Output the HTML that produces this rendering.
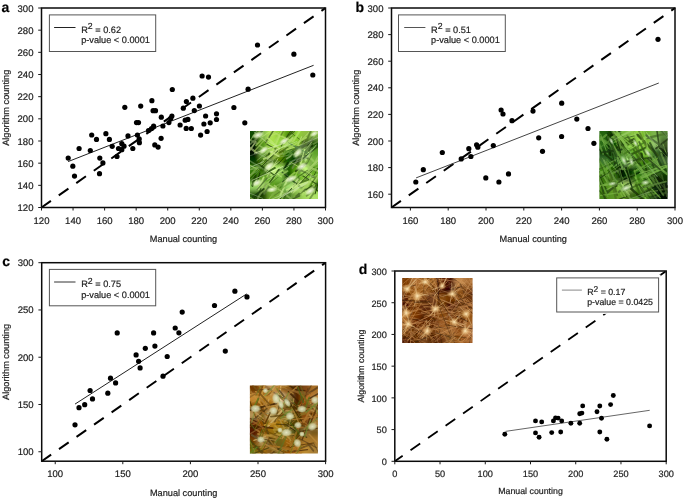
<!DOCTYPE html><html><head><meta charset="utf-8"><style>html,body{margin:0;padding:0;background:#fff;width:685px;height:499px;overflow:hidden}svg{display:block;will-change:transform}text{font-family:"Liberation Sans", sans-serif;stroke:#222;stroke-width:0.2px;text-rendering:geometricPrecision}</style></head><body>
<svg width="685" height="499" viewBox="0 0 685 499">
<rect width="685" height="499" fill="#fff"/>
<g transform="translate(250.1,131.1)"><defs><clipPath id="cla"><rect width="67.8" height="68"/></clipPath><filter id="fba" x="-20%" y="-20%" width="140%" height="140%"><feGaussianBlur stdDeviation="2.2"/></filter><filter id="fda" x="-10%" y="-10%" width="120%" height="120%"><feGaussianBlur stdDeviation="0.6"/></filter></defs><g clip-path="url(#cla)"><g filter="url(#fba)"><rect x="-8.5" y="-8.5" width="9.1" height="9.1" fill="#0f4900"/><rect x="0" y="-8.5" width="9.1" height="9.1" fill="#0f4900"/><rect x="8.5" y="-8.5" width="9.1" height="9.1" fill="#86bb4e"/><rect x="16.9" y="-8.5" width="9.1" height="9.1" fill="#b0e253"/><rect x="25.4" y="-8.5" width="9.1" height="9.1" fill="#90cd34"/><rect x="33.9" y="-8.5" width="9.1" height="9.1" fill="#52950c"/><rect x="42.4" y="-8.5" width="9.1" height="9.1" fill="#91d137"/><rect x="50.8" y="-8.5" width="9.1" height="9.1" fill="#8fbf41"/><rect x="59.3" y="-8.5" width="9.1" height="9.1" fill="#84b54b"/><rect x="67.8" y="-8.5" width="9.1" height="9.1" fill="#84b54b"/><rect x="-8.5" y="0" width="9.1" height="9.1" fill="#0f4900"/><rect x="0" y="0" width="9.1" height="9.1" fill="#0f4900"/><rect x="8.5" y="0" width="9.1" height="9.1" fill="#86bb4e"/><rect x="16.9" y="0" width="9.1" height="9.1" fill="#b0e253"/><rect x="25.4" y="0" width="9.1" height="9.1" fill="#90cd34"/><rect x="33.9" y="0" width="9.1" height="9.1" fill="#52950c"/><rect x="42.4" y="0" width="9.1" height="9.1" fill="#91d137"/><rect x="50.8" y="0" width="9.1" height="9.1" fill="#8fbf41"/><rect x="59.3" y="0" width="9.1" height="9.1" fill="#84b54b"/><rect x="67.8" y="0" width="9.1" height="9.1" fill="#84b54b"/><rect x="-8.5" y="8.5" width="9.1" height="9.1" fill="#001800"/><rect x="0" y="8.5" width="9.1" height="9.1" fill="#001800"/><rect x="8.5" y="8.5" width="9.1" height="9.1" fill="#519207"/><rect x="16.9" y="8.5" width="9.1" height="9.1" fill="#a6e249"/><rect x="25.4" y="8.5" width="9.1" height="9.1" fill="#9bd848"/><rect x="33.9" y="8.5" width="9.1" height="9.1" fill="#9cd155"/><rect x="42.4" y="8.5" width="9.1" height="9.1" fill="#86c72c"/><rect x="50.8" y="8.5" width="9.1" height="9.1" fill="#001900"/><rect x="59.3" y="8.5" width="9.1" height="9.1" fill="#194d00"/><rect x="67.8" y="8.5" width="9.1" height="9.1" fill="#194d00"/><rect x="-8.5" y="17" width="9.1" height="9.1" fill="#000e00"/><rect x="0" y="17" width="9.1" height="9.1" fill="#000e00"/><rect x="8.5" y="17" width="9.1" height="9.1" fill="#7db14a"/><rect x="16.9" y="17" width="9.1" height="9.1" fill="#a9d65d"/><rect x="25.4" y="17" width="9.1" height="9.1" fill="#67970a"/><rect x="33.9" y="17" width="9.1" height="9.1" fill="#266b00"/><rect x="42.4" y="17" width="9.1" height="9.1" fill="#024200"/><rect x="50.8" y="17" width="9.1" height="9.1" fill="#c3f686"/><rect x="59.3" y="17" width="9.1" height="9.1" fill="#60a329"/><rect x="67.8" y="17" width="9.1" height="9.1" fill="#60a329"/><rect x="-8.5" y="25.5" width="9.1" height="9.1" fill="#043700"/><rect x="0" y="25.5" width="9.1" height="9.1" fill="#043700"/><rect x="8.5" y="25.5" width="9.1" height="9.1" fill="#497d0c"/><rect x="16.9" y="25.5" width="9.1" height="9.1" fill="#275200"/><rect x="25.4" y="25.5" width="9.1" height="9.1" fill="#538300"/><rect x="33.9" y="25.5" width="9.1" height="9.1" fill="#105600"/><rect x="42.4" y="25.5" width="9.1" height="9.1" fill="#001b00"/><rect x="50.8" y="25.5" width="9.1" height="9.1" fill="#79ad3e"/><rect x="59.3" y="25.5" width="9.1" height="9.1" fill="#79b73e"/><rect x="67.8" y="25.5" width="9.1" height="9.1" fill="#79b73e"/><rect x="-8.5" y="34" width="9.1" height="9.1" fill="#3b7f08"/><rect x="0" y="34" width="9.1" height="9.1" fill="#3b7f08"/><rect x="8.5" y="34" width="9.1" height="9.1" fill="#255e00"/><rect x="16.9" y="34" width="9.1" height="9.1" fill="#d2ff87"/><rect x="25.4" y="34" width="9.1" height="9.1" fill="#a7e75e"/><rect x="33.9" y="34" width="9.1" height="9.1" fill="#125b00"/><rect x="42.4" y="34" width="9.1" height="9.1" fill="#5da410"/><rect x="50.8" y="34" width="9.1" height="9.1" fill="#c9ff7e"/><rect x="59.3" y="34" width="9.1" height="9.1" fill="#5ea220"/><rect x="67.8" y="34" width="9.1" height="9.1" fill="#5ea220"/><rect x="-8.5" y="42.5" width="9.1" height="9.1" fill="#255e00"/><rect x="0" y="42.5" width="9.1" height="9.1" fill="#255e00"/><rect x="8.5" y="42.5" width="9.1" height="9.1" fill="#65a628"/><rect x="16.9" y="42.5" width="9.1" height="9.1" fill="#67a92a"/><rect x="25.4" y="42.5" width="9.1" height="9.1" fill="#7dbd3f"/><rect x="33.9" y="42.5" width="9.1" height="9.1" fill="#003c00"/><rect x="42.4" y="42.5" width="9.1" height="9.1" fill="#5da41a"/><rect x="50.8" y="42.5" width="9.1" height="9.1" fill="#87cb36"/><rect x="59.3" y="42.5" width="9.1" height="9.1" fill="#74b62b"/><rect x="67.8" y="42.5" width="9.1" height="9.1" fill="#74b62b"/><rect x="-8.5" y="51" width="9.1" height="9.1" fill="#94d061"/><rect x="0" y="51" width="9.1" height="9.1" fill="#94d061"/><rect x="8.5" y="51" width="9.1" height="9.1" fill="#aada6c"/><rect x="16.9" y="51" width="9.1" height="9.1" fill="#60a121"/><rect x="25.4" y="51" width="9.1" height="9.1" fill="#42820b"/><rect x="33.9" y="51" width="9.1" height="9.1" fill="#a3de6e"/><rect x="42.4" y="51" width="9.1" height="9.1" fill="#b9e879"/><rect x="50.8" y="51" width="9.1" height="9.1" fill="#80c331"/><rect x="59.3" y="51" width="9.1" height="9.1" fill="#357006"/><rect x="67.8" y="51" width="9.1" height="9.1" fill="#357006"/><rect x="-8.5" y="59.5" width="9.1" height="9.1" fill="#295e0d"/><rect x="0" y="59.5" width="9.1" height="9.1" fill="#295e0d"/><rect x="8.5" y="59.5" width="9.1" height="9.1" fill="#1a4102"/><rect x="16.9" y="59.5" width="9.1" height="9.1" fill="#6ba12b"/><rect x="25.4" y="59.5" width="9.1" height="9.1" fill="#81b640"/><rect x="33.9" y="59.5" width="9.1" height="9.1" fill="#42761a"/><rect x="42.4" y="59.5" width="9.1" height="9.1" fill="#82b445"/><rect x="50.8" y="59.5" width="9.1" height="9.1" fill="#a1d85a"/><rect x="59.3" y="59.5" width="9.1" height="9.1" fill="#ace264"/><rect x="67.8" y="59.5" width="9.1" height="9.1" fill="#ace264"/><rect x="-8.5" y="68" width="9.1" height="9.1" fill="#295e0d"/><rect x="0" y="68" width="9.1" height="9.1" fill="#295e0d"/><rect x="8.5" y="68" width="9.1" height="9.1" fill="#1a4102"/><rect x="16.9" y="68" width="9.1" height="9.1" fill="#6ba12b"/><rect x="25.4" y="68" width="9.1" height="9.1" fill="#81b640"/><rect x="33.9" y="68" width="9.1" height="9.1" fill="#42761a"/><rect x="42.4" y="68" width="9.1" height="9.1" fill="#82b445"/><rect x="50.8" y="68" width="9.1" height="9.1" fill="#a1d85a"/><rect x="59.3" y="68" width="9.1" height="9.1" fill="#ace264"/><rect x="67.8" y="68" width="9.1" height="9.1" fill="#ace264"/></g><g filter="url(#fda)"><line x1="20.8" y1="44" x2="40.6" y2="32.1" stroke="#c2ea81" stroke-width="1.5" stroke-opacity="0.81" stroke-linecap="round"/><line x1="5.5" y1="38.8" x2="19.8" y2="21.9" stroke="#325a09" stroke-width="2.2" stroke-opacity="0.94" stroke-linecap="round"/><line x1="35.3" y1="48.7" x2="53.4" y2="35" stroke="#87be41" stroke-width="2" stroke-opacity="0.81" stroke-linecap="round"/><line x1="46.8" y1="16.6" x2="58.7" y2="27.8" stroke="#628442" stroke-width="1.7" stroke-opacity="0.76" stroke-linecap="round"/><line x1="14.9" y1="72.6" x2="22.8" y2="63.1" stroke="#99c25b" stroke-width="0.9" stroke-opacity="0.87" stroke-linecap="round"/><line x1="24.7" y1="59.6" x2="29.6" y2="55.5" stroke="#2a5708" stroke-width="2.1" stroke-opacity="0.62" stroke-linecap="round"/><line x1="18.4" y1="54.2" x2="32.6" y2="42.2" stroke="#4a7525" stroke-width="0.9" stroke-opacity="0.72" stroke-linecap="round"/><line x1="60.9" y1="60.6" x2="69.8" y2="42.5" stroke="#85af50" stroke-width="1.5" stroke-opacity="0.84" stroke-linecap="round"/><line x1="7.7" y1="39.2" x2="17.9" y2="30" stroke="#9dc068" stroke-width="0.8" stroke-opacity="0.90" stroke-linecap="round"/><line x1="62.8" y1="46.4" x2="69.4" y2="34.2" stroke="#2e5510" stroke-width="0.9" stroke-opacity="0.95" stroke-linecap="round"/><line x1="9.3" y1="14.5" x2="19.6" y2="20.6" stroke="#9dc767" stroke-width="1.6" stroke-opacity="0.69" stroke-linecap="round"/><line x1="33.9" y1="30.9" x2="47.7" y2="19.7" stroke="#1b4c02" stroke-width="1.3" stroke-opacity="0.82" stroke-linecap="round"/><line x1="16.8" y1="13.2" x2="25.4" y2="17.9" stroke="#3c5c1b" stroke-width="1.1" stroke-opacity="0.93" stroke-linecap="round"/><line x1="56.7" y1="43.7" x2="62.9" y2="38.4" stroke="#91c254" stroke-width="1.8" stroke-opacity="0.74" stroke-linecap="round"/><line x1="24.6" y1="64.3" x2="32.4" y2="58.8" stroke="#547c2a" stroke-width="1.1" stroke-opacity="0.80" stroke-linecap="round"/><line x1="54" y1="53.3" x2="61.6" y2="30.2" stroke="#82aa51" stroke-width="1.4" stroke-opacity="0.69" stroke-linecap="round"/><line x1="-0.3" y1="16.6" x2="6.6" y2="21.8" stroke="#8ba063" stroke-width="2.2" stroke-opacity="0.83" stroke-linecap="round"/><line x1="37.2" y1="47.2" x2="56.5" y2="32.2" stroke="#95c650" stroke-width="1.2" stroke-opacity="0.61" stroke-linecap="round"/><line x1="36.5" y1="9.8" x2="44.6" y2="0.4" stroke="#376709" stroke-width="1.6" stroke-opacity="0.86" stroke-linecap="round"/><line x1="50.8" y1="56.7" x2="71.2" y2="43.5" stroke="#abd56a" stroke-width="2.1" stroke-opacity="0.90" stroke-linecap="round"/><line x1="20.1" y1="58.1" x2="36.4" y2="49.4" stroke="#92bc58" stroke-width="1.7" stroke-opacity="0.63" stroke-linecap="round"/><line x1="37.1" y1="70.4" x2="49.6" y2="64.7" stroke="#406022" stroke-width="1.4" stroke-opacity="0.89" stroke-linecap="round"/><line x1="3.7" y1="54.4" x2="7.6" y2="47.7" stroke="#bee285" stroke-width="1" stroke-opacity="0.87" stroke-linecap="round"/><line x1="42.4" y1="36.8" x2="47.1" y2="29.3" stroke="#708a50" stroke-width="1.9" stroke-opacity="0.72" stroke-linecap="round"/><line x1="56.1" y1="40.6" x2="70" y2="27.2" stroke="#a6d16a" stroke-width="1.9" stroke-opacity="0.92" stroke-linecap="round"/><line x1="56.1" y1="22.5" x2="63.3" y2="29.8" stroke="#a3d068" stroke-width="2.1" stroke-opacity="0.61" stroke-linecap="round"/><line x1="-0.7" y1="72.5" x2="9.4" y2="60.8" stroke="#153408" stroke-width="1.3" stroke-opacity="0.78" stroke-linecap="round"/><line x1="42.5" y1="46.6" x2="48.7" y2="50.8" stroke="#aad36b" stroke-width="0.9" stroke-opacity="0.85" stroke-linecap="round"/><line x1="34.7" y1="19.3" x2="42.7" y2="22.7" stroke="#649936" stroke-width="2" stroke-opacity="0.68" stroke-linecap="round"/><line x1="4.4" y1="10.9" x2="14.7" y2="-4.5" stroke="#385620" stroke-width="2.1" stroke-opacity="0.84" stroke-linecap="round"/><line x1="4.9" y1="38.3" x2="22.2" y2="26.3" stroke="#7ba53e" stroke-width="1.1" stroke-opacity="0.87" stroke-linecap="round"/><line x1="28.2" y1="57.9" x2="44.9" y2="70.8" stroke="#9cbf68" stroke-width="2.1" stroke-opacity="0.63" stroke-linecap="round"/><line x1="59.5" y1="52.4" x2="67" y2="45.8" stroke="#4f801e" stroke-width="1.6" stroke-opacity="0.83" stroke-linecap="round"/><line x1="30.2" y1="64.4" x2="38" y2="47" stroke="#bfe686" stroke-width="1.9" stroke-opacity="0.82" stroke-linecap="round"/><line x1="36.5" y1="18.6" x2="60.8" y2="10.5" stroke="#b6de6e" stroke-width="1.2" stroke-opacity="0.92" stroke-linecap="round"/><line x1="55.4" y1="29.6" x2="60.6" y2="17.8" stroke="#caf18d" stroke-width="2.1" stroke-opacity="0.68" stroke-linecap="round"/><line x1="55.9" y1="34.8" x2="61.7" y2="23.5" stroke="#4d7327" stroke-width="1" stroke-opacity="0.78" stroke-linecap="round"/><line x1="41.6" y1="59.7" x2="56.5" y2="54.5" stroke="#769a4d" stroke-width="1.1" stroke-opacity="0.78" stroke-linecap="round"/><line x1="10.8" y1="56.8" x2="28.5" y2="42.3" stroke="#98c75c" stroke-width="1.3" stroke-opacity="0.90" stroke-linecap="round"/><line x1="53.8" y1="18.1" x2="68.3" y2="10.2" stroke="#678f3f" stroke-width="1.6" stroke-opacity="0.78" stroke-linecap="round"/><line x1="37" y1="7.6" x2="45.1" y2="-3.8" stroke="#2b5308" stroke-width="1.5" stroke-opacity="0.84" stroke-linecap="round"/><line x1="-5.9" y1="40.4" x2="14.8" y2="32.9" stroke="#7dae46" stroke-width="1.5" stroke-opacity="0.72" stroke-linecap="round"/><line x1="57.5" y1="65.6" x2="64.6" y2="61.6" stroke="#bae576" stroke-width="1.2" stroke-opacity="0.85" stroke-linecap="round"/><line x1="59.5" y1="9.6" x2="73" y2="-4.7" stroke="#a9cf6f" stroke-width="1.7" stroke-opacity="0.64" stroke-linecap="round"/><line x1="41.5" y1="2.1" x2="57.6" y2="14.6" stroke="#385a16" stroke-width="0.8" stroke-opacity="0.82" stroke-linecap="round"/><line x1="47.7" y1="37.5" x2="64.2" y2="46.2" stroke="#63853d" stroke-width="2" stroke-opacity="0.81" stroke-linecap="round"/><line x1="54.6" y1="20.9" x2="61.6" y2="10.8" stroke="#8da665" stroke-width="1.1" stroke-opacity="0.95" stroke-linecap="round"/><line x1="57.6" y1="12" x2="62.7" y2="6.2" stroke="#769c4b" stroke-width="2.1" stroke-opacity="0.79" stroke-linecap="round"/><line x1="44.1" y1="21.5" x2="51.5" y2="5.8" stroke="#b6de70" stroke-width="1.3" stroke-opacity="0.85" stroke-linecap="round"/><line x1="36.5" y1="27.6" x2="49.6" y2="19.1" stroke="#82aa5d" stroke-width="1.7" stroke-opacity="0.92" stroke-linecap="round"/><line x1="27.3" y1="23" x2="38" y2="2.8" stroke="#39591b" stroke-width="0.9" stroke-opacity="0.62" stroke-linecap="round"/><line x1="60.6" y1="38" x2="68.4" y2="24.8" stroke="#a6d16a" stroke-width="1.6" stroke-opacity="0.60" stroke-linecap="round"/><line x1="42.6" y1="61.8" x2="52.4" y2="53" stroke="#caea8d" stroke-width="1.6" stroke-opacity="0.63" stroke-linecap="round"/><line x1="47" y1="29.4" x2="60.5" y2="14.6" stroke="#597a3c" stroke-width="1.4" stroke-opacity="0.81" stroke-linecap="round"/><line x1="32.8" y1="70.7" x2="35.6" y2="62.9" stroke="#2b5111" stroke-width="2.1" stroke-opacity="0.65" stroke-linecap="round"/><line x1="16.8" y1="45.7" x2="27.9" y2="27.6" stroke="#d2f390" stroke-width="0.9" stroke-opacity="0.72" stroke-linecap="round"/><line x1="24.6" y1="10.4" x2="39" y2="-8.9" stroke="#adda60" stroke-width="2.1" stroke-opacity="0.70" stroke-linecap="round"/><line x1="9.3" y1="32" x2="20" y2="23.3" stroke="#254508" stroke-width="1.8" stroke-opacity="0.87" stroke-linecap="round"/><line x1="61.6" y1="-0.8" x2="71.3" y2="3.9" stroke="#add172" stroke-width="1.9" stroke-opacity="0.83" stroke-linecap="round"/><line x1="-4.1" y1="24.6" x2="5.6" y2="10.6" stroke="#91a667" stroke-width="1.6" stroke-opacity="0.95" stroke-linecap="round"/><line x1="37.5" y1="62.9" x2="49" y2="47.2" stroke="#648541" stroke-width="2.1" stroke-opacity="0.74" stroke-linecap="round"/><line x1="62.9" y1="56" x2="68.6" y2="60.4" stroke="#204606" stroke-width="1.5" stroke-opacity="0.81" stroke-linecap="round"/><line x1="22.2" y1="24.7" x2="27.4" y2="14.2" stroke="#618235" stroke-width="0.8" stroke-opacity="0.69" stroke-linecap="round"/><line x1="-1.8" y1="14.7" x2="7.6" y2="6.6" stroke="#748d53" stroke-width="1.8" stroke-opacity="0.71" stroke-linecap="round"/><line x1="45.5" y1="21.4" x2="62.6" y2="9" stroke="#516a3a" stroke-width="1.9" stroke-opacity="0.92" stroke-linecap="round"/><line x1="6.5" y1="67.8" x2="13.1" y2="62.7" stroke="#122e04" stroke-width="1.1" stroke-opacity="0.62" stroke-linecap="round"/><line x1="30.2" y1="12.9" x2="41.4" y2="4" stroke="#9bc65b" stroke-width="1.8" stroke-opacity="0.73" stroke-linecap="round"/><line x1="41.4" y1="60.5" x2="59.5" y2="50.4" stroke="#c3e984" stroke-width="2" stroke-opacity="0.87" stroke-linecap="round"/><line x1="37.6" y1="33.5" x2="47.1" y2="15.3" stroke="#1a4a02" stroke-width="1.2" stroke-opacity="0.68" stroke-linecap="round"/><line x1="61.6" y1="35.9" x2="67.5" y2="32.4" stroke="#92c254" stroke-width="1.4" stroke-opacity="0.82" stroke-linecap="round"/><line x1="-1" y1="46" x2="14.9" y2="27.7" stroke="#7cae45" stroke-width="2.2" stroke-opacity="0.77" stroke-linecap="round"/><line x1="13.6" y1="27.7" x2="34.4" y2="18.3" stroke="#b9de73" stroke-width="1.9" stroke-opacity="0.82" stroke-linecap="round"/><line x1="45.8" y1="17.3" x2="58.4" y2="11.7" stroke="#556e3d" stroke-width="2" stroke-opacity="0.81" stroke-linecap="round"/><line x1="14.7" y1="56.1" x2="24.7" y2="47.2" stroke="#abd26e" stroke-width="0.9" stroke-opacity="0.63" stroke-linecap="round"/><line x1="29.4" y1="39.1" x2="47.1" y2="26.8" stroke="#629540" stroke-width="1.7" stroke-opacity="0.63" stroke-linecap="round"/><line x1="19.1" y1="53.5" x2="22.1" y2="45.1" stroke="#a8d16b" stroke-width="1.3" stroke-opacity="0.64" stroke-linecap="round"/><line x1="43.7" y1="48.8" x2="52.5" y2="28.6" stroke="#93c54e" stroke-width="1.4" stroke-opacity="0.93" stroke-linecap="round"/><line x1="58.9" y1="19.6" x2="62.4" y2="14.2" stroke="#113203" stroke-width="1.9" stroke-opacity="0.86" stroke-linecap="round"/><line x1="17.6" y1="31.1" x2="32.3" y2="22" stroke="#90b05c" stroke-width="2" stroke-opacity="0.70" stroke-linecap="round"/><line x1="-3.8" y1="32.4" x2="6.8" y2="37.8" stroke="#9cc564" stroke-width="1.4" stroke-opacity="0.80" stroke-linecap="round"/><line x1="18" y1="47.1" x2="23.4" y2="27.1" stroke="#86a956" stroke-width="1.7" stroke-opacity="0.65" stroke-linecap="round"/><line x1="44.1" y1="48.6" x2="57" y2="39.6" stroke="#366410" stroke-width="1.4" stroke-opacity="0.72" stroke-linecap="round"/><line x1="48.3" y1="28" x2="61.1" y2="17.2" stroke="#547439" stroke-width="2.1" stroke-opacity="0.74" stroke-linecap="round"/><line x1="48.4" y1="53.7" x2="63.7" y2="37" stroke="#315314" stroke-width="1.7" stroke-opacity="0.78" stroke-linecap="round"/><line x1="36.7" y1="58.7" x2="59.6" y2="50.4" stroke="#c3e985" stroke-width="1.7" stroke-opacity="0.84" stroke-linecap="round"/><line x1="10.8" y1="20.1" x2="32.8" y2="32.8" stroke="#759845" stroke-width="1" stroke-opacity="0.83" stroke-linecap="round"/><line x1="50.5" y1="14.6" x2="54.7" y2="9.8" stroke="#849d5f" stroke-width="1.2" stroke-opacity="0.67" stroke-linecap="round"/><line x1="17.5" y1="34.2" x2="31.2" y2="45.8" stroke="#d2f78d" stroke-width="1.2" stroke-opacity="0.66" stroke-linecap="round"/><line x1="45.4" y1="15.1" x2="57.3" y2="27.3" stroke="#638543" stroke-width="1.4" stroke-opacity="0.93" stroke-linecap="round"/><line x1="41.8" y1="56.8" x2="47.7" y2="48.2" stroke="#caea8d" stroke-width="1.9" stroke-opacity="0.73" stroke-linecap="round"/><line x1="33.9" y1="38.1" x2="37.7" y2="32" stroke="#0d3103" stroke-width="2" stroke-opacity="0.92" stroke-linecap="round"/><line x1="26.5" y1="18.9" x2="34.6" y2="14.7" stroke="#b4e16c" stroke-width="1.2" stroke-opacity="0.90" stroke-linecap="round"/><line x1="27.7" y1="39.2" x2="42.3" y2="47.4" stroke="#82a85d" stroke-width="0.8" stroke-opacity="0.89" stroke-linecap="round"/><line x1="52.6" y1="63.7" x2="62.1" y2="48.1" stroke="#b6dd74" stroke-width="1.8" stroke-opacity="0.63" stroke-linecap="round"/><line x1="41.3" y1="31.5" x2="60.2" y2="42.4" stroke="#abd46a" stroke-width="0.9" stroke-opacity="0.89" stroke-linecap="round"/><line x1="3.9" y1="29.8" x2="24.4" y2="44.1" stroke="#194002" stroke-width="1.4" stroke-opacity="0.79" stroke-linecap="round"/><line x1="62.4" y1="53.8" x2="72.8" y2="37" stroke="#a2d05f" stroke-width="1.4" stroke-opacity="0.94" stroke-linecap="round"/><line x1="49.3" y1="51.8" x2="63.3" y2="37.2" stroke="#a9d961" stroke-width="1" stroke-opacity="0.87" stroke-linecap="round"/><line x1="54.1" y1="59.7" x2="61.9" y2="55.1" stroke="#305213" stroke-width="1.8" stroke-opacity="0.93" stroke-linecap="round"/><line x1="48.7" y1="42.1" x2="53.6" y2="33.4" stroke="#709546" stroke-width="2.1" stroke-opacity="0.80" stroke-linecap="round"/><line x1="45.7" y1="25.4" x2="52.5" y2="19.7" stroke="#7ca558" stroke-width="1.8" stroke-opacity="0.66" stroke-linecap="round"/><line x1="24.2" y1="54.3" x2="30.3" y2="59.5" stroke="#a6cb6c" stroke-width="1.4" stroke-opacity="0.87" stroke-linecap="round"/><line x1="18.6" y1="53.7" x2="27.7" y2="58.2" stroke="#a3cd66" stroke-width="1.5" stroke-opacity="0.92" stroke-linecap="round"/><line x1="32.4" y1="41.2" x2="52.1" y2="57.6" stroke="#062903" stroke-width="1.7" stroke-opacity="0.61" stroke-linecap="round"/><line x1="17.2" y1="27.6" x2="27.7" y2="19" stroke="#c3e381" stroke-width="2" stroke-opacity="0.81" stroke-linecap="round"/><line x1="7.9" y1="58" x2="13.6" y2="46.3" stroke="#bae17d" stroke-width="1.8" stroke-opacity="0.95" stroke-linecap="round"/><line x1="32.4" y1="50.7" x2="37.5" y2="46.6" stroke="#062803" stroke-width="1" stroke-opacity="0.77" stroke-linecap="round"/><line x1="23.6" y1="27.3" x2="33" y2="18" stroke="#91b841" stroke-width="2.2" stroke-opacity="0.65" stroke-linecap="round"/><line x1="50.2" y1="31.9" x2="72.3" y2="42" stroke="#a5cf68" stroke-width="2.1" stroke-opacity="0.72" stroke-linecap="round"/><line x1="3.9" y1="73.9" x2="15.8" y2="53.1" stroke="#7f9f54" stroke-width="2" stroke-opacity="0.66" stroke-linecap="round"/><line x1="31.3" y1="14.3" x2="43" y2="-3.9" stroke="#204007" stroke-width="1" stroke-opacity="0.86" stroke-linecap="round"/><line x1="48.7" y1="55" x2="66.2" y2="68.3" stroke="#b6e073" stroke-width="1.5" stroke-opacity="0.65" stroke-linecap="round"/><line x1="23.1" y1="41.7" x2="29.3" y2="35.7" stroke="#c4ea84" stroke-width="0.9" stroke-opacity="0.87" stroke-linecap="round"/><line x1="40.4" y1="56.5" x2="57.4" y2="50.6" stroke="#c5e987" stroke-width="1.7" stroke-opacity="0.84" stroke-linecap="round"/><line x1="44.3" y1="53.8" x2="58.5" y2="48.4" stroke="#3a6017" stroke-width="2" stroke-opacity="0.64" stroke-linecap="round"/><line x1="4.6" y1="70.5" x2="10.9" y2="57.2" stroke="#1b3f09" stroke-width="0.9" stroke-opacity="0.85" stroke-linecap="round"/><line x1="51.7" y1="44.2" x2="70.4" y2="55.3" stroke="#2e5112" stroke-width="1.1" stroke-opacity="0.90" stroke-linecap="round"/><line x1="14.1" y1="62.7" x2="18.7" y2="56" stroke="#537334" stroke-width="1.7" stroke-opacity="0.93" stroke-linecap="round"/><line x1="55.6" y1="73.9" x2="63.7" y2="62" stroke="#678d3b" stroke-width="1.8" stroke-opacity="0.80" stroke-linecap="round"/><line x1="55.8" y1="13" x2="66.7" y2="0.4" stroke="#597f32" stroke-width="1.1" stroke-opacity="0.70" stroke-linecap="round"/><line x1="15.6" y1="6.9" x2="28.5" y2="1.6" stroke="#c3e778" stroke-width="0.9" stroke-opacity="0.61" stroke-linecap="round"/><line x1="52.5" y1="27.6" x2="69.3" y2="14.2" stroke="#274a11" stroke-width="1.1" stroke-opacity="0.90" stroke-linecap="round"/><line x1="43.4" y1="9.5" x2="50.5" y2="-1.5" stroke="#acdc5e" stroke-width="2" stroke-opacity="0.95" stroke-linecap="round"/><line x1="2.6" y1="49.2" x2="24.8" y2="36.8" stroke="#3b6718" stroke-width="1.9" stroke-opacity="0.94" stroke-linecap="round"/><line x1="9.5" y1="37.3" x2="27.6" y2="19.9" stroke="#193702" stroke-width="1" stroke-opacity="0.90" stroke-linecap="round"/><line x1="6.6" y1="52.1" x2="9.8" y2="41.9" stroke="#143503" stroke-width="1.3" stroke-opacity="0.83" stroke-linecap="round"/><line x1="49.5" y1="45.8" x2="70.5" y2="34.4" stroke="#90c153" stroke-width="1" stroke-opacity="0.83" stroke-linecap="round"/><line x1="20.4" y1="0.1" x2="42.3" y2="10.2" stroke="#b5de6a" stroke-width="1.6" stroke-opacity="0.75" stroke-linecap="round"/><line x1="34.5" y1="15.4" x2="42.6" y2="7" stroke="#b2dc70" stroke-width="2.1" stroke-opacity="0.95" stroke-linecap="round"/><line x1="-8.1" y1="24.8" x2="12.7" y2="37.9" stroke="#59813e" stroke-width="1.6" stroke-opacity="0.83" stroke-linecap="round"/><line x1="19.7" y1="51.3" x2="29" y2="38.2" stroke="#305614" stroke-width="1.5" stroke-opacity="0.93" stroke-linecap="round"/><line x1="7" y1="58.6" x2="16.6" y2="47.4" stroke="#537334" stroke-width="1.2" stroke-opacity="0.85" stroke-linecap="round"/><line x1="41.2" y1="13.5" x2="56.7" y2="21.8" stroke="#4d7f36" stroke-width="1.6" stroke-opacity="0.85" stroke-linecap="round"/><line x1="32.3" y1="65.7" x2="45.3" y2="53" stroke="#c1e687" stroke-width="1.5" stroke-opacity="0.85" stroke-linecap="round"/><line x1="52" y1="8.3" x2="64.2" y2="-4.1" stroke="#b9db76" stroke-width="1.1" stroke-opacity="0.65" stroke-linecap="round"/><line x1="15.5" y1="11.6" x2="26.7" y2="-5.9" stroke="#496823" stroke-width="1.5" stroke-opacity="0.83" stroke-linecap="round"/><line x1="28" y1="33.1" x2="41.2" y2="18.4" stroke="#0c3203" stroke-width="0.9" stroke-opacity="0.74" stroke-linecap="round"/><line x1="20.1" y1="24.2" x2="29.3" y2="5.2" stroke="#b7e668" stroke-width="1.8" stroke-opacity="0.78" stroke-linecap="round"/><line x1="62.7" y1="1.8" x2="71" y2="-1.3" stroke="#a7ce6d" stroke-width="1.4" stroke-opacity="0.63" stroke-linecap="round"/><line x1="-2.5" y1="65.1" x2="7.2" y2="70.4" stroke="#729b49" stroke-width="1.4" stroke-opacity="0.93" stroke-linecap="round"/><line x1="20.6" y1="20.7" x2="28.7" y2="25.1" stroke="#c6e585" stroke-width="1.8" stroke-opacity="0.80" stroke-linecap="round"/><line x1="56.6" y1="64.7" x2="67.1" y2="55.6" stroke="#5e8236" stroke-width="1.9" stroke-opacity="0.68" stroke-linecap="round"/><line x1="17.8" y1="7.2" x2="29.3" y2="17.7" stroke="#bfe774" stroke-width="1.9" stroke-opacity="0.77" stroke-linecap="round"/><line x1="28.9" y1="45.2" x2="37.5" y2="40" stroke="#9dce60" stroke-width="1.8" stroke-opacity="0.73" stroke-linecap="round"/><line x1="11.9" y1="5.8" x2="25.3" y2="-3.3" stroke="#c4e77a" stroke-width="1.1" stroke-opacity="0.64" stroke-linecap="round"/><line x1="2.4" y1="54.7" x2="5.4" y2="44.3" stroke="#1a4402" stroke-width="2.2" stroke-opacity="0.89" stroke-linecap="round"/><line x1="21.6" y1="64.1" x2="39.4" y2="52.1" stroke="#77a93e" stroke-width="1.4" stroke-opacity="0.68" stroke-linecap="round"/><line x1="-1.8" y1="8" x2="7.3" y2="12.5" stroke="#6d854e" stroke-width="1.8" stroke-opacity="0.78" stroke-linecap="round"/><line x1="33.1" y1="23.3" x2="41.2" y2="19.4" stroke="#73a443" stroke-width="1.8" stroke-opacity="0.74" stroke-linecap="round"/><line x1="21.9" y1="64" x2="30.6" y2="53.8" stroke="#7bac42" stroke-width="2" stroke-opacity="0.86" stroke-linecap="round"/><line x1="31" y1="4" x2="34.5" y2="-2.4" stroke="#476c1a" stroke-width="1.3" stroke-opacity="0.64" stroke-linecap="round"/><line x1="50.6" y1="32.5" x2="54.4" y2="18.4" stroke="#c9f28c" stroke-width="1.3" stroke-opacity="0.71" stroke-linecap="round"/><line x1="29.3" y1="21.5" x2="38.1" y2="16.5" stroke="#3b5d08" stroke-width="1.8" stroke-opacity="0.78" stroke-linecap="round"/><line x1="46.1" y1="65.3" x2="54.6" y2="58.1" stroke="#4b6e28" stroke-width="2.1" stroke-opacity="0.92" stroke-linecap="round"/><line x1="2.6" y1="65.8" x2="13.7" y2="57.9" stroke="#1b4009" stroke-width="1.8" stroke-opacity="0.91" stroke-linecap="round"/><line x1="0" y1="9.5" x2="9.8" y2="-4.7" stroke="#81a858" stroke-width="1.1" stroke-opacity="0.76" stroke-linecap="round"/><line x1="39.3" y1="74.7" x2="44.1" y2="55.1" stroke="#78a249" stroke-width="0.9" stroke-opacity="0.79" stroke-linecap="round"/><line x1="33.5" y1="13" x2="49.6" y2="-4.3" stroke="#a8ce68" stroke-width="0.9" stroke-opacity="0.65" stroke-linecap="round"/><line x1="33.1" y1="23.9" x2="35.7" y2="18.1" stroke="#72a443" stroke-width="1.2" stroke-opacity="0.68" stroke-linecap="round"/><line x1="29" y1="68.7" x2="41.6" y2="57.3" stroke="#1f3e0d" stroke-width="0.9" stroke-opacity="0.89" stroke-linecap="round"/><line x1="58.6" y1="50.8" x2="61.3" y2="43.2" stroke="#afd76f" stroke-width="1.1" stroke-opacity="0.74" stroke-linecap="round"/><line x1="4.5" y1="19.9" x2="16.8" y2="6.2" stroke="#98c355" stroke-width="1.3" stroke-opacity="0.70" stroke-linecap="round"/><line x1="45.5" y1="40.2" x2="56.1" y2="32.4" stroke="#254909" stroke-width="1.8" stroke-opacity="0.91" stroke-linecap="round"/><line x1="65" y1="62.8" x2="69.1" y2="48.4" stroke="#1f4405" stroke-width="1" stroke-opacity="0.90" stroke-linecap="round"/><line x1="55" y1="13.2" x2="63" y2="-6" stroke="#557827" stroke-width="1.7" stroke-opacity="0.73" stroke-linecap="round"/><line x1="36.7" y1="18.4" x2="55.9" y2="6.5" stroke="#acd961" stroke-width="1.8" stroke-opacity="0.82" stroke-linecap="round"/><line x1="50.1" y1="61.2" x2="62.6" y2="47.7" stroke="#afda6b" stroke-width="2.2" stroke-opacity="0.77" stroke-linecap="round"/><line x1="43" y1="57.8" x2="51" y2="49.7" stroke="#c8ea8a" stroke-width="1.3" stroke-opacity="0.84" stroke-linecap="round"/><line x1="6" y1="14.3" x2="12.8" y2="7.1" stroke="#96c254" stroke-width="1.9" stroke-opacity="0.74" stroke-linecap="round"/><line x1="58.4" y1="58.9" x2="64.2" y2="54.4" stroke="#9cc064" stroke-width="1.7" stroke-opacity="0.68" stroke-linecap="round"/><line x1="39.8" y1="30.8" x2="58.1" y2="24.7" stroke="#80917b" stroke-width="0.8" stroke-opacity="0.65" stroke-linecap="round"/><line x1="4" y1="0.9" x2="19.8" y2="13.7" stroke="#c9e1b1" stroke-width="0.6" stroke-opacity="0.80" stroke-linecap="round"/><line x1="8.7" y1="22.9" x2="28.5" y2="31.5" stroke="#7e9a65" stroke-width="0.5" stroke-opacity="0.62" stroke-linecap="round"/><line x1="54.9" y1="28.1" x2="66.1" y2="13.9" stroke="#b8d69e" stroke-width="0.9" stroke-opacity="0.74" stroke-linecap="round"/><line x1="-5" y1="26.3" x2="9.4" y2="21.5" stroke="#97a292" stroke-width="0.6" stroke-opacity="0.67" stroke-linecap="round"/><line x1="4.2" y1="22.1" x2="35.2" y2="11.9" stroke="#d4eeae" stroke-width="0.9" stroke-opacity="0.79" stroke-linecap="round"/><line x1="38.5" y1="23.3" x2="53" y2="13.6" stroke="#558151" stroke-width="0.6" stroke-opacity="0.94" stroke-linecap="round"/><line x1="-12" y1="41.3" x2="13.5" y2="30.5" stroke="#abc993" stroke-width="0.8" stroke-opacity="0.87" stroke-linecap="round"/><line x1="54.4" y1="12" x2="79.3" y2="1.7" stroke="#cae0b1" stroke-width="0.5" stroke-opacity="0.80" stroke-linecap="round"/><line x1="8.2" y1="22.2" x2="22.6" y2="30.6" stroke="#a6c187" stroke-width="0.7" stroke-opacity="0.71" stroke-linecap="round"/><line x1="-0.8" y1="49.8" x2="9.8" y2="39" stroke="#6e9554" stroke-width="0.6" stroke-opacity="0.71" stroke-linecap="round"/><line x1="6.8" y1="29.4" x2="21.2" y2="17.9" stroke="#a4c980" stroke-width="0.7" stroke-opacity="0.74" stroke-linecap="round"/><line x1="16.5" y1="41.2" x2="27.1" y2="31.8" stroke="#e0f9bb" stroke-width="0.7" stroke-opacity="0.71" stroke-linecap="round"/><line x1="19.6" y1="68.9" x2="44.6" y2="58.7" stroke="#b1d289" stroke-width="0.8" stroke-opacity="0.93" stroke-linecap="round"/><line x1="17.4" y1="9.9" x2="26.3" y2="15.1" stroke="#cfeda3" stroke-width="0.9" stroke-opacity="0.62" stroke-linecap="round"/><line x1="29.5" y1="25.9" x2="54.1" y2="20.9" stroke="#93b77d" stroke-width="0.5" stroke-opacity="0.89" stroke-linecap="round"/><line x1="37.9" y1="34.4" x2="55.7" y2="27.2" stroke="#849580" stroke-width="0.7" stroke-opacity="0.78" stroke-linecap="round"/><line x1="-2.8" y1="45" x2="7.2" y2="40.3" stroke="#81a46a" stroke-width="0.7" stroke-opacity="0.71" stroke-linecap="round"/><line x1="2" y1="49.3" x2="32.7" y2="35.4" stroke="#e3f8c4" stroke-width="0.6" stroke-opacity="0.95" stroke-linecap="round"/><line x1="19.8" y1="21.4" x2="46.8" y2="10.4" stroke="#d4ecb5" stroke-width="0.5" stroke-opacity="0.90" stroke-linecap="round"/><line x1="38.2" y1="11.5" x2="58.3" y2="22.6" stroke="#648d5f" stroke-width="0.6" stroke-opacity="0.83" stroke-linecap="round"/><line x1="-0.8" y1="38.9" x2="10.7" y2="36.6" stroke="#7cab59" stroke-width="0.8" stroke-opacity="0.94" stroke-linecap="round"/><line x1="-3.9" y1="60.6" x2="12.8" y2="67.4" stroke="#aec5a0" stroke-width="0.6" stroke-opacity="0.70" stroke-linecap="round"/><line x1="17.6" y1="48.3" x2="38.8" y2="35.3" stroke="#c1ec90" stroke-width="0.9" stroke-opacity="0.67" stroke-linecap="round"/><line x1="27.8" y1="67.7" x2="57.5" y2="51.5" stroke="#c5ddaa" stroke-width="0.8" stroke-opacity="0.90" stroke-linecap="round"/><line x1="57.7" y1="47.8" x2="70.6" y2="41.7" stroke="#bbdb99" stroke-width="0.7" stroke-opacity="0.65" stroke-linecap="round"/><defs><radialGradient id="rga"><stop offset="0" stop-color="#f4f9e6" stop-opacity="1"/><stop offset="0.55" stop-color="#dcefb8" stop-opacity="0.75"/><stop offset="1" stop-color="#b8dc88" stop-opacity="0"/></radialGradient></defs><ellipse cx="8" cy="4" rx="7" ry="3.5" fill="url(#rga)" transform="rotate(-20 8 4)"/><ellipse cx="13.6" cy="19" rx="6" ry="3" fill="url(#rga)" transform="rotate(-40 13.6 19)"/><ellipse cx="19" cy="35.4" rx="7" ry="3.5" fill="url(#rga)" transform="rotate(-40 19 35.4)"/><ellipse cx="47.7" cy="21.8" rx="7" ry="3.5" fill="url(#rga)" transform="rotate(-50 47.7 21.8)"/><ellipse cx="51.8" cy="35.4" rx="7" ry="3.5" fill="url(#rga)" transform="rotate(-30 51.8 35.4)"/><ellipse cx="40.9" cy="47.7" rx="8" ry="3.5" fill="url(#rga)" transform="rotate(-20 40.9 47.7)"/><ellipse cx="6.8" cy="51.8" rx="6" ry="3.5" fill="url(#rga)" transform="rotate(-30 6.8 51.8)"/><ellipse cx="60" cy="60" rx="7" ry="3.5" fill="url(#rga)" transform="rotate(-30 60 60)"/><ellipse cx="21.8" cy="58.6" rx="6" ry="3" fill="url(#rga)" transform="rotate(-10 21.8 58.6)"/><ellipse cx="34" cy="10" rx="6" ry="3" fill="url(#rga)" transform="rotate(-30 34 10)"/><ellipse cx="64" cy="2.7" rx="5" ry="2.5" fill="url(#rga)" transform="rotate(-30 64 2.7)"/></g></g></g>
<line x1="41.5" y1="207.5" x2="325.5" y2="8" stroke="#000" stroke-width="2" stroke-dasharray="11.8 9.6" stroke-dashoffset="0.3"/>
<line x1="68.1" y1="161.6" x2="313.6" y2="65.3" stroke="#222" stroke-width="1"/>
<circle cx="68.2" cy="158.1" r="2.6" fill="#000"/>
<circle cx="72.8" cy="166.2" r="2.6" fill="#000"/>
<circle cx="74.5" cy="176.1" r="2.6" fill="#000"/>
<circle cx="79.1" cy="148.5" r="2.6" fill="#000"/>
<circle cx="90.3" cy="150.5" r="2.6" fill="#000"/>
<circle cx="91.7" cy="135" r="2.6" fill="#000"/>
<circle cx="96.5" cy="139.4" r="2.6" fill="#000"/>
<circle cx="99.8" cy="158.1" r="2.6" fill="#000"/>
<circle cx="102.9" cy="162.9" r="2.6" fill="#000"/>
<circle cx="99.5" cy="173.7" r="2.6" fill="#000"/>
<circle cx="105.9" cy="133.7" r="2.6" fill="#000"/>
<circle cx="109.4" cy="139.4" r="2.6" fill="#000"/>
<circle cx="112.2" cy="146.3" r="2.6" fill="#000"/>
<circle cx="117" cy="156.5" r="2.6" fill="#000"/>
<circle cx="118.5" cy="148.5" r="2.6" fill="#000"/>
<circle cx="121.8" cy="143.7" r="2.6" fill="#000"/>
<circle cx="124" cy="146.2" r="2.6" fill="#000"/>
<circle cx="121.8" cy="149.7" r="2.6" fill="#000"/>
<circle cx="128" cy="135.9" r="2.6" fill="#000"/>
<circle cx="132.8" cy="148.5" r="2.6" fill="#000"/>
<circle cx="137.4" cy="135" r="2.6" fill="#000"/>
<circle cx="139.2" cy="138.9" r="2.6" fill="#000"/>
<circle cx="139.4" cy="142.7" r="2.6" fill="#000"/>
<circle cx="124.8" cy="107.3" r="2.6" fill="#000"/>
<circle cx="136.5" cy="122.6" r="2.6" fill="#000"/>
<circle cx="138.5" cy="122.6" r="2.6" fill="#000"/>
<circle cx="140.7" cy="106.1" r="2.6" fill="#000"/>
<circle cx="151.9" cy="100.7" r="2.6" fill="#000"/>
<circle cx="153.1" cy="110.7" r="2.6" fill="#000"/>
<circle cx="155.5" cy="110.7" r="2.6" fill="#000"/>
<circle cx="148.5" cy="130.5" r="2.6" fill="#000"/>
<circle cx="151.5" cy="128.5" r="2.6" fill="#000"/>
<circle cx="153.6" cy="126.1" r="2.6" fill="#000"/>
<circle cx="154.8" cy="144.9" r="2.6" fill="#000"/>
<circle cx="158.1" cy="147.1" r="2.6" fill="#000"/>
<circle cx="161.1" cy="138.3" r="2.6" fill="#000"/>
<circle cx="161.3" cy="117.2" r="2.6" fill="#000"/>
<circle cx="162.9" cy="126" r="2.6" fill="#000"/>
<circle cx="168.9" cy="122.6" r="2.6" fill="#000"/>
<circle cx="170.7" cy="118.4" r="2.6" fill="#000"/>
<circle cx="171.9" cy="116" r="2.6" fill="#000"/>
<circle cx="172.3" cy="89.5" r="2.6" fill="#000"/>
<circle cx="180.1" cy="125" r="2.6" fill="#000"/>
<circle cx="185.2" cy="120.2" r="2.6" fill="#000"/>
<circle cx="187.9" cy="119.4" r="2.6" fill="#000"/>
<circle cx="186.2" cy="128.4" r="2.6" fill="#000"/>
<circle cx="191.3" cy="128.5" r="2.6" fill="#000"/>
<circle cx="186.4" cy="101.6" r="2.6" fill="#000"/>
<circle cx="183.3" cy="108.2" r="2.6" fill="#000"/>
<circle cx="192.9" cy="98.2" r="2.6" fill="#000"/>
<circle cx="199.4" cy="106" r="2.6" fill="#000"/>
<circle cx="194.3" cy="110.6" r="2.6" fill="#000"/>
<circle cx="202.1" cy="76" r="2.6" fill="#000"/>
<circle cx="208.5" cy="77.1" r="2.6" fill="#000"/>
<circle cx="205.6" cy="116" r="2.6" fill="#000"/>
<circle cx="216.5" cy="113.8" r="2.6" fill="#000"/>
<circle cx="216.5" cy="119.5" r="2.6" fill="#000"/>
<circle cx="210.2" cy="122.8" r="2.6" fill="#000"/>
<circle cx="203.9" cy="124" r="2.6" fill="#000"/>
<circle cx="233.9" cy="107.5" r="2.6" fill="#000"/>
<circle cx="244.8" cy="122.8" r="2.6" fill="#000"/>
<circle cx="248.1" cy="89.2" r="2.6" fill="#000"/>
<circle cx="207.1" cy="131.5" r="2.6" fill="#000"/>
<circle cx="200.6" cy="135.1" r="2.6" fill="#000"/>
<circle cx="257.5" cy="45" r="2.6" fill="#000"/>
<circle cx="293.9" cy="54.2" r="2.6" fill="#000"/>
<circle cx="312.8" cy="75" r="2.6" fill="#000"/>
<rect x="49.4" y="14.9" width="106.3" height="36.6" fill="#fff" stroke="#555" stroke-width="1"/>
<line x1="54.1" y1="27.5" x2="75.5" y2="27.5" stroke="#222" stroke-width="1"/>
<text x="81.2" y="32.9" font-size="9.2" fill="#222">R<tspan font-size="8.74" dy="-3.6">2</tspan><tspan dy="3.6"> = 0.62</tspan></text>
<text x="81.2" y="43.3" font-size="9.2" fill="#222">p-value &lt; 0.0001</text>
<rect x="41.5" y="8" width="284" height="199.5" fill="none" stroke="#0a0a0a" stroke-width="1.5"/>
<line x1="41.5" y1="207.5" x2="41.5" y2="210.5" stroke="#1a1a1a" stroke-width="1"/>
<text x="41.5" y="224.2" font-size="9.55" fill="#222" text-anchor="middle">120</text>
<line x1="73.06" y1="207.5" x2="73.06" y2="210.5" stroke="#1a1a1a" stroke-width="1"/>
<text x="73.06" y="224.2" font-size="9.55" fill="#222" text-anchor="middle">140</text>
<line x1="104.61" y1="207.5" x2="104.61" y2="210.5" stroke="#1a1a1a" stroke-width="1"/>
<text x="104.61" y="224.2" font-size="9.55" fill="#222" text-anchor="middle">160</text>
<line x1="136.17" y1="207.5" x2="136.17" y2="210.5" stroke="#1a1a1a" stroke-width="1"/>
<text x="136.17" y="224.2" font-size="9.55" fill="#222" text-anchor="middle">180</text>
<line x1="167.72" y1="207.5" x2="167.72" y2="210.5" stroke="#1a1a1a" stroke-width="1"/>
<text x="167.72" y="224.2" font-size="9.55" fill="#222" text-anchor="middle">200</text>
<line x1="199.28" y1="207.5" x2="199.28" y2="210.5" stroke="#1a1a1a" stroke-width="1"/>
<text x="199.28" y="224.2" font-size="9.55" fill="#222" text-anchor="middle">220</text>
<line x1="230.83" y1="207.5" x2="230.83" y2="210.5" stroke="#1a1a1a" stroke-width="1"/>
<text x="230.83" y="224.2" font-size="9.55" fill="#222" text-anchor="middle">240</text>
<line x1="262.39" y1="207.5" x2="262.39" y2="210.5" stroke="#1a1a1a" stroke-width="1"/>
<text x="262.39" y="224.2" font-size="9.55" fill="#222" text-anchor="middle">260</text>
<line x1="293.94" y1="207.5" x2="293.94" y2="210.5" stroke="#1a1a1a" stroke-width="1"/>
<text x="293.94" y="224.2" font-size="9.55" fill="#222" text-anchor="middle">280</text>
<line x1="325.5" y1="207.5" x2="325.5" y2="210.5" stroke="#1a1a1a" stroke-width="1"/>
<text x="325.5" y="224.2" font-size="9.55" fill="#222" text-anchor="middle">300</text>
<line x1="38.2" y1="207.5" x2="41.5" y2="207.5" stroke="#1a1a1a" stroke-width="1"/>
<text x="33.5" y="211" font-size="9.55" fill="#222" text-anchor="end">120</text>
<line x1="38.2" y1="185.33" x2="41.5" y2="185.33" stroke="#1a1a1a" stroke-width="1"/>
<text x="33.5" y="188.83" font-size="9.55" fill="#222" text-anchor="end">140</text>
<line x1="38.2" y1="163.17" x2="41.5" y2="163.17" stroke="#1a1a1a" stroke-width="1"/>
<text x="33.5" y="166.67" font-size="9.55" fill="#222" text-anchor="end">160</text>
<line x1="38.2" y1="141" x2="41.5" y2="141" stroke="#1a1a1a" stroke-width="1"/>
<text x="33.5" y="144.5" font-size="9.55" fill="#222" text-anchor="end">180</text>
<line x1="38.2" y1="118.83" x2="41.5" y2="118.83" stroke="#1a1a1a" stroke-width="1"/>
<text x="33.5" y="122.33" font-size="9.55" fill="#222" text-anchor="end">200</text>
<line x1="38.2" y1="96.67" x2="41.5" y2="96.67" stroke="#1a1a1a" stroke-width="1"/>
<text x="33.5" y="100.17" font-size="9.55" fill="#222" text-anchor="end">220</text>
<line x1="38.2" y1="74.5" x2="41.5" y2="74.5" stroke="#1a1a1a" stroke-width="1"/>
<text x="33.5" y="78" font-size="9.55" fill="#222" text-anchor="end">240</text>
<line x1="38.2" y1="52.33" x2="41.5" y2="52.33" stroke="#1a1a1a" stroke-width="1"/>
<text x="33.5" y="55.83" font-size="9.55" fill="#222" text-anchor="end">260</text>
<line x1="38.2" y1="30.17" x2="41.5" y2="30.17" stroke="#1a1a1a" stroke-width="1"/>
<text x="33.5" y="33.67" font-size="9.55" fill="#222" text-anchor="end">280</text>
<line x1="38.2" y1="8" x2="41.5" y2="8" stroke="#1a1a1a" stroke-width="1"/>
<text x="33.5" y="11.5" font-size="9.55" fill="#222" text-anchor="end">300</text>
<text x="183.5" y="242.3" font-size="9.2" fill="#222" text-anchor="middle">Manual counting</text>
<text transform="translate(8.8,107.75) rotate(-90)" font-size="9.2" fill="#222" text-anchor="middle">Algorithm counting</text>
<text x="1.6" y="11.6" font-size="14" font-weight="bold" fill="#000">a</text>
<g transform="translate(599.4,131.1)"><defs><clipPath id="clb"><rect width="68.2" height="68"/></clipPath><filter id="fbb" x="-20%" y="-20%" width="140%" height="140%"><feGaussianBlur stdDeviation="2.2"/></filter><filter id="fdb" x="-10%" y="-10%" width="120%" height="120%"><feGaussianBlur stdDeviation="0.6"/></filter></defs><g clip-path="url(#clb)"><g filter="url(#fbb)"><rect x="-8.5" y="-8.5" width="9.1" height="9.1" fill="#23630d"/><rect x="0" y="-8.5" width="9.1" height="9.1" fill="#23630d"/><rect x="8.5" y="-8.5" width="9.1" height="9.1" fill="#0f3600"/><rect x="17.1" y="-8.5" width="9.1" height="9.1" fill="#6aac31"/><rect x="25.6" y="-8.5" width="9.1" height="9.1" fill="#86bf45"/><rect x="34.1" y="-8.5" width="9.1" height="9.1" fill="#90d13d"/><rect x="42.6" y="-8.5" width="9.1" height="9.1" fill="#6cad29"/><rect x="51.2" y="-8.5" width="9.1" height="9.1" fill="#7ab448"/><rect x="59.7" y="-8.5" width="9.1" height="9.1" fill="#5b8c3d"/><rect x="68.2" y="-8.5" width="9.1" height="9.1" fill="#5b8c3d"/><rect x="-8.5" y="0" width="9.1" height="9.1" fill="#23630d"/><rect x="0" y="0" width="9.1" height="9.1" fill="#23630d"/><rect x="8.5" y="0" width="9.1" height="9.1" fill="#0f3600"/><rect x="17.1" y="0" width="9.1" height="9.1" fill="#6aac31"/><rect x="25.6" y="0" width="9.1" height="9.1" fill="#86bf45"/><rect x="34.1" y="0" width="9.1" height="9.1" fill="#90d13d"/><rect x="42.6" y="0" width="9.1" height="9.1" fill="#6cad29"/><rect x="51.2" y="0" width="9.1" height="9.1" fill="#7ab448"/><rect x="59.7" y="0" width="9.1" height="9.1" fill="#5b8c3d"/><rect x="68.2" y="0" width="9.1" height="9.1" fill="#5b8c3d"/><rect x="-8.5" y="8.5" width="9.1" height="9.1" fill="#2b6c16"/><rect x="0" y="8.5" width="9.1" height="9.1" fill="#2b6c16"/><rect x="8.5" y="8.5" width="9.1" height="9.1" fill="#104f00"/><rect x="17.1" y="8.5" width="9.1" height="9.1" fill="#153c00"/><rect x="25.6" y="8.5" width="9.1" height="9.1" fill="#73b532"/><rect x="34.1" y="8.5" width="9.1" height="9.1" fill="#a3e451"/><rect x="42.6" y="8.5" width="9.1" height="9.1" fill="#7fbd33"/><rect x="51.2" y="8.5" width="9.1" height="9.1" fill="#94c56d"/><rect x="59.7" y="8.5" width="9.1" height="9.1" fill="#405c28"/><rect x="68.2" y="8.5" width="9.1" height="9.1" fill="#405c28"/><rect x="-8.5" y="17" width="9.1" height="9.1" fill="#154407"/><rect x="0" y="17" width="9.1" height="9.1" fill="#154407"/><rect x="8.5" y="17" width="9.1" height="9.1" fill="#29601b"/><rect x="17.1" y="17" width="9.1" height="9.1" fill="#3d721c"/><rect x="25.6" y="17" width="9.1" height="9.1" fill="#64ab31"/><rect x="34.1" y="17" width="9.1" height="9.1" fill="#64b224"/><rect x="42.6" y="17" width="9.1" height="9.1" fill="#88cf41"/><rect x="51.2" y="17" width="9.1" height="9.1" fill="#3c712f"/><rect x="59.7" y="17" width="9.1" height="9.1" fill="#142e10"/><rect x="68.2" y="17" width="9.1" height="9.1" fill="#142e10"/><rect x="-8.5" y="25.5" width="9.1" height="9.1" fill="#3c742e"/><rect x="0" y="25.5" width="9.1" height="9.1" fill="#3c742e"/><rect x="8.5" y="25.5" width="9.1" height="9.1" fill="#29601b"/><rect x="17.1" y="25.5" width="9.1" height="9.1" fill="#64ab43"/><rect x="25.6" y="25.5" width="9.1" height="9.1" fill="#b7ef8f"/><rect x="34.1" y="25.5" width="9.1" height="9.1" fill="#519619"/><rect x="42.6" y="25.5" width="9.1" height="9.1" fill="#3d790e"/><rect x="51.2" y="25.5" width="9.1" height="9.1" fill="#4f8430"/><rect x="59.7" y="25.5" width="9.1" height="9.1" fill="#3b602e"/><rect x="68.2" y="25.5" width="9.1" height="9.1" fill="#3b602e"/><rect x="-8.5" y="34" width="9.1" height="9.1" fill="#478a17"/><rect x="0" y="34" width="9.1" height="9.1" fill="#478a17"/><rect x="8.5" y="34" width="9.1" height="9.1" fill="#215d02"/><rect x="17.1" y="34" width="9.1" height="9.1" fill="#001300"/><rect x="25.6" y="34" width="9.1" height="9.1" fill="#062d00"/><rect x="34.1" y="34" width="9.1" height="9.1" fill="#2c6912"/><rect x="42.6" y="34" width="9.1" height="9.1" fill="#40861d"/><rect x="51.2" y="34" width="9.1" height="9.1" fill="#599930"/><rect x="59.7" y="34" width="9.1" height="9.1" fill="#1f4e10"/><rect x="68.2" y="34" width="9.1" height="9.1" fill="#1f4e10"/><rect x="-8.5" y="42.5" width="9.1" height="9.1" fill="#346e0c"/><rect x="0" y="42.5" width="9.1" height="9.1" fill="#346e0c"/><rect x="8.5" y="42.5" width="9.1" height="9.1" fill="#478317"/><rect x="17.1" y="42.5" width="9.1" height="9.1" fill="#062d00"/><rect x="25.6" y="42.5" width="9.1" height="9.1" fill="#062600"/><rect x="34.1" y="42.5" width="9.1" height="9.1" fill="#408514"/><rect x="42.6" y="42.5" width="9.1" height="9.1" fill="#2c6b09"/><rect x="51.2" y="42.5" width="9.1" height="9.1" fill="#32611a"/><rect x="59.7" y="42.5" width="9.1" height="9.1" fill="#0c3305"/><rect x="68.2" y="42.5" width="9.1" height="9.1" fill="#0c3305"/><rect x="-8.5" y="51" width="9.1" height="9.1" fill="#458316"/><rect x="0" y="51" width="9.1" height="9.1" fill="#458316"/><rect x="8.5" y="51" width="9.1" height="9.1" fill="#6ba72b"/><rect x="17.1" y="51" width="9.1" height="9.1" fill="#91cb4f"/><rect x="25.6" y="51" width="9.1" height="9.1" fill="#b7df75"/><rect x="34.1" y="51" width="9.1" height="9.1" fill="#589a20"/><rect x="42.6" y="51" width="9.1" height="9.1" fill="#6cab33"/><rect x="51.2" y="51" width="9.1" height="9.1" fill="#112b0c"/><rect x="59.7" y="51" width="9.1" height="9.1" fill="#101f0b"/><rect x="68.2" y="51" width="9.1" height="9.1" fill="#101f0b"/><rect x="-8.5" y="59.5" width="9.1" height="9.1" fill="#458116"/><rect x="0" y="59.5" width="9.1" height="9.1" fill="#458116"/><rect x="8.5" y="59.5" width="9.1" height="9.1" fill="#589420"/><rect x="17.1" y="59.5" width="9.1" height="9.1" fill="#649b28"/><rect x="25.6" y="59.5" width="9.1" height="9.1" fill="#3d6513"/><rect x="34.1" y="59.5" width="9.1" height="9.1" fill="#32680b"/><rect x="42.6" y="59.5" width="9.1" height="9.1" fill="#457c1e"/><rect x="51.2" y="59.5" width="9.1" height="9.1" fill="#112b0c"/><rect x="59.7" y="59.5" width="9.1" height="9.1" fill="#000c01"/><rect x="68.2" y="59.5" width="9.1" height="9.1" fill="#000c01"/><rect x="-8.5" y="68" width="9.1" height="9.1" fill="#458116"/><rect x="0" y="68" width="9.1" height="9.1" fill="#458116"/><rect x="8.5" y="68" width="9.1" height="9.1" fill="#589420"/><rect x="17.1" y="68" width="9.1" height="9.1" fill="#649b28"/><rect x="25.6" y="68" width="9.1" height="9.1" fill="#3d6513"/><rect x="34.1" y="68" width="9.1" height="9.1" fill="#32680b"/><rect x="42.6" y="68" width="9.1" height="9.1" fill="#457c1e"/><rect x="51.2" y="68" width="9.1" height="9.1" fill="#112b0c"/><rect x="59.7" y="68" width="9.1" height="9.1" fill="#000c01"/><rect x="68.2" y="68" width="9.1" height="9.1" fill="#000c01"/></g><g filter="url(#fdb)"><line x1="24.9" y1="48" x2="39.9" y2="41.4" stroke="#071e02" stroke-width="1.8" stroke-opacity="0.76" stroke-linecap="round"/><line x1="56.1" y1="10.7" x2="61.8" y2="20.3" stroke="#95c867" stroke-width="2.2" stroke-opacity="0.62" stroke-linecap="round"/><line x1="44.6" y1="7.5" x2="67.1" y2="2.6" stroke="#4f782e" stroke-width="2.3" stroke-opacity="0.89" stroke-linecap="round"/><line x1="44.3" y1="10" x2="46" y2="20.3" stroke="#88c344" stroke-width="1.3" stroke-opacity="0.82" stroke-linecap="round"/><line x1="5.8" y1="39.4" x2="16.5" y2="55.4" stroke="#73ad40" stroke-width="1.9" stroke-opacity="0.76" stroke-linecap="round"/><line x1="27.4" y1="40.5" x2="55.7" y2="33.1" stroke="#17390a" stroke-width="1.4" stroke-opacity="0.73" stroke-linecap="round"/><line x1="42" y1="40" x2="52.1" y2="51.6" stroke="#66a138" stroke-width="2" stroke-opacity="0.66" stroke-linecap="round"/><line x1="22.3" y1="53.1" x2="29.6" y2="63.7" stroke="#a7d66a" stroke-width="2" stroke-opacity="0.64" stroke-linecap="round"/><line x1="29.6" y1="15.9" x2="45.4" y2="8.3" stroke="#9cd759" stroke-width="2" stroke-opacity="0.78" stroke-linecap="round"/><line x1="20" y1="9.5" x2="30.2" y2="36.7" stroke="#7ab04a" stroke-width="1.1" stroke-opacity="0.92" stroke-linecap="round"/><line x1="15.3" y1="17.7" x2="34.4" y2="8.1" stroke="#0c2303" stroke-width="2.1" stroke-opacity="0.66" stroke-linecap="round"/><line x1="48.6" y1="20.4" x2="59.8" y2="47.8" stroke="#2e5419" stroke-width="0.8" stroke-opacity="0.71" stroke-linecap="round"/><line x1="42.7" y1="62.7" x2="64.7" y2="50.4" stroke="#0c2008" stroke-width="1.4" stroke-opacity="0.84" stroke-linecap="round"/><line x1="24.6" y1="37.9" x2="36.1" y2="62.6" stroke="#689841" stroke-width="1.6" stroke-opacity="0.84" stroke-linecap="round"/><line x1="45" y1="11.5" x2="51.1" y2="17.6" stroke="#87c343" stroke-width="1.7" stroke-opacity="0.69" stroke-linecap="round"/><line x1="7.9" y1="3.6" x2="10.9" y2="23.7" stroke="#0b2903" stroke-width="2.3" stroke-opacity="0.87" stroke-linecap="round"/><line x1="26.1" y1="29.9" x2="30.8" y2="50.1" stroke="#4b7a2e" stroke-width="2" stroke-opacity="0.80" stroke-linecap="round"/><line x1="-5.3" y1="36" x2="7.6" y2="60.6" stroke="#1c3f08" stroke-width="2.1" stroke-opacity="0.73" stroke-linecap="round"/><line x1="-3.1" y1="15.9" x2="16.5" y2="32.1" stroke="#0e2c05" stroke-width="1.8" stroke-opacity="0.67" stroke-linecap="round"/><line x1="34" y1="51.2" x2="47.7" y2="41.2" stroke="#73af40" stroke-width="1" stroke-opacity="0.63" stroke-linecap="round"/><line x1="7.6" y1="51.3" x2="35" y2="43.3" stroke="#3a6722" stroke-width="1.6" stroke-opacity="0.76" stroke-linecap="round"/><line x1="2.4" y1="35.9" x2="22.1" y2="54.9" stroke="#69a336" stroke-width="2.3" stroke-opacity="0.73" stroke-linecap="round"/><line x1="46.8" y1="38.1" x2="69" y2="55.6" stroke="#19340d" stroke-width="1.1" stroke-opacity="0.76" stroke-linecap="round"/><line x1="35.8" y1="46" x2="46.9" y2="68.7" stroke="#7eba47" stroke-width="1.5" stroke-opacity="0.84" stroke-linecap="round"/><line x1="49.9" y1="21.3" x2="58.1" y2="49.6" stroke="#294c16" stroke-width="1.4" stroke-opacity="0.86" stroke-linecap="round"/><line x1="18.1" y1="29.6" x2="25.9" y2="38.4" stroke="#84c055" stroke-width="1" stroke-opacity="0.77" stroke-linecap="round"/><line x1="27.5" y1="14.4" x2="31" y2="35.2" stroke="#85c14f" stroke-width="2.2" stroke-opacity="0.71" stroke-linecap="round"/><line x1="-3.5" y1="47.4" x2="20.6" y2="39.8" stroke="#74ad40" stroke-width="1.2" stroke-opacity="0.74" stroke-linecap="round"/><line x1="24.6" y1="20.3" x2="27.2" y2="32" stroke="#476436" stroke-width="1" stroke-opacity="0.69" stroke-linecap="round"/><line x1="47.7" y1="61.5" x2="73.3" y2="56.6" stroke="#61893e" stroke-width="1.3" stroke-opacity="0.65" stroke-linecap="round"/><line x1="54.6" y1="43.9" x2="63.4" y2="69.4" stroke="#0e2309" stroke-width="2.1" stroke-opacity="0.67" stroke-linecap="round"/><line x1="10.5" y1="42.8" x2="16.3" y2="67.2" stroke="#48731d" stroke-width="2.3" stroke-opacity="0.73" stroke-linecap="round"/><line x1="27.7" y1="4.4" x2="40.3" y2="22.8" stroke="#3b611a" stroke-width="1.8" stroke-opacity="0.76" stroke-linecap="round"/><line x1="42.5" y1="22.2" x2="44" y2="30.7" stroke="#2a560a" stroke-width="1" stroke-opacity="0.86" stroke-linecap="round"/><line x1="15.2" y1="9.2" x2="34.8" y2="4.8" stroke="#3b641b" stroke-width="0.9" stroke-opacity="0.92" stroke-linecap="round"/><line x1="21.5" y1="11.8" x2="26.1" y2="19.8" stroke="#4d7b2a" stroke-width="1" stroke-opacity="0.84" stroke-linecap="round"/><line x1="28" y1="69.2" x2="56" y2="62.2" stroke="#5d932f" stroke-width="2.3" stroke-opacity="0.77" stroke-linecap="round"/><line x1="10.4" y1="38.9" x2="17.8" y2="64.1" stroke="#3b6018" stroke-width="1.8" stroke-opacity="0.72" stroke-linecap="round"/><line x1="-3.9" y1="55.5" x2="11.9" y2="52.9" stroke="#7cb547" stroke-width="1.8" stroke-opacity="0.83" stroke-linecap="round"/><line x1="-2" y1="8.3" x2="3.7" y2="22.7" stroke="#5c9938" stroke-width="1.8" stroke-opacity="0.87" stroke-linecap="round"/><line x1="51.5" y1="48.5" x2="68.7" y2="61.8" stroke="#0c1b08" stroke-width="1.2" stroke-opacity="0.73" stroke-linecap="round"/><line x1="33.8" y1="12.5" x2="49.7" y2="4.7" stroke="#9dd958" stroke-width="2.4" stroke-opacity="0.64" stroke-linecap="round"/><line x1="32.7" y1="25.9" x2="47.3" y2="41.1" stroke="#2e580f" stroke-width="1.3" stroke-opacity="0.72" stroke-linecap="round"/><line x1="63.8" y1="24.7" x2="72.3" y2="20.2" stroke="#0c1e08" stroke-width="2.3" stroke-opacity="0.82" stroke-linecap="round"/><line x1="38.2" y1="51.7" x2="45.8" y2="65" stroke="#315912" stroke-width="1.6" stroke-opacity="0.83" stroke-linecap="round"/><line x1="2.5" y1="40.5" x2="7.6" y2="50.9" stroke="#59922c" stroke-width="1.3" stroke-opacity="0.88" stroke-linecap="round"/><line x1="10.1" y1="7.3" x2="21.1" y2="1.8" stroke="#0b2402" stroke-width="1.7" stroke-opacity="0.77" stroke-linecap="round"/><line x1="61.9" y1="22.8" x2="68.9" y2="39.6" stroke="#72a14b" stroke-width="2" stroke-opacity="0.68" stroke-linecap="round"/><line x1="25.2" y1="54.6" x2="46.5" y2="44.2" stroke="#26510c" stroke-width="1.4" stroke-opacity="0.65" stroke-linecap="round"/><line x1="-5.7" y1="35.7" x2="15.9" y2="55.4" stroke="#224b09" stroke-width="2.1" stroke-opacity="0.75" stroke-linecap="round"/><line x1="20.3" y1="12.2" x2="22.6" y2="23.1" stroke="#6da340" stroke-width="1.2" stroke-opacity="0.67" stroke-linecap="round"/><line x1="44" y1="42.9" x2="62.3" y2="32.2" stroke="#39641e" stroke-width="1.2" stroke-opacity="0.90" stroke-linecap="round"/><line x1="50.3" y1="68.2" x2="73.7" y2="58.6" stroke="#3f5e29" stroke-width="2.2" stroke-opacity="0.64" stroke-linecap="round"/><line x1="11.4" y1="4.1" x2="21.2" y2="0.5" stroke="#0c2902" stroke-width="2.1" stroke-opacity="0.89" stroke-linecap="round"/><line x1="40.7" y1="22.1" x2="47.2" y2="37.2" stroke="#29530a" stroke-width="1.7" stroke-opacity="0.92" stroke-linecap="round"/><line x1="27.6" y1="55.8" x2="34.5" y2="51.4" stroke="#607b3d" stroke-width="1" stroke-opacity="0.72" stroke-linecap="round"/><line x1="1.4" y1="40.7" x2="8.5" y2="51.5" stroke="#72aa40" stroke-width="2" stroke-opacity="0.78" stroke-linecap="round"/><line x1="47.7" y1="40.1" x2="58.3" y2="52.1" stroke="#588a34" stroke-width="1" stroke-opacity="0.61" stroke-linecap="round"/><line x1="56.6" y1="17.4" x2="76.5" y2="1.7" stroke="#293f19" stroke-width="1.7" stroke-opacity="0.91" stroke-linecap="round"/><line x1="21.2" y1="62.2" x2="27" y2="71.8" stroke="#7db444" stroke-width="1.3" stroke-opacity="0.66" stroke-linecap="round"/><line x1="15.1" y1="-7.8" x2="19.3" y2="9.2" stroke="#7ab841" stroke-width="1.8" stroke-opacity="0.73" stroke-linecap="round"/><line x1="4.6" y1="29.3" x2="8.2" y2="37.4" stroke="#77ae4e" stroke-width="1.8" stroke-opacity="0.79" stroke-linecap="round"/><line x1="-11.1" y1="50.5" x2="12.5" y2="34.3" stroke="#6ba938" stroke-width="2.3" stroke-opacity="0.83" stroke-linecap="round"/><line x1="37.9" y1="3.6" x2="58.4" y2="24.2" stroke="#365716" stroke-width="2.4" stroke-opacity="0.95" stroke-linecap="round"/><line x1="14.9" y1="6.9" x2="31.6" y2="29.5" stroke="#5e9335" stroke-width="2.3" stroke-opacity="0.91" stroke-linecap="round"/><line x1="42" y1="22.2" x2="48.1" y2="43" stroke="#1e3f08" stroke-width="1.6" stroke-opacity="0.88" stroke-linecap="round"/><line x1="8.5" y1="5.9" x2="13.9" y2="21.6" stroke="#488428" stroke-width="2.3" stroke-opacity="0.65" stroke-linecap="round"/><line x1="41.2" y1="38.1" x2="51.9" y2="34" stroke="#6aa93e" stroke-width="1.1" stroke-opacity="0.82" stroke-linecap="round"/><line x1="17.7" y1="69" x2="27" y2="65.4" stroke="#274210" stroke-width="1.1" stroke-opacity="0.90" stroke-linecap="round"/><line x1="31.1" y1="18.4" x2="46.7" y2="6" stroke="#9dd957" stroke-width="1.7" stroke-opacity="0.66" stroke-linecap="round"/><line x1="14.5" y1="44.3" x2="17.3" y2="55" stroke="#1e3c0b" stroke-width="1.5" stroke-opacity="0.95" stroke-linecap="round"/><line x1="35" y1="1.3" x2="41.6" y2="29.9" stroke="#517728" stroke-width="1.8" stroke-opacity="0.78" stroke-linecap="round"/><line x1="39.7" y1="10.8" x2="46.3" y2="23.2" stroke="#345519" stroke-width="1.9" stroke-opacity="0.75" stroke-linecap="round"/><line x1="0.2" y1="45.9" x2="5.4" y2="67.2" stroke="#24480c" stroke-width="1.9" stroke-opacity="0.84" stroke-linecap="round"/><line x1="-4.4" y1="12.9" x2="7" y2="3.8" stroke="#5d9836" stroke-width="2.3" stroke-opacity="0.89" stroke-linecap="round"/><line x1="35.1" y1="1.4" x2="38" y2="10.5" stroke="#93cf4e" stroke-width="2.1" stroke-opacity="0.94" stroke-linecap="round"/><line x1="-8.2" y1="-3.2" x2="9.7" y2="17.8" stroke="#68a33e" stroke-width="1" stroke-opacity="0.83" stroke-linecap="round"/><line x1="1.4" y1="46.3" x2="21.7" y2="34.7" stroke="#113103" stroke-width="1.4" stroke-opacity="0.70" stroke-linecap="round"/><line x1="15.7" y1="-0" x2="33.7" y2="14.8" stroke="#3f6a1d" stroke-width="2" stroke-opacity="0.77" stroke-linecap="round"/><line x1="-5.8" y1="-0.6" x2="6.3" y2="12.2" stroke="#619c39" stroke-width="2.2" stroke-opacity="0.88" stroke-linecap="round"/><line x1="59" y1="47.2" x2="61.7" y2="56.9" stroke="#0d1b08" stroke-width="1.5" stroke-opacity="0.84" stroke-linecap="round"/><line x1="40.7" y1="45.7" x2="60.9" y2="66.7" stroke="#7bb742" stroke-width="1.1" stroke-opacity="0.77" stroke-linecap="round"/><line x1="34.9" y1="39" x2="41.5" y2="63.9" stroke="#6fad38" stroke-width="1.3" stroke-opacity="0.73" stroke-linecap="round"/><line x1="16.8" y1="12.8" x2="26.7" y2="24.8" stroke="#699f3d" stroke-width="1.2" stroke-opacity="0.62" stroke-linecap="round"/><line x1="-1.5" y1="64.7" x2="19.9" y2="61.5" stroke="#80b949" stroke-width="1.3" stroke-opacity="0.62" stroke-linecap="round"/><line x1="43.1" y1="50.4" x2="65.4" y2="38.2" stroke="#224412" stroke-width="1.1" stroke-opacity="0.94" stroke-linecap="round"/><line x1="38.2" y1="-3" x2="46.7" y2="15.4" stroke="#588325" stroke-width="1.8" stroke-opacity="0.85" stroke-linecap="round"/><line x1="15.2" y1="11.1" x2="30.8" y2="2.6" stroke="#7ab842" stroke-width="1.6" stroke-opacity="0.62" stroke-linecap="round"/><line x1="43.8" y1="56.1" x2="56.4" y2="48.3" stroke="#335618" stroke-width="2.2" stroke-opacity="0.71" stroke-linecap="round"/><line x1="-3.5" y1="39.9" x2="20.5" y2="26.3" stroke="#70a74a" stroke-width="1.5" stroke-opacity="0.89" stroke-linecap="round"/><line x1="19.1" y1="25.8" x2="23.2" y2="46.1" stroke="#041402" stroke-width="1.8" stroke-opacity="0.81" stroke-linecap="round"/><line x1="52.4" y1="43.7" x2="75.9" y2="61.4" stroke="#0c1b08" stroke-width="1.8" stroke-opacity="0.87" stroke-linecap="round"/><line x1="7.1" y1="62.3" x2="21.2" y2="49.9" stroke="#325415" stroke-width="2.2" stroke-opacity="0.95" stroke-linecap="round"/><line x1="41.3" y1="35.4" x2="53.7" y2="54.8" stroke="#76af45" stroke-width="1.6" stroke-opacity="0.84" stroke-linecap="round"/><line x1="59" y1="57.9" x2="67.1" y2="76" stroke="#031002" stroke-width="1.8" stroke-opacity="0.94" stroke-linecap="round"/><line x1="22" y1="12.6" x2="34.1" y2="26" stroke="#2d5316" stroke-width="0.8" stroke-opacity="0.82" stroke-linecap="round"/><line x1="44.3" y1="61.1" x2="51.8" y2="56.8" stroke="#365b1a" stroke-width="2.3" stroke-opacity="0.61" stroke-linecap="round"/><line x1="56.3" y1="25.3" x2="58.8" y2="33.5" stroke="#7cb24e" stroke-width="1.4" stroke-opacity="0.66" stroke-linecap="round"/><line x1="-5.2" y1="53.7" x2="13.3" y2="75.3" stroke="#284d0d" stroke-width="1.1" stroke-opacity="0.74" stroke-linecap="round"/><line x1="16.9" y1="-0.6" x2="26.8" y2="15.3" stroke="#85c14e" stroke-width="2.2" stroke-opacity="0.87" stroke-linecap="round"/><line x1="40" y1="31.8" x2="45.4" y2="41.7" stroke="#1d410e" stroke-width="1.4" stroke-opacity="0.78" stroke-linecap="round"/><line x1="36.7" y1="39.4" x2="45" y2="35.4" stroke="#5b9534" stroke-width="1.6" stroke-opacity="0.64" stroke-linecap="round"/><line x1="56.7" y1="13.9" x2="72.2" y2="31.1" stroke="#5d883d" stroke-width="1" stroke-opacity="0.61" stroke-linecap="round"/><line x1="21.8" y1="4.7" x2="33.6" y2="-0.9" stroke="#8fc754" stroke-width="2.1" stroke-opacity="0.85" stroke-linecap="round"/><line x1="49" y1="37.1" x2="54.2" y2="45.9" stroke="#38631e" stroke-width="1.7" stroke-opacity="0.82" stroke-linecap="round"/><line x1="52.6" y1="34" x2="63" y2="49.6" stroke="#2c5017" stroke-width="0.9" stroke-opacity="0.93" stroke-linecap="round"/><line x1="50.6" y1="11.9" x2="63.3" y2="37.4" stroke="#1a3613" stroke-width="1.9" stroke-opacity="0.71" stroke-linecap="round"/><line x1="12.8" y1="21.5" x2="17.4" y2="42.8" stroke="#122d0b" stroke-width="0.9" stroke-opacity="0.86" stroke-linecap="round"/><line x1="1.2" y1="3" x2="7.9" y2="22.7" stroke="#70ab45" stroke-width="1" stroke-opacity="0.80" stroke-linecap="round"/><line x1="63.6" y1="13" x2="67.2" y2="23.5" stroke="#6d9b46" stroke-width="1.1" stroke-opacity="0.93" stroke-linecap="round"/><line x1="26.6" y1="36.4" x2="32.6" y2="56.7" stroke="#071f02" stroke-width="1.3" stroke-opacity="0.90" stroke-linecap="round"/><line x1="13.8" y1="-4.4" x2="21.2" y2="21.6" stroke="#0e2802" stroke-width="1.2" stroke-opacity="0.81" stroke-linecap="round"/><line x1="12.7" y1="6.2" x2="31.6" y2="-4.7" stroke="#80bd48" stroke-width="2.1" stroke-opacity="0.73" stroke-linecap="round"/><line x1="42" y1="45.6" x2="59.4" y2="35.9" stroke="#6dab40" stroke-width="2" stroke-opacity="0.74" stroke-linecap="round"/><line x1="27.9" y1="19.9" x2="38.6" y2="30.2" stroke="#305718" stroke-width="1.8" stroke-opacity="0.78" stroke-linecap="round"/><line x1="27.8" y1="13.7" x2="35.6" y2="10" stroke="#325516" stroke-width="1.5" stroke-opacity="0.79" stroke-linecap="round"/><line x1="62.4" y1="44.1" x2="67.5" y2="65.1" stroke="#43612b" stroke-width="1.7" stroke-opacity="0.68" stroke-linecap="round"/><line x1="58.4" y1="45.8" x2="64.2" y2="51.6" stroke="#092104" stroke-width="2.2" stroke-opacity="0.90" stroke-linecap="round"/><line x1="34.9" y1="40.4" x2="57.9" y2="27.3" stroke="#659f32" stroke-width="1.5" stroke-opacity="0.81" stroke-linecap="round"/><line x1="8" y1="10.1" x2="22" y2="4.4" stroke="#538230" stroke-width="1" stroke-opacity="0.77" stroke-linecap="round"/><line x1="-0.8" y1="26.7" x2="5.2" y2="43" stroke="#2c580f" stroke-width="1.2" stroke-opacity="0.68" stroke-linecap="round"/><line x1="30.4" y1="23.9" x2="45.8" y2="16.9" stroke="#315c12" stroke-width="2.1" stroke-opacity="0.93" stroke-linecap="round"/><line x1="1.1" y1="54.7" x2="15.5" y2="48.8" stroke="#7bb446" stroke-width="1.1" stroke-opacity="0.60" stroke-linecap="round"/><line x1="-2.5" y1="39.3" x2="14.7" y2="30.7" stroke="#306010" stroke-width="1.6" stroke-opacity="0.82" stroke-linecap="round"/><line x1="7.4" y1="28.1" x2="23.6" y2="47" stroke="#72ab43" stroke-width="0.8" stroke-opacity="0.75" stroke-linecap="round"/><line x1="29.9" y1="24.1" x2="47.8" y2="45.3" stroke="#6fa843" stroke-width="2.3" stroke-opacity="0.87" stroke-linecap="round"/><line x1="16.2" y1="40.8" x2="40.5" y2="26.2" stroke="#4d6c3b" stroke-width="1.4" stroke-opacity="0.94" stroke-linecap="round"/><line x1="23.3" y1="60.4" x2="48.3" y2="49.8" stroke="#315912" stroke-width="1.9" stroke-opacity="0.65" stroke-linecap="round"/><line x1="44.1" y1="41.8" x2="68.6" y2="32.6" stroke="#2d5118" stroke-width="0.8" stroke-opacity="0.80" stroke-linecap="round"/><line x1="-0" y1="29.9" x2="8" y2="41.6" stroke="#64a331" stroke-width="1.6" stroke-opacity="0.62" stroke-linecap="round"/><line x1="10" y1="16.4" x2="24.3" y2="35.3" stroke="#2f551f" stroke-width="2.2" stroke-opacity="0.63" stroke-linecap="round"/><line x1="24.9" y1="22.6" x2="44.4" y2="11.7" stroke="#417718" stroke-width="1.8" stroke-opacity="0.73" stroke-linecap="round"/><line x1="31.6" y1="57.6" x2="45.6" y2="70.4" stroke="#173307" stroke-width="2.4" stroke-opacity="0.85" stroke-linecap="round"/><line x1="33.5" y1="26.2" x2="39" y2="32.3" stroke="#264b0d" stroke-width="1.4" stroke-opacity="0.89" stroke-linecap="round"/><line x1="46.8" y1="55" x2="54.3" y2="65.5" stroke="#244510" stroke-width="1.5" stroke-opacity="0.74" stroke-linecap="round"/><line x1="37.5" y1="36.5" x2="50.7" y2="51.8" stroke="#71ab41" stroke-width="0.9" stroke-opacity="0.72" stroke-linecap="round"/><line x1="49.9" y1="43.8" x2="64.1" y2="64.1" stroke="#598339" stroke-width="1.8" stroke-opacity="0.67" stroke-linecap="round"/><line x1="36.6" y1="53.5" x2="41.5" y2="63.8" stroke="#325c13" stroke-width="2.1" stroke-opacity="0.73" stroke-linecap="round"/><line x1="14.1" y1="36.1" x2="31" y2="23" stroke="#77b84e" stroke-width="1.4" stroke-opacity="0.62" stroke-linecap="round"/><line x1="19.6" y1="37.8" x2="22.3" y2="47.9" stroke="#46742a" stroke-width="2.2" stroke-opacity="0.90" stroke-linecap="round"/><line x1="2.3" y1="21.4" x2="22.3" y2="18.4" stroke="#18390f" stroke-width="1.9" stroke-opacity="0.84" stroke-linecap="round"/><line x1="4.7" y1="9" x2="15.2" y2="17.3" stroke="#609b39" stroke-width="2.1" stroke-opacity="0.61" stroke-linecap="round"/><line x1="57.4" y1="-1.4" x2="60.1" y2="17" stroke="#2d4a1a" stroke-width="1.6" stroke-opacity="0.88" stroke-linecap="round"/><line x1="48" y1="27.2" x2="67.7" y2="43" stroke="#7db74b" stroke-width="2.3" stroke-opacity="0.67" stroke-linecap="round"/><line x1="34.4" y1="18.9" x2="40.1" y2="28.1" stroke="#346013" stroke-width="2.2" stroke-opacity="0.76" stroke-linecap="round"/><line x1="13.6" y1="15.3" x2="23.4" y2="38.2" stroke="#81be53" stroke-width="1.9" stroke-opacity="0.66" stroke-linecap="round"/><line x1="61" y1="17.3" x2="68.3" y2="24.7" stroke="#0d2009" stroke-width="1.8" stroke-opacity="0.80" stroke-linecap="round"/><line x1="19.4" y1="60.9" x2="28.4" y2="52.9" stroke="#3f5f22" stroke-width="2.2" stroke-opacity="0.70" stroke-linecap="round"/><line x1="13.7" y1="40.7" x2="25.5" y2="37.1" stroke="#608a3d" stroke-width="1.3" stroke-opacity="0.65" stroke-linecap="round"/><line x1="25.2" y1="30.8" x2="53.7" y2="26" stroke="#21420b" stroke-width="1.6" stroke-opacity="0.76" stroke-linecap="round"/><line x1="51.9" y1="24.8" x2="64.6" y2="40.3" stroke="#78ae4b" stroke-width="1.4" stroke-opacity="0.71" stroke-linecap="round"/><line x1="54.6" y1="44" x2="61.5" y2="56.9" stroke="#699c40" stroke-width="1.3" stroke-opacity="0.64" stroke-linecap="round"/><line x1="13.8" y1="-0.2" x2="27.2" y2="13.7" stroke="#86c14e" stroke-width="2.1" stroke-opacity="0.71" stroke-linecap="round"/><line x1="13.9" y1="1.1" x2="23.1" y2="8.8" stroke="#7fbb46" stroke-width="1.9" stroke-opacity="0.83" stroke-linecap="round"/><line x1="10.6" y1="48.1" x2="16" y2="58" stroke="#47721d" stroke-width="1.6" stroke-opacity="0.90" stroke-linecap="round"/><line x1="41.4" y1="47.2" x2="67.3" y2="35.5" stroke="#77b247" stroke-width="2" stroke-opacity="0.88" stroke-linecap="round"/><line x1="-1.3" y1="44.4" x2="8.4" y2="65.3" stroke="#67a235" stroke-width="1.7" stroke-opacity="0.73" stroke-linecap="round"/><line x1="5.9" y1="39.2" x2="9.4" y2="54.2" stroke="#59922b" stroke-width="1.7" stroke-opacity="0.72" stroke-linecap="round"/><line x1="46.2" y1="17.5" x2="60.1" y2="38.1" stroke="#78ae4b" stroke-width="0.8" stroke-opacity="0.68" stroke-linecap="round"/><line x1="46.8" y1="4.3" x2="64.5" y2="16.8" stroke="#486634" stroke-width="2.3" stroke-opacity="0.84" stroke-linecap="round"/><line x1="39.6" y1="53.2" x2="55.1" y2="72.2" stroke="#203e0e" stroke-width="0.9" stroke-opacity="0.84" stroke-linecap="round"/><line x1="18.6" y1="3" x2="32.7" y2="14.6" stroke="#81be44" stroke-width="1.3" stroke-opacity="0.81" stroke-linecap="round"/><line x1="40.5" y1="46.7" x2="46.6" y2="55" stroke="#549029" stroke-width="1.5" stroke-opacity="0.88" stroke-linecap="round"/><line x1="7.2" y1="30.5" x2="17.3" y2="52" stroke="#649d37" stroke-width="1.9" stroke-opacity="0.70" stroke-linecap="round"/><line x1="19.6" y1="52.4" x2="31.8" y2="68.6" stroke="#6e9f3d" stroke-width="1.7" stroke-opacity="0.83" stroke-linecap="round"/><line x1="61" y1="52.5" x2="74.9" y2="67.2" stroke="#385424" stroke-width="1.3" stroke-opacity="0.69" stroke-linecap="round"/><line x1="40.3" y1="42.4" x2="66.4" y2="34.3" stroke="#81bc4f" stroke-width="1.1" stroke-opacity="0.75" stroke-linecap="round"/><line x1="16.5" y1="27.6" x2="23.3" y2="52.6" stroke="#031402" stroke-width="0.9" stroke-opacity="0.62" stroke-linecap="round"/><line x1="45.5" y1="55.7" x2="66.4" y2="50.5" stroke="#588138" stroke-width="1.9" stroke-opacity="0.87" stroke-linecap="round"/><line x1="52.3" y1="60.8" x2="57.6" y2="68.7" stroke="#4e7532" stroke-width="1.3" stroke-opacity="0.63" stroke-linecap="round"/><line x1="19.5" y1="55.1" x2="25.9" y2="65.2" stroke="#82b949" stroke-width="1.5" stroke-opacity="0.85" stroke-linecap="round"/><line x1="3.5" y1="46.3" x2="25" y2="31.1" stroke="#659e38" stroke-width="0.9" stroke-opacity="0.69" stroke-linecap="round"/><line x1="-1.4" y1="17.6" x2="11.2" y2="9.2" stroke="#579434" stroke-width="1.2" stroke-opacity="0.68" stroke-linecap="round"/><line x1="13.9" y1="14.3" x2="21.1" y2="26.5" stroke="#679d3b" stroke-width="2" stroke-opacity="0.90" stroke-linecap="round"/><line x1="41.6" y1="-11.1" x2="48.6" y2="17.7" stroke="#88c34e" stroke-width="1.4" stroke-opacity="0.79" stroke-linecap="round"/><line x1="10.4" y1="9.2" x2="17.2" y2="25" stroke="#1b4111" stroke-width="2.4" stroke-opacity="0.73" stroke-linecap="round"/><line x1="27.9" y1="38.1" x2="41.8" y2="27.9" stroke="#366611" stroke-width="2.2" stroke-opacity="0.63" stroke-linecap="round"/><line x1="56.7" y1="-4.5" x2="72.4" y2="8.4" stroke="#3e6229" stroke-width="1.8" stroke-opacity="0.68" stroke-linecap="round"/><line x1="48.5" y1="27.8" x2="60.5" y2="38.3" stroke="#1f3912" stroke-width="1.8" stroke-opacity="0.72" stroke-linecap="round"/><line x1="9.5" y1="-4.4" x2="20.6" y2="13" stroke="#507e2d" stroke-width="1.9" stroke-opacity="0.66" stroke-linecap="round"/><line x1="41.7" y1="26.9" x2="58.1" y2="45.7" stroke="#9ec38a" stroke-width="0.7" stroke-opacity="0.72" stroke-linecap="round"/><line x1="27.7" y1="72.2" x2="48.8" y2="62.6" stroke="#81a568" stroke-width="0.7" stroke-opacity="0.56" stroke-linecap="round"/><line x1="28.1" y1="68.6" x2="51.6" y2="60.3" stroke="#92b27c" stroke-width="0.7" stroke-opacity="0.69" stroke-linecap="round"/><line x1="47.2" y1="1.4" x2="54.6" y2="14" stroke="#9fc977" stroke-width="0.5" stroke-opacity="0.67" stroke-linecap="round"/><line x1="29.5" y1="5.5" x2="42.2" y2="0.9" stroke="#c1e1a0" stroke-width="0.4" stroke-opacity="0.55" stroke-linecap="round"/><line x1="22.1" y1="52.6" x2="27.7" y2="62.2" stroke="#b5da90" stroke-width="0.7" stroke-opacity="0.66" stroke-linecap="round"/><line x1="6.8" y1="58.8" x2="28.7" y2="47.8" stroke="#b9dc97" stroke-width="0.6" stroke-opacity="0.55" stroke-linecap="round"/><line x1="13.7" y1="9.3" x2="31" y2="0.1" stroke="#a2cb80" stroke-width="0.8" stroke-opacity="0.58" stroke-linecap="round"/><line x1="31" y1="26.4" x2="44.9" y2="46.5" stroke="#739e5f" stroke-width="0.7" stroke-opacity="0.53" stroke-linecap="round"/><line x1="2.9" y1="27" x2="16.6" y2="49.6" stroke="#679250" stroke-width="0.8" stroke-opacity="0.78" stroke-linecap="round"/><line x1="41.2" y1="54" x2="47.5" y2="63" stroke="#a4cb83" stroke-width="0.6" stroke-opacity="0.50" stroke-linecap="round"/><line x1="46.6" y1="0.7" x2="54.3" y2="10.9" stroke="#a8ce84" stroke-width="0.5" stroke-opacity="0.76" stroke-linecap="round"/><line x1="56.8" y1="-7.8" x2="70.5" y2="8" stroke="#98b983" stroke-width="0.6" stroke-opacity="0.79" stroke-linecap="round"/><line x1="29.2" y1="18.3" x2="38.2" y2="33.3" stroke="#c5ecaa" stroke-width="0.4" stroke-opacity="0.57" stroke-linecap="round"/><defs><radialGradient id="rgb"><stop offset="0" stop-color="#e4f0d4" stop-opacity="0.95"/><stop offset="0.55" stop-color="#b8d8a0" stop-opacity="0.6"/><stop offset="1" stop-color="#90c070" stop-opacity="0"/></radialGradient></defs><ellipse cx="24.5" cy="29.5" rx="6" ry="2.5" fill="url(#rgb)" transform="rotate(60 24.5 29.5)"/><ellipse cx="32" cy="30.6" rx="5" ry="2.5" fill="url(#rgb)" transform="rotate(70 32 30.6)"/><ellipse cx="12" cy="10" rx="5" ry="2" fill="url(#rgb)" transform="rotate(60 12 10)"/><ellipse cx="48.5" cy="22" rx="6" ry="2.5" fill="url(#rgb)" transform="rotate(55 48.5 22)"/><ellipse cx="26.6" cy="57" rx="7" ry="3.5" fill="url(#rgb)" transform="rotate(-20 26.6 57)"/><ellipse cx="46" cy="51.5" rx="5" ry="3" fill="url(#rgb)" transform="rotate(-10 46 51.5)"/><ellipse cx="13" cy="52.6" rx="5" ry="2.5" fill="url(#rgb)" transform="rotate(-10 13 52.6)"/><ellipse cx="36" cy="12" rx="5" ry="2" fill="url(#rgb)" transform="rotate(60 36 12)"/></g></g></g>
<line x1="391.5" y1="207.5" x2="675" y2="8" stroke="#000" stroke-width="2" stroke-dasharray="11.8 9.6" stroke-dashoffset="0.3"/>
<line x1="416.1" y1="177.9" x2="658.8" y2="83" stroke="#444" stroke-width="1"/>
<circle cx="415.8" cy="182" r="2.6" fill="#000"/>
<circle cx="423.3" cy="169.7" r="2.6" fill="#000"/>
<circle cx="442.3" cy="152.5" r="2.6" fill="#000"/>
<circle cx="461.2" cy="158.9" r="2.6" fill="#000"/>
<circle cx="468.8" cy="148.7" r="2.6" fill="#000"/>
<circle cx="470.9" cy="156.5" r="2.6" fill="#000"/>
<circle cx="476.6" cy="144.8" r="2.6" fill="#000"/>
<circle cx="477.8" cy="147.2" r="2.6" fill="#000"/>
<circle cx="493.3" cy="145.6" r="2.6" fill="#000"/>
<circle cx="501.1" cy="110" r="2.6" fill="#000"/>
<circle cx="503" cy="114" r="2.6" fill="#000"/>
<circle cx="512" cy="120.7" r="2.6" fill="#000"/>
<circle cx="533" cy="111.1" r="2.6" fill="#000"/>
<circle cx="538.7" cy="137.8" r="2.6" fill="#000"/>
<circle cx="542.5" cy="151.3" r="2.6" fill="#000"/>
<circle cx="485.8" cy="177.9" r="2.6" fill="#000"/>
<circle cx="498.9" cy="182" r="2.6" fill="#000"/>
<circle cx="508.5" cy="173.9" r="2.6" fill="#000"/>
<circle cx="561.7" cy="103.2" r="2.6" fill="#000"/>
<circle cx="576.8" cy="119.1" r="2.6" fill="#000"/>
<circle cx="588" cy="128.5" r="2.6" fill="#000"/>
<circle cx="561.6" cy="136.5" r="2.6" fill="#000"/>
<circle cx="593.9" cy="143.3" r="2.6" fill="#000"/>
<circle cx="658" cy="39.3" r="2.6" fill="#000"/>
<rect x="398.5" y="14.9" width="106.8" height="36.6" fill="#fff" stroke="#555" stroke-width="1"/>
<line x1="404.2" y1="27.5" x2="425.4" y2="27.5" stroke="#555" stroke-width="1"/>
<text x="431.1" y="32.9" font-size="9.2" fill="#222">R<tspan font-size="8.74" dy="-3.6">2</tspan><tspan dy="3.6"> = 0.51</tspan></text>
<text x="431.1" y="43.3" font-size="9.2" fill="#222">p-value &lt; 0.0001</text>
<rect x="391.5" y="8" width="283.5" height="199.5" fill="none" stroke="#0a0a0a" stroke-width="1.5"/>
<line x1="410.4" y1="207.5" x2="410.4" y2="210.5" stroke="#1a1a1a" stroke-width="1"/>
<text x="410.4" y="224.2" font-size="9.55" fill="#222" text-anchor="middle">160</text>
<line x1="448.2" y1="207.5" x2="448.2" y2="210.5" stroke="#1a1a1a" stroke-width="1"/>
<text x="448.2" y="224.2" font-size="9.55" fill="#222" text-anchor="middle">180</text>
<line x1="486" y1="207.5" x2="486" y2="210.5" stroke="#1a1a1a" stroke-width="1"/>
<text x="486" y="224.2" font-size="9.55" fill="#222" text-anchor="middle">200</text>
<line x1="523.8" y1="207.5" x2="523.8" y2="210.5" stroke="#1a1a1a" stroke-width="1"/>
<text x="523.8" y="224.2" font-size="9.55" fill="#222" text-anchor="middle">220</text>
<line x1="561.6" y1="207.5" x2="561.6" y2="210.5" stroke="#1a1a1a" stroke-width="1"/>
<text x="561.6" y="224.2" font-size="9.55" fill="#222" text-anchor="middle">240</text>
<line x1="599.4" y1="207.5" x2="599.4" y2="210.5" stroke="#1a1a1a" stroke-width="1"/>
<text x="599.4" y="224.2" font-size="9.55" fill="#222" text-anchor="middle">260</text>
<line x1="637.2" y1="207.5" x2="637.2" y2="210.5" stroke="#1a1a1a" stroke-width="1"/>
<text x="637.2" y="224.2" font-size="9.55" fill="#222" text-anchor="middle">280</text>
<line x1="675" y1="207.5" x2="675" y2="210.5" stroke="#1a1a1a" stroke-width="1"/>
<text x="675" y="224.2" font-size="9.55" fill="#222" text-anchor="middle">300</text>
<line x1="388.2" y1="194.2" x2="391.5" y2="194.2" stroke="#1a1a1a" stroke-width="1"/>
<text x="383.5" y="197.7" font-size="9.55" fill="#222" text-anchor="end">160</text>
<line x1="388.2" y1="167.6" x2="391.5" y2="167.6" stroke="#1a1a1a" stroke-width="1"/>
<text x="383.5" y="171.1" font-size="9.55" fill="#222" text-anchor="end">180</text>
<line x1="388.2" y1="141" x2="391.5" y2="141" stroke="#1a1a1a" stroke-width="1"/>
<text x="383.5" y="144.5" font-size="9.55" fill="#222" text-anchor="end">200</text>
<line x1="388.2" y1="114.4" x2="391.5" y2="114.4" stroke="#1a1a1a" stroke-width="1"/>
<text x="383.5" y="117.9" font-size="9.55" fill="#222" text-anchor="end">220</text>
<line x1="388.2" y1="87.8" x2="391.5" y2="87.8" stroke="#1a1a1a" stroke-width="1"/>
<text x="383.5" y="91.3" font-size="9.55" fill="#222" text-anchor="end">240</text>
<line x1="388.2" y1="61.2" x2="391.5" y2="61.2" stroke="#1a1a1a" stroke-width="1"/>
<text x="383.5" y="64.7" font-size="9.55" fill="#222" text-anchor="end">260</text>
<line x1="388.2" y1="34.6" x2="391.5" y2="34.6" stroke="#1a1a1a" stroke-width="1"/>
<text x="383.5" y="38.1" font-size="9.55" fill="#222" text-anchor="end">280</text>
<line x1="388.2" y1="8" x2="391.5" y2="8" stroke="#1a1a1a" stroke-width="1"/>
<text x="383.5" y="11.5" font-size="9.55" fill="#222" text-anchor="end">300</text>
<text x="533.25" y="242.3" font-size="9.2" fill="#222" text-anchor="middle">Manual counting</text>
<text transform="translate(359.2,107.75) rotate(-90)" font-size="9.2" fill="#222" text-anchor="middle">Algorithm counting</text>
<text x="355.6" y="11.8" font-size="14" font-weight="bold" fill="#000">b</text>
<g transform="translate(249.9,385.6)"><defs><clipPath id="clc"><rect width="68" height="67.8"/></clipPath><filter id="fbc" x="-20%" y="-20%" width="140%" height="140%"><feGaussianBlur stdDeviation="2.2"/></filter><filter id="fdc" x="-10%" y="-10%" width="120%" height="120%"><feGaussianBlur stdDeviation="0.6"/></filter></defs><g clip-path="url(#clc)"><g filter="url(#fbc)"><rect x="-8.5" y="-8.5" width="9.1" height="9.1" fill="#6f3800"/><rect x="0" y="-8.5" width="9.1" height="9.1" fill="#6f3800"/><rect x="8.5" y="-8.5" width="9.1" height="9.1" fill="#976016"/><rect x="17" y="-8.5" width="9.1" height="9.1" fill="#c3985a"/><rect x="25.5" y="-8.5" width="9.1" height="9.1" fill="#a9701c"/><rect x="34" y="-8.5" width="9.1" height="9.1" fill="#8b5918"/><rect x="42.5" y="-8.5" width="9.1" height="9.1" fill="#4f2400"/><rect x="51" y="-8.5" width="9.1" height="9.1" fill="#7f4616"/><rect x="59.5" y="-8.5" width="9.1" height="9.1" fill="#a76e28"/><rect x="68" y="-8.5" width="9.1" height="9.1" fill="#a76e28"/><rect x="-8.5" y="0" width="9.1" height="9.1" fill="#6f3800"/><rect x="0" y="0" width="9.1" height="9.1" fill="#6f3800"/><rect x="8.5" y="0" width="9.1" height="9.1" fill="#976016"/><rect x="17" y="0" width="9.1" height="9.1" fill="#c3985a"/><rect x="25.5" y="0" width="9.1" height="9.1" fill="#a9701c"/><rect x="34" y="0" width="9.1" height="9.1" fill="#8b5918"/><rect x="42.5" y="0" width="9.1" height="9.1" fill="#4f2400"/><rect x="51" y="0" width="9.1" height="9.1" fill="#7f4616"/><rect x="59.5" y="0" width="9.1" height="9.1" fill="#a76e28"/><rect x="68" y="0" width="9.1" height="9.1" fill="#a76e28"/><rect x="-8.5" y="8.5" width="9.1" height="9.1" fill="#c78833"/><rect x="0" y="8.5" width="9.1" height="9.1" fill="#c78833"/><rect x="8.5" y="8.5" width="9.1" height="9.1" fill="#b37b1e"/><rect x="17" y="8.5" width="9.1" height="9.1" fill="#bd8226"/><rect x="25.5" y="8.5" width="9.1" height="9.1" fill="#f4dcab"/><rect x="34" y="8.5" width="9.1" height="9.1" fill="#a6894b"/><rect x="42.5" y="8.5" width="9.1" height="9.1" fill="#4f2400"/><rect x="51" y="8.5" width="9.1" height="9.1" fill="#a85a14"/><rect x="59.5" y="8.5" width="9.1" height="9.1" fill="#bb823c"/><rect x="68" y="8.5" width="9.1" height="9.1" fill="#bb823c"/><rect x="-8.5" y="16.9" width="9.1" height="9.1" fill="#895200"/><rect x="0" y="16.9" width="9.1" height="9.1" fill="#895200"/><rect x="8.5" y="16.9" width="9.1" height="9.1" fill="#753d00"/><rect x="17" y="16.9" width="9.1" height="9.1" fill="#915b02"/><rect x="25.5" y="16.9" width="9.1" height="9.1" fill="#ab8b4a"/><rect x="34" y="16.9" width="9.1" height="9.1" fill="#615104"/><rect x="42.5" y="16.9" width="9.1" height="9.1" fill="#4e2800"/><rect x="51" y="16.9" width="9.1" height="9.1" fill="#774100"/><rect x="59.5" y="16.9" width="9.1" height="9.1" fill="#a67d3b"/><rect x="68" y="16.9" width="9.1" height="9.1" fill="#a67d3b"/><rect x="-8.5" y="25.4" width="9.1" height="9.1" fill="#b79556"/><rect x="0" y="25.4" width="9.1" height="9.1" fill="#b79556"/><rect x="8.5" y="25.4" width="9.1" height="9.1" fill="#886624"/><rect x="17" y="25.4" width="9.1" height="9.1" fill="#d2bd7c"/><rect x="25.5" y="25.4" width="9.1" height="9.1" fill="#7c590d"/><rect x="34" y="25.4" width="9.1" height="9.1" fill="#8f8d40"/><rect x="42.5" y="25.4" width="9.1" height="9.1" fill="#614700"/><rect x="51" y="25.4" width="9.1" height="9.1" fill="#8c4a09"/><rect x="59.5" y="25.4" width="9.1" height="9.1" fill="#774100"/><rect x="68" y="25.4" width="9.1" height="9.1" fill="#774100"/><rect x="-8.5" y="33.9" width="9.1" height="9.1" fill="#652800"/><rect x="0" y="33.9" width="9.1" height="9.1" fill="#652800"/><rect x="8.5" y="33.9" width="9.1" height="9.1" fill="#8e5000"/><rect x="17" y="33.9" width="9.1" height="9.1" fill="#b17e12"/><rect x="25.5" y="33.9" width="9.1" height="9.1" fill="#a97608"/><rect x="34" y="33.9" width="9.1" height="9.1" fill="#514005"/><rect x="42.5" y="33.9" width="9.1" height="9.1" fill="#514005"/><rect x="51" y="33.9" width="9.1" height="9.1" fill="#79440a"/><rect x="59.5" y="33.9" width="9.1" height="9.1" fill="#a78846"/><rect x="68" y="33.9" width="9.1" height="9.1" fill="#a78846"/><rect x="-8.5" y="42.4" width="9.1" height="9.1" fill="#511400"/><rect x="0" y="42.4" width="9.1" height="9.1" fill="#511400"/><rect x="8.5" y="42.4" width="9.1" height="9.1" fill="#7a3c00"/><rect x="17" y="42.4" width="9.1" height="9.1" fill="#956a09"/><rect x="25.5" y="42.4" width="9.1" height="9.1" fill="#937e1d"/><rect x="34" y="42.4" width="9.1" height="9.1" fill="#807a37"/><rect x="42.5" y="42.4" width="9.1" height="9.1" fill="#3c3e00"/><rect x="51" y="42.4" width="9.1" height="9.1" fill="#8c6c32"/><rect x="59.5" y="42.4" width="9.1" height="9.1" fill="#78581e"/><rect x="68" y="42.4" width="9.1" height="9.1" fill="#78581e"/><rect x="-8.5" y="50.8" width="9.1" height="9.1" fill="#774000"/><rect x="0" y="50.8" width="9.1" height="9.1" fill="#774000"/><rect x="8.5" y="50.8" width="9.1" height="9.1" fill="#b8a263"/><rect x="17" y="50.8" width="9.1" height="9.1" fill="#6d4d0f"/><rect x="25.5" y="50.8" width="9.1" height="9.1" fill="#6c6219"/><rect x="34" y="50.8" width="9.1" height="9.1" fill="#a2640d"/><rect x="42.5" y="50.8" width="9.1" height="9.1" fill="#795004"/><rect x="51" y="50.8" width="9.1" height="9.1" fill="#a8772a"/><rect x="59.5" y="50.8" width="9.1" height="9.1" fill="#a8772a"/><rect x="68" y="50.8" width="9.1" height="9.1" fill="#a8772a"/><rect x="-8.5" y="59.3" width="9.1" height="9.1" fill="#746911"/><rect x="0" y="59.3" width="9.1" height="9.1" fill="#746911"/><rect x="8.5" y="59.3" width="9.1" height="9.1" fill="#9f6810"/><rect x="17" y="59.3" width="9.1" height="9.1" fill="#825a19"/><rect x="25.5" y="59.3" width="9.1" height="9.1" fill="#6d5a19"/><rect x="34" y="59.3" width="9.1" height="9.1" fill="#8e5000"/><rect x="42.5" y="59.3" width="9.1" height="9.1" fill="#a2610d"/><rect x="51" y="59.3" width="9.1" height="9.1" fill="#bc8b33"/><rect x="59.5" y="59.3" width="9.1" height="9.1" fill="#a87e34"/><rect x="68" y="59.3" width="9.1" height="9.1" fill="#a87e34"/><rect x="-8.5" y="67.8" width="9.1" height="9.1" fill="#746911"/><rect x="0" y="67.8" width="9.1" height="9.1" fill="#746911"/><rect x="8.5" y="67.8" width="9.1" height="9.1" fill="#9f6810"/><rect x="17" y="67.8" width="9.1" height="9.1" fill="#825a19"/><rect x="25.5" y="67.8" width="9.1" height="9.1" fill="#6d5a19"/><rect x="34" y="67.8" width="9.1" height="9.1" fill="#8e5000"/><rect x="42.5" y="67.8" width="9.1" height="9.1" fill="#a2610d"/><rect x="51" y="67.8" width="9.1" height="9.1" fill="#bc8b33"/><rect x="59.5" y="67.8" width="9.1" height="9.1" fill="#a87e34"/><rect x="68" y="67.8" width="9.1" height="9.1" fill="#a87e34"/></g><g filter="url(#fdc)"><line x1="12.3" y1="33.7" x2="22.9" y2="59.2" stroke="#583e0a" stroke-width="1.9" stroke-opacity="0.84" stroke-linecap="round"/><line x1="11.1" y1="11.9" x2="14.4" y2="-2.2" stroke="#ba893b" stroke-width="1.6" stroke-opacity="0.65" stroke-linecap="round"/><line x1="12.5" y1="22.2" x2="25" y2="-2.3" stroke="#c5913b" stroke-width="1.4" stroke-opacity="0.69" stroke-linecap="round"/><line x1="48.1" y1="20" x2="71.2" y2="28.3" stroke="#ba8f46" stroke-width="1.3" stroke-opacity="0.78" stroke-linecap="round"/><line x1="17.2" y1="18.1" x2="25.5" y2="-2.2" stroke="#c89c55" stroke-width="1.6" stroke-opacity="0.95" stroke-linecap="round"/><line x1="23.8" y1="50.3" x2="36.1" y2="48.6" stroke="#ac8d33" stroke-width="1.4" stroke-opacity="0.83" stroke-linecap="round"/><line x1="19.2" y1="2.1" x2="34.6" y2="15.6" stroke="#7d6b4b" stroke-width="1" stroke-opacity="0.78" stroke-linecap="round"/><line x1="29" y1="35.1" x2="56.6" y2="27.8" stroke="#8c6b20" stroke-width="1.8" stroke-opacity="0.90" stroke-linecap="round"/><line x1="38.7" y1="6" x2="48.2" y2="15.7" stroke="#3f2105" stroke-width="1.7" stroke-opacity="0.84" stroke-linecap="round"/><line x1="29.9" y1="33.9" x2="40.9" y2="55.1" stroke="#ac9045" stroke-width="1.5" stroke-opacity="0.83" stroke-linecap="round"/><line x1="20.3" y1="53.9" x2="28.6" y2="44.8" stroke="#5c410a" stroke-width="1.9" stroke-opacity="0.70" stroke-linecap="round"/><line x1="27.6" y1="44.5" x2="30.8" y2="36.2" stroke="#ba8a2a" stroke-width="1" stroke-opacity="0.65" stroke-linecap="round"/><line x1="59" y1="13.4" x2="76.7" y2="3.1" stroke="#543814" stroke-width="1.5" stroke-opacity="0.91" stroke-linecap="round"/><line x1="-11.4" y1="16.7" x2="16.2" y2="26.7" stroke="#ac7a29" stroke-width="1.6" stroke-opacity="0.74" stroke-linecap="round"/><line x1="-4" y1="31" x2="8.3" y2="37" stroke="#412206" stroke-width="1.2" stroke-opacity="0.83" stroke-linecap="round"/><line x1="15.9" y1="23.9" x2="32.4" y2="9.2" stroke="#c49039" stroke-width="1.4" stroke-opacity="0.67" stroke-linecap="round"/><line x1="0.7" y1="56.9" x2="5.5" y2="68.1" stroke="#a48733" stroke-width="1.3" stroke-opacity="0.74" stroke-linecap="round"/><line x1="28.3" y1="17.2" x2="30.9" y2="1.3" stroke="#e2c181" stroke-width="1.6" stroke-opacity="0.74" stroke-linecap="round"/><line x1="13" y1="-1.8" x2="34.3" y2="15.3" stroke="#8c6b3d" stroke-width="1.5" stroke-opacity="0.69" stroke-linecap="round"/><line x1="40.8" y1="20.5" x2="68.5" y2="23.3" stroke="#452a07" stroke-width="1.6" stroke-opacity="0.68" stroke-linecap="round"/><line x1="58" y1="8.2" x2="68.7" y2="1.3" stroke="#603f17" stroke-width="1.9" stroke-opacity="0.81" stroke-linecap="round"/><line x1="58" y1="30.1" x2="67.2" y2="29.7" stroke="#97641d" stroke-width="1.6" stroke-opacity="0.93" stroke-linecap="round"/><line x1="39.8" y1="16.7" x2="63.6" y2="33.5" stroke="#98651e" stroke-width="1" stroke-opacity="0.66" stroke-linecap="round"/><line x1="46.5" y1="3.2" x2="52.3" y2="11.3" stroke="#976b2e" stroke-width="1.1" stroke-opacity="0.94" stroke-linecap="round"/><line x1="45.1" y1="52.5" x2="46.6" y2="42.5" stroke="#826e27" stroke-width="1.3" stroke-opacity="0.70" stroke-linecap="round"/><line x1="3.4" y1="21.7" x2="16.9" y2="19.1" stroke="#b18036" stroke-width="1.2" stroke-opacity="0.91" stroke-linecap="round"/><line x1="53.9" y1="36.6" x2="62.2" y2="19.9" stroke="#ad762d" stroke-width="1.9" stroke-opacity="0.81" stroke-linecap="round"/><line x1="10.3" y1="22.3" x2="16.1" y2="28.7" stroke="#594117" stroke-width="1.5" stroke-opacity="0.69" stroke-linecap="round"/><line x1="-8.9" y1="10.8" x2="9.7" y2="7.2" stroke="#cb9746" stroke-width="1.1" stroke-opacity="0.87" stroke-linecap="round"/><line x1="30.9" y1="31.7" x2="57.4" y2="26.4" stroke="#a78034" stroke-width="1.1" stroke-opacity="0.67" stroke-linecap="round"/><line x1="31.1" y1="65.9" x2="37" y2="59.7" stroke="#ab7525" stroke-width="1.5" stroke-opacity="0.82" stroke-linecap="round"/><line x1="57.9" y1="57.8" x2="63.4" y2="65.2" stroke="#6b4e1f" stroke-width="1.9" stroke-opacity="0.87" stroke-linecap="round"/><line x1="-2" y1="52.3" x2="15.7" y2="71.7" stroke="#493c0d" stroke-width="1.6" stroke-opacity="0.83" stroke-linecap="round"/><line x1="14.3" y1="5" x2="20.6" y2="13.1" stroke="#c38e37" stroke-width="1.7" stroke-opacity="0.66" stroke-linecap="round"/><line x1="22" y1="22.9" x2="40.8" y2="25.4" stroke="#bc954d" stroke-width="1.9" stroke-opacity="0.78" stroke-linecap="round"/><line x1="60.8" y1="18.1" x2="68.7" y2="27.8" stroke="#bc9047" stroke-width="1.7" stroke-opacity="0.93" stroke-linecap="round"/><line x1="11.6" y1="64.2" x2="29.2" y2="61.6" stroke="#ab8037" stroke-width="1.7" stroke-opacity="0.67" stroke-linecap="round"/><line x1="3" y1="16.1" x2="26.3" y2="3.6" stroke="#c08e37" stroke-width="1.5" stroke-opacity="0.65" stroke-linecap="round"/><line x1="39.3" y1="55.2" x2="46.2" y2="63.6" stroke="#b7802e" stroke-width="1.1" stroke-opacity="0.70" stroke-linecap="round"/><line x1="-6.5" y1="51.8" x2="8.6" y2="42.8" stroke="#421804" stroke-width="1.7" stroke-opacity="0.77" stroke-linecap="round"/><line x1="0.9" y1="33.7" x2="10" y2="32.4" stroke="#6e562e" stroke-width="1.5" stroke-opacity="0.88" stroke-linecap="round"/><line x1="5.9" y1="43.7" x2="17.8" y2="52.1" stroke="#ae7b33" stroke-width="1.7" stroke-opacity="0.78" stroke-linecap="round"/><line x1="8.2" y1="48.4" x2="30.2" y2="52.4" stroke="#b98d37" stroke-width="2" stroke-opacity="0.73" stroke-linecap="round"/><line x1="48.9" y1="22.1" x2="61.1" y2="7.7" stroke="#b6742a" stroke-width="1.9" stroke-opacity="0.81" stroke-linecap="round"/><line x1="2.8" y1="27.7" x2="15.8" y2="37.1" stroke="#b68c41" stroke-width="1" stroke-opacity="0.68" stroke-linecap="round"/><line x1="41.8" y1="48.8" x2="66.7" y2="62.2" stroke="#624418" stroke-width="1.1" stroke-opacity="0.75" stroke-linecap="round"/><line x1="20.2" y1="38" x2="38.1" y2="21.2" stroke="#5d420c" stroke-width="1.7" stroke-opacity="0.82" stroke-linecap="round"/><line x1="38.3" y1="71.5" x2="47.3" y2="56.5" stroke="#b7802e" stroke-width="1.1" stroke-opacity="0.70" stroke-linecap="round"/><line x1="59.3" y1="48.6" x2="69.9" y2="59.9" stroke="#b9893b" stroke-width="1.5" stroke-opacity="0.77" stroke-linecap="round"/><line x1="47.8" y1="42" x2="65.6" y2="38.6" stroke="#af8037" stroke-width="1.5" stroke-opacity="0.79" stroke-linecap="round"/><line x1="4" y1="54.8" x2="15.5" y2="50.9" stroke="#c3a159" stroke-width="1.4" stroke-opacity="0.92" stroke-linecap="round"/><line x1="-0" y1="15.8" x2="5.8" y2="31.6" stroke="#5b3805" stroke-width="1.1" stroke-opacity="0.88" stroke-linecap="round"/><line x1="16" y1="21" x2="37.5" y2="32" stroke="#a47c2e" stroke-width="0.9" stroke-opacity="0.86" stroke-linecap="round"/><line x1="16.3" y1="49.7" x2="44.4" y2="48.5" stroke="#b9943e" stroke-width="1.4" stroke-opacity="0.80" stroke-linecap="round"/><line x1="23.8" y1="44.2" x2="42.8" y2="41" stroke="#a98b30" stroke-width="1.8" stroke-opacity="0.84" stroke-linecap="round"/><line x1="9.1" y1="0.5" x2="23.5" y2="14.9" stroke="#b38134" stroke-width="1.4" stroke-opacity="0.66" stroke-linecap="round"/><line x1="13.3" y1="53.3" x2="24.4" y2="55.4" stroke="#46310c" stroke-width="0.9" stroke-opacity="0.82" stroke-linecap="round"/><line x1="11.4" y1="43.3" x2="28.7" y2="51" stroke="#684909" stroke-width="1.4" stroke-opacity="0.68" stroke-linecap="round"/><line x1="42.9" y1="4" x2="55.1" y2="5" stroke="#3a2006" stroke-width="1.3" stroke-opacity="0.71" stroke-linecap="round"/><line x1="65" y1="35.3" x2="70.9" y2="25.8" stroke="#4d2d06" stroke-width="1.1" stroke-opacity="0.69" stroke-linecap="round"/><line x1="11" y1="47" x2="21.7" y2="24" stroke="#5b3605" stroke-width="1.4" stroke-opacity="0.89" stroke-linecap="round"/><line x1="24.8" y1="36.7" x2="29.6" y2="19.4" stroke="#5d420c" stroke-width="1.4" stroke-opacity="0.72" stroke-linecap="round"/><line x1="37.9" y1="65.1" x2="53.4" y2="45.5" stroke="#503507" stroke-width="1.6" stroke-opacity="0.92" stroke-linecap="round"/><line x1="43.9" y1="51.4" x2="52.1" y2="70.4" stroke="#b57c2a" stroke-width="1.4" stroke-opacity="0.86" stroke-linecap="round"/><line x1="14.9" y1="12.5" x2="22" y2="6.2" stroke="#855b1b" stroke-width="1.3" stroke-opacity="0.84" stroke-linecap="round"/><line x1="36.8" y1="56.9" x2="53.6" y2="65" stroke="#ba8432" stroke-width="0.9" stroke-opacity="0.80" stroke-linecap="round"/><line x1="-6.5" y1="41.2" x2="9" y2="42.7" stroke="#422206" stroke-width="1.8" stroke-opacity="0.91" stroke-linecap="round"/><line x1="34.9" y1="63.4" x2="46.1" y2="65.5" stroke="#aa7424" stroke-width="1.4" stroke-opacity="0.87" stroke-linecap="round"/><line x1="36.7" y1="49.7" x2="54.2" y2="60.9" stroke="#986d20" stroke-width="1.2" stroke-opacity="0.94" stroke-linecap="round"/><line x1="25.1" y1="40.3" x2="39.1" y2="52.3" stroke="#b4923a" stroke-width="1.6" stroke-opacity="0.86" stroke-linecap="round"/><line x1="16.8" y1="17.6" x2="27.1" y2="23.2" stroke="#b78633" stroke-width="1.7" stroke-opacity="0.87" stroke-linecap="round"/><line x1="21.4" y1="58.3" x2="37.1" y2="65.4" stroke="#94772f" stroke-width="1.3" stroke-opacity="0.92" stroke-linecap="round"/><line x1="23" y1="14.8" x2="29.2" y2="25.7" stroke="#c39a4e" stroke-width="1" stroke-opacity="0.72" stroke-linecap="round"/><line x1="21.3" y1="69.8" x2="27.2" y2="51.3" stroke="#9d732d" stroke-width="1.9" stroke-opacity="0.88" stroke-linecap="round"/><line x1="10.9" y1="61.8" x2="24.2" y2="63.1" stroke="#b3883d" stroke-width="1.4" stroke-opacity="0.74" stroke-linecap="round"/><line x1="32.8" y1="0.7" x2="43.4" y2="8.1" stroke="#ad7e35" stroke-width="1.2" stroke-opacity="0.67" stroke-linecap="round"/><line x1="0.8" y1="6.2" x2="15.1" y2="23.4" stroke="#c9923f" stroke-width="1.5" stroke-opacity="0.69" stroke-linecap="round"/><line x1="40.4" y1="59.6" x2="52.2" y2="71.2" stroke="#ba8432" stroke-width="1.5" stroke-opacity="0.73" stroke-linecap="round"/><line x1="47.7" y1="26.4" x2="58.7" y2="24.4" stroke="#5f3509" stroke-width="1.8" stroke-opacity="0.84" stroke-linecap="round"/><line x1="30.5" y1="22.2" x2="54.6" y2="26.1" stroke="#815920" stroke-width="1.6" stroke-opacity="0.94" stroke-linecap="round"/><line x1="47.1" y1="22.2" x2="50.9" y2="31.8" stroke="#4d3704" stroke-width="1.8" stroke-opacity="0.77" stroke-linecap="round"/><line x1="28.7" y1="33.8" x2="37.8" y2="36.7" stroke="#be8f33" stroke-width="0.9" stroke-opacity="0.90" stroke-linecap="round"/><line x1="48.9" y1="37.7" x2="63.1" y2="29.8" stroke="#aa722a" stroke-width="1.9" stroke-opacity="0.73" stroke-linecap="round"/><line x1="-1.8" y1="24.9" x2="26.6" y2="17.9" stroke="#462907" stroke-width="1.9" stroke-opacity="0.92" stroke-linecap="round"/><line x1="49.7" y1="19.6" x2="67.6" y2="30" stroke="#a06e26" stroke-width="1.4" stroke-opacity="0.66" stroke-linecap="round"/><line x1="5.8" y1="6" x2="29.5" y2="18.1" stroke="#c38e36" stroke-width="1.2" stroke-opacity="0.95" stroke-linecap="round"/><line x1="24.3" y1="46.3" x2="37.4" y2="54.2" stroke="#b08f37" stroke-width="1" stroke-opacity="0.78" stroke-linecap="round"/><line x1="39.3" y1="41.1" x2="43.9" y2="13" stroke="#b29849" stroke-width="1.2" stroke-opacity="0.71" stroke-linecap="round"/><line x1="-4.9" y1="71.2" x2="20.2" y2="61.7" stroke="#50430d" stroke-width="1.3" stroke-opacity="0.88" stroke-linecap="round"/><line x1="52.3" y1="54.1" x2="61.6" y2="27.5" stroke="#482b0a" stroke-width="1.3" stroke-opacity="0.75" stroke-linecap="round"/><line x1="35.7" y1="-2.5" x2="50.2" y2="6.9" stroke="#392006" stroke-width="1.7" stroke-opacity="0.74" stroke-linecap="round"/><line x1="18.7" y1="55.1" x2="39.3" y2="73.4" stroke="#4d3c12" stroke-width="1.9" stroke-opacity="0.82" stroke-linecap="round"/><line x1="-11.4" y1="55.2" x2="12.7" y2="40.7" stroke="#8f5a28" stroke-width="1.5" stroke-opacity="0.74" stroke-linecap="round"/><line x1="7.7" y1="51.7" x2="25.1" y2="54.7" stroke="#c3a159" stroke-width="1.1" stroke-opacity="0.65" stroke-linecap="round"/><line x1="58.6" y1="14.8" x2="72.2" y2="9.9" stroke="#c69448" stroke-width="1.5" stroke-opacity="0.78" stroke-linecap="round"/><line x1="43.3" y1="4.3" x2="50.7" y2="9.2" stroke="#875b24" stroke-width="1.6" stroke-opacity="0.79" stroke-linecap="round"/><line x1="5.1" y1="14.6" x2="20" y2="10.4" stroke="#bc8830" stroke-width="1.9" stroke-opacity="0.73" stroke-linecap="round"/><line x1="38.2" y1="47.4" x2="48" y2="37" stroke="#8a6c28" stroke-width="1.3" stroke-opacity="0.91" stroke-linecap="round"/><line x1="2.4" y1="23.2" x2="15.6" y2="49" stroke="#aa7323" stroke-width="1" stroke-opacity="0.84" stroke-linecap="round"/><line x1="37.7" y1="40.4" x2="56.8" y2="51.7" stroke="#322807" stroke-width="1.2" stroke-opacity="0.93" stroke-linecap="round"/><line x1="-4.5" y1="43.6" x2="7.9" y2="36.3" stroke="#935d23" stroke-width="1.4" stroke-opacity="0.81" stroke-linecap="round"/><line x1="6.6" y1="18.4" x2="16.4" y2="-9.8" stroke="#6c4511" stroke-width="1.6" stroke-opacity="0.69" stroke-linecap="round"/><line x1="12.3" y1="73.8" x2="31.9" y2="61.2" stroke="#4f3610" stroke-width="1.4" stroke-opacity="0.75" stroke-linecap="round"/><line x1="26.8" y1="3.9" x2="50" y2="-3.7" stroke="#ab7c33" stroke-width="1.2" stroke-opacity="0.90" stroke-linecap="round"/><line x1="59.5" y1="29" x2="75.3" y2="50.3" stroke="#b6914a" stroke-width="1.7" stroke-opacity="0.79" stroke-linecap="round"/><line x1="9.2" y1="16.8" x2="14.6" y2="0.2" stroke="#c4933e" stroke-width="1.7" stroke-opacity="0.81" stroke-linecap="round"/><line x1="42.3" y1="66.2" x2="63.7" y2="57.5" stroke="#66491a" stroke-width="1.7" stroke-opacity="0.73" stroke-linecap="round"/><line x1="28.4" y1="9.7" x2="43.3" y2="18.1" stroke="#574321" stroke-width="1.5" stroke-opacity="0.85" stroke-linecap="round"/><line x1="34.1" y1="36.6" x2="56.1" y2="51.2" stroke="#92782f" stroke-width="1.2" stroke-opacity="0.73" stroke-linecap="round"/><line x1="6.2" y1="31.8" x2="20.3" y2="20.2" stroke="#4c3713" stroke-width="1.3" stroke-opacity="0.76" stroke-linecap="round"/><line x1="33.7" y1="62.1" x2="62.2" y2="57.6" stroke="#653e0b" stroke-width="1" stroke-opacity="0.95" stroke-linecap="round"/><line x1="32.2" y1="53" x2="39.1" y2="41.8" stroke="#b59448" stroke-width="1.4" stroke-opacity="0.79" stroke-linecap="round"/><line x1="14.4" y1="21.8" x2="43.7" y2="15.8" stroke="#be974d" stroke-width="0.9" stroke-opacity="0.81" stroke-linecap="round"/><line x1="45.1" y1="70.1" x2="49.7" y2="59.1" stroke="#bf8b3a" stroke-width="1.5" stroke-opacity="0.92" stroke-linecap="round"/><line x1="0.8" y1="10.6" x2="28.4" y2="13.3" stroke="#c1903a" stroke-width="1.5" stroke-opacity="0.71" stroke-linecap="round"/><line x1="14.7" y1="45.4" x2="20.8" y2="38.4" stroke="#77540f" stroke-width="1.6" stroke-opacity="0.68" stroke-linecap="round"/><line x1="54.9" y1="11.8" x2="65.3" y2="-7.9" stroke="#5a3c15" stroke-width="1.2" stroke-opacity="0.69" stroke-linecap="round"/><line x1="2" y1="49.5" x2="21.5" y2="61.5" stroke="#65532e" stroke-width="2" stroke-opacity="0.84" stroke-linecap="round"/><line x1="19.6" y1="62.3" x2="33.2" y2="69.7" stroke="#90742d" stroke-width="1.3" stroke-opacity="0.95" stroke-linecap="round"/><line x1="53.8" y1="15.7" x2="62.8" y2="14.2" stroke="#784310" stroke-width="1" stroke-opacity="0.73" stroke-linecap="round"/><line x1="17.8" y1="41.1" x2="32.6" y2="24.5" stroke="#d0b26b" stroke-width="2" stroke-opacity="0.92" stroke-linecap="round"/><line x1="20.3" y1="54.9" x2="26.7" y2="63.1" stroke="#926d28" stroke-width="1.5" stroke-opacity="0.92" stroke-linecap="round"/><line x1="63.5" y1="29.2" x2="67.4" y2="36.5" stroke="#a47229" stroke-width="1.4" stroke-opacity="0.86" stroke-linecap="round"/><line x1="9.8" y1="12.2" x2="21.7" y2="25.9" stroke="#ae7d34" stroke-width="2" stroke-opacity="0.92" stroke-linecap="round"/><line x1="11.8" y1="67" x2="19" y2="52.9" stroke="#724b0e" stroke-width="1.1" stroke-opacity="0.80" stroke-linecap="round"/><line x1="-6" y1="39.2" x2="22.8" y2="42.6" stroke="#472305" stroke-width="1.8" stroke-opacity="0.83" stroke-linecap="round"/><line x1="13" y1="27.5" x2="27.6" y2="28.8" stroke="#927f50" stroke-width="1" stroke-opacity="0.65" stroke-linecap="round"/><line x1="31.6" y1="33.5" x2="44" y2="31.5" stroke="#ad9648" stroke-width="1.3" stroke-opacity="0.87" stroke-linecap="round"/><line x1="-1.5" y1="58.6" x2="24.8" y2="72.6" stroke="#6c470d" stroke-width="1.5" stroke-opacity="0.66" stroke-linecap="round"/><line x1="29.7" y1="5.1" x2="39.6" y2="18.3" stroke="#584421" stroke-width="1.9" stroke-opacity="0.79" stroke-linecap="round"/><line x1="44.3" y1="65.6" x2="57.7" y2="64" stroke="#59370b" stroke-width="1.1" stroke-opacity="0.89" stroke-linecap="round"/><line x1="14.4" y1="39.5" x2="26.1" y2="37.4" stroke="#bd8d2d" stroke-width="1.6" stroke-opacity="0.94" stroke-linecap="round"/><line x1="40.2" y1="60.4" x2="48.6" y2="43" stroke="#986d20" stroke-width="1.8" stroke-opacity="0.76" stroke-linecap="round"/><line x1="-2.8" y1="32.4" x2="15.1" y2="43.2" stroke="#955f25" stroke-width="1.5" stroke-opacity="0.87" stroke-linecap="round"/><line x1="42.1" y1="21.4" x2="50.5" y2="41" stroke="#9c782c" stroke-width="1.4" stroke-opacity="0.95" stroke-linecap="round"/><line x1="46.6" y1="42.8" x2="67.6" y2="38.4" stroke="#9b6926" stroke-width="1.7" stroke-opacity="0.69" stroke-linecap="round"/><line x1="32" y1="3.3" x2="60.5" y2="7.9" stroke="#8a5e25" stroke-width="1.3" stroke-opacity="0.91" stroke-linecap="round"/><line x1="60.7" y1="37.2" x2="69.3" y2="16.5" stroke="#543005" stroke-width="1.6" stroke-opacity="0.86" stroke-linecap="round"/><line x1="4.3" y1="19.8" x2="17.4" y2="30.1" stroke="#9b6722" stroke-width="1.4" stroke-opacity="0.91" stroke-linecap="round"/><line x1="2.4" y1="61.1" x2="13" y2="53.9" stroke="#96631d" stroke-width="1.1" stroke-opacity="0.73" stroke-linecap="round"/><line x1="26.6" y1="38.5" x2="54.7" y2="40.5" stroke="#403007" stroke-width="1.4" stroke-opacity="0.75" stroke-linecap="round"/><line x1="64.1" y1="58.4" x2="68.8" y2="67.5" stroke="#60461b" stroke-width="1" stroke-opacity="0.66" stroke-linecap="round"/><line x1="51.4" y1="19.5" x2="76.6" y2="22.1" stroke="#795a29" stroke-width="1.6" stroke-opacity="0.77" stroke-linecap="round"/><line x1="32.8" y1="13.7" x2="47.4" y2="1" stroke="#ac7c34" stroke-width="1.5" stroke-opacity="0.81" stroke-linecap="round"/><line x1="47.3" y1="29.9" x2="58.2" y2="2.6" stroke="#60370e" stroke-width="1.1" stroke-opacity="0.77" stroke-linecap="round"/><line x1="-11.7" y1="19.6" x2="14.5" y2="25.8" stroke="#593705" stroke-width="1.4" stroke-opacity="0.73" stroke-linecap="round"/><line x1="11.7" y1="56.7" x2="32.3" y2="67.5" stroke="#b0853b" stroke-width="1.7" stroke-opacity="0.83" stroke-linecap="round"/><line x1="19.8" y1="60.1" x2="48.4" y2="64" stroke="#a77020" stroke-width="1.6" stroke-opacity="0.80" stroke-linecap="round"/><line x1="34.7" y1="35.3" x2="43" y2="30.1" stroke="#ad9648" stroke-width="1.5" stroke-opacity="0.84" stroke-linecap="round"/><line x1="33.6" y1="44.8" x2="55.9" y2="25.4" stroke="#866925" stroke-width="1" stroke-opacity="0.73" stroke-linecap="round"/><line x1="57.3" y1="21.4" x2="73.4" y2="10.7" stroke="#7b5525" stroke-width="1.5" stroke-opacity="0.95" stroke-linecap="round"/><line x1="3.2" y1="24.9" x2="13.2" y2="32.7" stroke="#c09a54" stroke-width="1.1" stroke-opacity="0.82" stroke-linecap="round"/><line x1="42.6" y1="26.4" x2="55.8" y2="22" stroke="#a27735" stroke-width="1.4" stroke-opacity="0.82" stroke-linecap="round"/><line x1="62.6" y1="38.1" x2="67.3" y2="27.6" stroke="#a6742b" stroke-width="2" stroke-opacity="0.89" stroke-linecap="round"/><line x1="21.4" y1="7.4" x2="33.3" y2="-3.3" stroke="#c29140" stroke-width="1.4" stroke-opacity="0.71" stroke-linecap="round"/><line x1="34.1" y1="3.9" x2="56.1" y2="8.5" stroke="#8b5f26" stroke-width="1.1" stroke-opacity="0.94" stroke-linecap="round"/><line x1="15.7" y1="12.7" x2="21.8" y2="24.6" stroke="#b88834" stroke-width="1.5" stroke-opacity="0.69" stroke-linecap="round"/><line x1="-1.3" y1="62.6" x2="9.9" y2="61" stroke="#54470e" stroke-width="1" stroke-opacity="0.69" stroke-linecap="round"/><line x1="-6.8" y1="16" x2="7.4" y2="6.9" stroke="#8f6124" stroke-width="1.4" stroke-opacity="0.76" stroke-linecap="round"/><line x1="40.1" y1="17.8" x2="51.7" y2="35.4" stroke="#422e06" stroke-width="1.2" stroke-opacity="0.90" stroke-linecap="round"/><line x1="5" y1="4.5" x2="20.4" y2="3.6" stroke="#634010" stroke-width="1" stroke-opacity="0.92" stroke-linecap="round"/><line x1="-1.6" y1="-1.4" x2="2" y2="8.5" stroke="#9a6825" stroke-width="1.3" stroke-opacity="0.79" stroke-linecap="round"/><line x1="42.5" y1="34.1" x2="69.1" y2="30.7" stroke="#ad752d" stroke-width="1" stroke-opacity="0.88" stroke-linecap="round"/><line x1="21" y1="31" x2="43.2" y2="28.6" stroke="#5e430c" stroke-width="1.7" stroke-opacity="0.75" stroke-linecap="round"/><line x1="40.6" y1="60.7" x2="58.8" y2="41.4" stroke="#a4792b" stroke-width="1.2" stroke-opacity="0.77" stroke-linecap="round"/><line x1="2.6" y1="-0.6" x2="20" y2="19.3" stroke="#744f15" stroke-width="1.8" stroke-opacity="0.80" stroke-linecap="round"/><line x1="51.3" y1="22.4" x2="61" y2="23.1" stroke="#9e6c24" stroke-width="1.2" stroke-opacity="0.74" stroke-linecap="round"/><line x1="2.5" y1="57.6" x2="12.5" y2="66.2" stroke="#51440e" stroke-width="1.8" stroke-opacity="0.67" stroke-linecap="round"/><line x1="52.8" y1="35.3" x2="61.5" y2="41.9" stroke="#a5742f" stroke-width="1.1" stroke-opacity="0.71" stroke-linecap="round"/><line x1="49.1" y1="46.3" x2="74.6" y2="41.3" stroke="#513a14" stroke-width="1.1" stroke-opacity="0.85" stroke-linecap="round"/><line x1="54.6" y1="25.1" x2="59.4" y2="11.7" stroke="#60711b" stroke-width="1.6" stroke-opacity="0.83" stroke-linecap="round"/><line x1="49.9" y1="6.6" x2="62.8" y2="22.2" stroke="#7d7520" stroke-width="1.3" stroke-opacity="0.89" stroke-linecap="round"/><line x1="40.5" y1="13.1" x2="52.5" y2="27.2" stroke="#4f6d1d" stroke-width="0.8" stroke-opacity="0.73" stroke-linecap="round"/><line x1="49.8" y1="-2" x2="57.1" y2="17.1" stroke="#6b6520" stroke-width="1.5" stroke-opacity="0.60" stroke-linecap="round"/><line x1="48" y1="19" x2="52.2" y2="11.4" stroke="#4f5414" stroke-width="1.6" stroke-opacity="0.65" stroke-linecap="round"/><line x1="56.2" y1="26.5" x2="72.4" y2="13.5" stroke="#708932" stroke-width="1.4" stroke-opacity="0.80" stroke-linecap="round"/><line x1="1.8" y1="36.9" x2="5.2" y2="24.1" stroke="#7f9340" stroke-width="1.2" stroke-opacity="0.62" stroke-linecap="round"/><line x1="40.7" y1="67" x2="46.1" y2="51.4" stroke="#5f7a1e" stroke-width="0.9" stroke-opacity="0.71" stroke-linecap="round"/><line x1="25.3" y1="57.2" x2="32.9" y2="48" stroke="#607622" stroke-width="1.4" stroke-opacity="0.75" stroke-linecap="round"/><line x1="6.3" y1="9.6" x2="11.4" y2="-0.5" stroke="#747821" stroke-width="0.9" stroke-opacity="0.88" stroke-linecap="round"/><line x1="27" y1="7.9" x2="33.6" y2="27" stroke="#808e3c" stroke-width="1.4" stroke-opacity="0.84" stroke-linecap="round"/><line x1="43.3" y1="74" x2="51.1" y2="60.6" stroke="#79791d" stroke-width="1.4" stroke-opacity="0.80" stroke-linecap="round"/><line x1="15" y1="9.9" x2="28.6" y2="-4.8" stroke="#829440" stroke-width="1.5" stroke-opacity="0.78" stroke-linecap="round"/><line x1="-6.8" y1="74.1" x2="7.3" y2="61.4" stroke="#5c8424" stroke-width="1.1" stroke-opacity="0.85" stroke-linecap="round"/><line x1="48" y1="1.6" x2="53.5" y2="17" stroke="#505f18" stroke-width="1.5" stroke-opacity="0.84" stroke-linecap="round"/><line x1="10.8" y1="64.2" x2="16" y2="55.7" stroke="#7f791c" stroke-width="1.3" stroke-opacity="0.82" stroke-linecap="round"/><line x1="8.6" y1="54.1" x2="12.4" y2="44.3" stroke="#656616" stroke-width="1.3" stroke-opacity="0.87" stroke-linecap="round"/><line x1="3.7" y1="22.2" x2="8.5" y2="12.9" stroke="#647b1d" stroke-width="1.6" stroke-opacity="0.81" stroke-linecap="round"/><line x1="64.1" y1="18.2" x2="67.7" y2="28.2" stroke="#7e8635" stroke-width="1.2" stroke-opacity="0.86" stroke-linecap="round"/><line x1="26.8" y1="2.7" x2="32.6" y2="13.7" stroke="#817f24" stroke-width="1.2" stroke-opacity="0.77" stroke-linecap="round"/><line x1="-1.7" y1="50" x2="5.4" y2="71.9" stroke="#65791c" stroke-width="1.6" stroke-opacity="0.67" stroke-linecap="round"/><line x1="5.1" y1="43.1" x2="13.3" y2="29.8" stroke="#786710" stroke-width="1.1" stroke-opacity="0.73" stroke-linecap="round"/><line x1="54.5" y1="50.9" x2="60.7" y2="34.7" stroke="#65842f" stroke-width="1.2" stroke-opacity="0.80" stroke-linecap="round"/><line x1="54.3" y1="43.5" x2="69.1" y2="31.6" stroke="#888b3d" stroke-width="1.5" stroke-opacity="0.73" stroke-linecap="round"/><line x1="10.4" y1="55" x2="18.3" y2="35.3" stroke="#695f12" stroke-width="1.5" stroke-opacity="0.67" stroke-linecap="round"/><line x1="31.5" y1="23.7" x2="38.6" y2="7" stroke="#6d8e37" stroke-width="0.9" stroke-opacity="0.78" stroke-linecap="round"/><line x1="30.7" y1="32.6" x2="42.1" y2="23.9" stroke="#659033" stroke-width="1.2" stroke-opacity="0.66" stroke-linecap="round"/><line x1="40.2" y1="37" x2="51.3" y2="49.8" stroke="#435b10" stroke-width="1.1" stroke-opacity="0.82" stroke-linecap="round"/><line x1="27.2" y1="70.5" x2="36" y2="51.3" stroke="#617021" stroke-width="1.6" stroke-opacity="0.66" stroke-linecap="round"/><line x1="-0.7" y1="35.9" x2="5.3" y2="44.4" stroke="#5a6118" stroke-width="1.1" stroke-opacity="0.78" stroke-linecap="round"/><defs><radialGradient id="rgc"><stop offset="0" stop-color="#e6e8c8" stop-opacity="0.95"/><stop offset="0.6" stop-color="#d0d4a8" stop-opacity="0.8"/><stop offset="1" stop-color="#c8c8a0" stop-opacity="0"/></radialGradient></defs><ellipse cx="26.2" cy="13.1" rx="4.2" ry="5.9" fill="url(#rgc)" transform="rotate(-10 26.2 13.1)"/><ellipse cx="5.5" cy="23" rx="5.9" ry="4.2" fill="url(#rgc)" transform="rotate(0 5.5 23)"/><ellipse cx="23.5" cy="25" rx="4.7" ry="4.2" fill="url(#rgc)" transform="rotate(0 23.5 25)"/><ellipse cx="31" cy="19" rx="2.9" ry="4.7" fill="url(#rgc)" transform="rotate(-20 31 19)"/><ellipse cx="37.5" cy="17" rx="2.9" ry="5.2" fill="url(#rgc)" transform="rotate(-30 37.5 17)"/><ellipse cx="40" cy="30.5" rx="4.7" ry="4.2" fill="url(#rgc)" transform="rotate(0 40 30.5)"/><ellipse cx="52" cy="23.5" rx="5.2" ry="3.9" fill="url(#rgc)" transform="rotate(0 52 23.5)"/><ellipse cx="65" cy="14.5" rx="4.2" ry="4.2" fill="url(#rgc)" transform="rotate(0 65 14.5)"/><ellipse cx="62.5" cy="41" rx="5.2" ry="4.2" fill="url(#rgc)" transform="rotate(-30 62.5 41)"/><ellipse cx="48" cy="39.5" rx="4.2" ry="3.6" fill="url(#rgc)" transform="rotate(0 48 39.5)"/><ellipse cx="36.5" cy="47" rx="5.9" ry="4.2" fill="url(#rgc)" transform="rotate(0 36.5 47)"/><ellipse cx="52" cy="48.5" rx="2.9" ry="2.9" fill="url(#rgc)" transform="rotate(0 52 48.5)"/><ellipse cx="11" cy="54" rx="4.2" ry="3.6" fill="url(#rgc)" transform="rotate(0 11 54)"/><ellipse cx="47.5" cy="57.5" rx="4.2" ry="4.7" fill="url(#rgc)" transform="rotate(-20 47.5 57.5)"/><ellipse cx="15.5" cy="5" rx="2.9" ry="2.9" fill="url(#rgc)" transform="rotate(0 15.5 5)"/><ellipse cx="30" cy="44.5" rx="2.9" ry="2.9" fill="url(#rgc)" transform="rotate(0 30 44.5)"/></g></g></g>
<line x1="41.7" y1="461.2" x2="325.6" y2="262.7" stroke="#000" stroke-width="2" stroke-dasharray="11.8 9.6" stroke-dashoffset="0.3"/>
<line x1="75" y1="404.1" x2="246.7" y2="293.9" stroke="#222" stroke-width="1"/>
<circle cx="75" cy="424.8" r="2.6" fill="#000"/>
<circle cx="79" cy="407.7" r="2.6" fill="#000"/>
<circle cx="84.7" cy="404.7" r="2.6" fill="#000"/>
<circle cx="90.1" cy="390.5" r="2.6" fill="#000"/>
<circle cx="92.5" cy="398.9" r="2.6" fill="#000"/>
<circle cx="107.8" cy="393.2" r="2.6" fill="#000"/>
<circle cx="110.5" cy="378.2" r="2.6" fill="#000"/>
<circle cx="115.6" cy="382.9" r="2.6" fill="#000"/>
<circle cx="117.2" cy="332.9" r="2.6" fill="#000"/>
<circle cx="136.1" cy="354.9" r="2.6" fill="#000"/>
<circle cx="138.6" cy="361.3" r="2.6" fill="#000"/>
<circle cx="140.1" cy="367.9" r="2.6" fill="#000"/>
<circle cx="145.3" cy="348.3" r="2.6" fill="#000"/>
<circle cx="153.6" cy="332.9" r="2.6" fill="#000"/>
<circle cx="154.9" cy="346.1" r="2.6" fill="#000"/>
<circle cx="163" cy="376.2" r="2.6" fill="#000"/>
<circle cx="167.2" cy="356.5" r="2.6" fill="#000"/>
<circle cx="175.2" cy="328" r="2.6" fill="#000"/>
<circle cx="178.9" cy="332.8" r="2.6" fill="#000"/>
<circle cx="182.2" cy="312.1" r="2.6" fill="#000"/>
<circle cx="214.5" cy="305.5" r="2.6" fill="#000"/>
<circle cx="225.3" cy="351.1" r="2.6" fill="#000"/>
<circle cx="234.9" cy="291.2" r="2.6" fill="#000"/>
<circle cx="247" cy="296.9" r="2.6" fill="#000"/>
<rect x="49.4" y="269.4" width="106.3" height="36.4" fill="#fff" stroke="#555" stroke-width="1"/>
<line x1="54.1" y1="282" x2="75.5" y2="282" stroke="#333" stroke-width="1"/>
<text x="81.2" y="287.4" font-size="9.2" fill="#222">R<tspan font-size="8.74" dy="-3.6">2</tspan><tspan dy="3.6"> = 0.75</tspan></text>
<text x="81.2" y="297.8" font-size="9.2" fill="#222">p-value &lt; 0.0001</text>
<rect x="41.7" y="262.7" width="283.9" height="198.5" fill="none" stroke="#0a0a0a" stroke-width="1.5"/>
<line x1="55.22" y1="461.2" x2="55.22" y2="464.2" stroke="#1a1a1a" stroke-width="1"/>
<text x="55.22" y="477.4" font-size="9.55" fill="#222" text-anchor="middle">100</text>
<line x1="122.81" y1="461.2" x2="122.81" y2="464.2" stroke="#1a1a1a" stroke-width="1"/>
<text x="122.81" y="477.4" font-size="9.55" fill="#222" text-anchor="middle">150</text>
<line x1="190.41" y1="461.2" x2="190.41" y2="464.2" stroke="#1a1a1a" stroke-width="1"/>
<text x="190.41" y="477.4" font-size="9.55" fill="#222" text-anchor="middle">200</text>
<line x1="258" y1="461.2" x2="258" y2="464.2" stroke="#1a1a1a" stroke-width="1"/>
<text x="258" y="477.4" font-size="9.55" fill="#222" text-anchor="middle">250</text>
<line x1="325.6" y1="461.2" x2="325.6" y2="464.2" stroke="#1a1a1a" stroke-width="1"/>
<text x="325.6" y="477.4" font-size="9.55" fill="#222" text-anchor="middle">300</text>
<line x1="38.4" y1="451.75" x2="41.7" y2="451.75" stroke="#1a1a1a" stroke-width="1"/>
<text x="33.7" y="455.25" font-size="9.55" fill="#222" text-anchor="end">100</text>
<line x1="38.4" y1="404.49" x2="41.7" y2="404.49" stroke="#1a1a1a" stroke-width="1"/>
<text x="33.7" y="407.99" font-size="9.55" fill="#222" text-anchor="end">150</text>
<line x1="38.4" y1="357.22" x2="41.7" y2="357.22" stroke="#1a1a1a" stroke-width="1"/>
<text x="33.7" y="360.72" font-size="9.55" fill="#222" text-anchor="end">200</text>
<line x1="38.4" y1="309.96" x2="41.7" y2="309.96" stroke="#1a1a1a" stroke-width="1"/>
<text x="33.7" y="313.46" font-size="9.55" fill="#222" text-anchor="end">250</text>
<line x1="38.4" y1="262.7" x2="41.7" y2="262.7" stroke="#1a1a1a" stroke-width="1"/>
<text x="33.7" y="266.2" font-size="9.55" fill="#222" text-anchor="end">300</text>
<text x="183.65" y="495.6" font-size="9.2" fill="#222" text-anchor="middle">Manual counting</text>
<text transform="translate(9.2,361.95) rotate(-90)" font-size="9.2" fill="#222" text-anchor="middle">Algorithm counting</text>
<text x="2.2" y="265.8" font-size="14" font-weight="bold" fill="#000">c</text>
<g transform="translate(402.2,278)"><defs><clipPath id="cld"><rect width="70.3" height="65"/></clipPath><filter id="fbd" x="-20%" y="-20%" width="140%" height="140%"><feGaussianBlur stdDeviation="2.2"/></filter><filter id="fdd" x="-10%" y="-10%" width="120%" height="120%"><feGaussianBlur stdDeviation="0.6"/></filter></defs><g clip-path="url(#cld)"><g filter="url(#fbd)"><rect x="-8.8" y="-8.1" width="9.4" height="8.7" fill="#7b3b01"/><rect x="0" y="-8.1" width="9.4" height="8.7" fill="#7b3b01"/><rect x="8.8" y="-8.1" width="9.4" height="8.7" fill="#ae6e31"/><rect x="17.6" y="-8.1" width="9.4" height="8.7" fill="#945513"/><rect x="26.4" y="-8.1" width="9.4" height="8.7" fill="#a86a2a"/><rect x="35.1" y="-8.1" width="9.4" height="8.7" fill="#642400"/><rect x="43.9" y="-8.1" width="9.4" height="8.7" fill="#490f00"/><rect x="52.7" y="-8.1" width="9.4" height="8.7" fill="#c4894c"/><rect x="61.5" y="-8.1" width="9.4" height="8.7" fill="#a66a33"/><rect x="70.3" y="-8.1" width="9.4" height="8.7" fill="#a66a33"/><rect x="-8.8" y="0" width="9.4" height="8.7" fill="#7b3b01"/><rect x="0" y="0" width="9.4" height="8.7" fill="#7b3b01"/><rect x="8.8" y="0" width="9.4" height="8.7" fill="#ae6e31"/><rect x="17.6" y="0" width="9.4" height="8.7" fill="#945513"/><rect x="26.4" y="0" width="9.4" height="8.7" fill="#a86a2a"/><rect x="35.1" y="0" width="9.4" height="8.7" fill="#642400"/><rect x="43.9" y="0" width="9.4" height="8.7" fill="#490f00"/><rect x="52.7" y="0" width="9.4" height="8.7" fill="#c4894c"/><rect x="61.5" y="0" width="9.4" height="8.7" fill="#a66a33"/><rect x="70.3" y="0" width="9.4" height="8.7" fill="#a66a33"/><rect x="-8.8" y="8.1" width="9.4" height="8.7" fill="#7b3b01"/><rect x="0" y="8.1" width="9.4" height="8.7" fill="#7b3b01"/><rect x="8.8" y="8.1" width="9.4" height="8.7" fill="#8f4f0e"/><rect x="17.6" y="8.1" width="9.4" height="8.7" fill="#945513"/><rect x="26.4" y="8.1" width="9.4" height="8.7" fill="#652e02"/><rect x="35.1" y="8.1" width="9.4" height="8.7" fill="#4a1100"/><rect x="43.9" y="8.1" width="9.4" height="8.7" fill="#220000"/><rect x="52.7" y="8.1" width="9.4" height="8.7" fill="#92561c"/><rect x="61.5" y="8.1" width="9.4" height="8.7" fill="#784118"/><rect x="70.3" y="8.1" width="9.4" height="8.7" fill="#784118"/><rect x="-8.8" y="16.2" width="9.4" height="8.7" fill="#561e00"/><rect x="0" y="16.2" width="9.4" height="8.7" fill="#561e00"/><rect x="8.8" y="16.2" width="9.4" height="8.7" fill="#995c1c"/><rect x="17.6" y="16.2" width="9.4" height="8.7" fill="#773f16"/><rect x="26.4" y="16.2" width="9.4" height="8.7" fill="#784621"/><rect x="35.1" y="16.2" width="9.4" height="8.7" fill="#8a4d0f"/><rect x="43.9" y="16.2" width="9.4" height="8.7" fill="#763902"/><rect x="52.7" y="16.2" width="9.4" height="8.7" fill="#84460f"/><rect x="61.5" y="16.2" width="9.4" height="8.7" fill="#6a340c"/><rect x="70.3" y="16.2" width="9.4" height="8.7" fill="#6a340c"/><rect x="-8.8" y="24.4" width="9.4" height="8.7" fill="#420c00"/><rect x="0" y="24.4" width="9.4" height="8.7" fill="#420c00"/><rect x="8.8" y="24.4" width="9.4" height="8.7" fill="#713300"/><rect x="17.6" y="24.4" width="9.4" height="8.7" fill="#5d2a08"/><rect x="26.4" y="24.4" width="9.4" height="8.7" fill="#5d2a08"/><rect x="35.1" y="24.4" width="9.4" height="8.7" fill="#5b2600"/><rect x="43.9" y="24.4" width="9.4" height="8.7" fill="#340400"/><rect x="52.7" y="24.4" width="9.4" height="8.7" fill="#6a340c"/><rect x="61.5" y="24.4" width="9.4" height="8.7" fill="#844719"/><rect x="70.3" y="24.4" width="9.4" height="8.7" fill="#844719"/><rect x="-8.8" y="32.5" width="9.4" height="8.7" fill="#a56322"/><rect x="0" y="32.5" width="9.4" height="8.7" fill="#a56322"/><rect x="8.8" y="32.5" width="9.4" height="8.7" fill="#7d3900"/><rect x="17.6" y="32.5" width="9.4" height="8.7" fill="#592404"/><rect x="26.4" y="32.5" width="9.4" height="8.7" fill="#743907"/><rect x="35.1" y="32.5" width="9.4" height="8.7" fill="#88480e"/><rect x="43.9" y="32.5" width="9.4" height="8.7" fill="#6e340a"/><rect x="52.7" y="32.5" width="9.4" height="8.7" fill="#753e07"/><rect x="61.5" y="32.5" width="9.4" height="8.7" fill="#925314"/><rect x="70.3" y="32.5" width="9.4" height="8.7" fill="#925314"/><rect x="-8.8" y="40.6" width="9.4" height="8.7" fill="#af6d2e"/><rect x="0" y="40.6" width="9.4" height="8.7" fill="#af6d2e"/><rect x="8.8" y="40.6" width="9.4" height="8.7" fill="#622400"/><rect x="17.6" y="40.6" width="9.4" height="8.7" fill="#592404"/><rect x="26.4" y="40.6" width="9.4" height="8.7" fill="#592404"/><rect x="35.1" y="40.6" width="9.4" height="8.7" fill="#9d5d25"/><rect x="43.9" y="40.6" width="9.4" height="8.7" fill="#88480e"/><rect x="52.7" y="40.6" width="9.4" height="8.7" fill="#591f00"/><rect x="61.5" y="40.6" width="9.4" height="8.7" fill="#9c5d20"/><rect x="70.3" y="40.6" width="9.4" height="8.7" fill="#9c5d20"/><rect x="-8.8" y="48.8" width="9.4" height="8.7" fill="#8b5015"/><rect x="0" y="48.8" width="9.4" height="8.7" fill="#8b5015"/><rect x="8.8" y="48.8" width="9.4" height="8.7" fill="#5c2704"/><rect x="17.6" y="48.8" width="9.4" height="8.7" fill="#955a20"/><rect x="26.4" y="48.8" width="9.4" height="8.7" fill="#5c2604"/><rect x="35.1" y="48.8" width="9.4" height="8.7" fill="#96591e"/><rect x="43.9" y="48.8" width="9.4" height="8.7" fill="#aa6e35"/><rect x="52.7" y="48.8" width="9.4" height="8.7" fill="#8f4d12"/><rect x="61.5" y="48.8" width="9.4" height="8.7" fill="#c1814c"/><rect x="70.3" y="48.8" width="9.4" height="8.7" fill="#c1814c"/><rect x="-8.8" y="56.9" width="9.4" height="8.7" fill="#491500"/><rect x="0" y="56.9" width="9.4" height="8.7" fill="#491500"/><rect x="8.8" y="56.9" width="9.4" height="8.7" fill="#5d2904"/><rect x="17.6" y="56.9" width="9.4" height="8.7" fill="#78451d"/><rect x="26.4" y="56.9" width="9.4" height="8.7" fill="#4a1c02"/><rect x="35.1" y="56.9" width="9.4" height="8.7" fill="#68320d"/><rect x="43.9" y="56.9" width="9.4" height="8.7" fill="#976329"/><rect x="52.7" y="56.9" width="9.4" height="8.7" fill="#8f4d12"/><rect x="61.5" y="56.9" width="9.4" height="8.7" fill="#a36129"/><rect x="70.3" y="56.9" width="9.4" height="8.7" fill="#a36129"/><rect x="-8.8" y="65" width="9.4" height="8.7" fill="#491500"/><rect x="0" y="65" width="9.4" height="8.7" fill="#491500"/><rect x="8.8" y="65" width="9.4" height="8.7" fill="#5d2904"/><rect x="17.6" y="65" width="9.4" height="8.7" fill="#78451d"/><rect x="26.4" y="65" width="9.4" height="8.7" fill="#4a1c02"/><rect x="35.1" y="65" width="9.4" height="8.7" fill="#68320d"/><rect x="43.9" y="65" width="9.4" height="8.7" fill="#976329"/><rect x="52.7" y="65" width="9.4" height="8.7" fill="#8f4d12"/><rect x="61.5" y="65" width="9.4" height="8.7" fill="#a36129"/><rect x="70.3" y="65" width="9.4" height="8.7" fill="#a36129"/></g><g filter="url(#fdd)"><defs><radialGradient id="rgd"><stop offset="0" stop-color="#fae6b8" stop-opacity="0.95"/><stop offset="0.5" stop-color="#f0c888" stop-opacity="0.6"/><stop offset="1" stop-color="#e0a860" stop-opacity="0"/></radialGradient></defs><line x1="-1" y1="46.3" x2="16" y2="45" stroke="#cb9154" stroke-width="0.8" stroke-opacity="0.62" stroke-linecap="round"/><line x1="33.2" y1="19.1" x2="63" y2="32.5" stroke="#ab7649" stroke-width="0.7" stroke-opacity="0.75" stroke-linecap="round"/><line x1="23" y1="12.4" x2="49.6" y2="8.6" stroke="#9a6239" stroke-width="0.5" stroke-opacity="0.58" stroke-linecap="round"/><line x1="65.1" y1="21.2" x2="72.4" y2="31.3" stroke="#c38b52" stroke-width="0.8" stroke-opacity="0.75" stroke-linecap="round"/><line x1="20.3" y1="50.9" x2="30.9" y2="61.6" stroke="#b87f44" stroke-width="0.9" stroke-opacity="0.70" stroke-linecap="round"/><line x1="1.3" y1="50.4" x2="13.1" y2="55.9" stroke="#b88044" stroke-width="0.8" stroke-opacity="0.73" stroke-linecap="round"/><line x1="24.6" y1="53.8" x2="35.2" y2="72.8" stroke="#9f6c3d" stroke-width="0.8" stroke-opacity="0.54" stroke-linecap="round"/><line x1="28.1" y1="12.8" x2="38.6" y2="17.9" stroke="#b47d46" stroke-width="0.8" stroke-opacity="0.51" stroke-linecap="round"/><line x1="41.7" y1="73.2" x2="57.4" y2="49.5" stroke="#be894d" stroke-width="0.7" stroke-opacity="0.71" stroke-linecap="round"/><line x1="-3.2" y1="37.5" x2="9.2" y2="35.3" stroke="#bc7f40" stroke-width="0.5" stroke-opacity="0.70" stroke-linecap="round"/><line x1="19.5" y1="55.1" x2="53.9" y2="49.5" stroke="#b3793e" stroke-width="0.6" stroke-opacity="0.70" stroke-linecap="round"/><line x1="11.5" y1="-1.3" x2="14.1" y2="28.4" stroke="#be8346" stroke-width="0.8" stroke-opacity="0.88" stroke-linecap="round"/><line x1="48.7" y1="42" x2="57.7" y2="24.1" stroke="#402409" stroke-width="0.9" stroke-opacity="0.63" stroke-linecap="round"/><line x1="58.5" y1="48.7" x2="70.2" y2="31" stroke="#b3783b" stroke-width="0.9" stroke-opacity="0.55" stroke-linecap="round"/><line x1="-0.6" y1="70.2" x2="8.3" y2="50.5" stroke="#9c663a" stroke-width="0.9" stroke-opacity="0.60" stroke-linecap="round"/><line x1="22.7" y1="22.4" x2="29.1" y2="32.9" stroke="#3f2009" stroke-width="0.5" stroke-opacity="0.86" stroke-linecap="round"/><line x1="71.6" y1="43.4" x2="66.4" y2="68.4" stroke="#53371e" stroke-width="0.8" stroke-opacity="0.69" stroke-linecap="round"/><line x1="62.9" y1="17.3" x2="72" y2="24.6" stroke="#bf8850" stroke-width="0.8" stroke-opacity="0.54" stroke-linecap="round"/><line x1="48.7" y1="17.8" x2="73.2" y2="37.6" stroke="#48260b" stroke-width="0.9" stroke-opacity="0.62" stroke-linecap="round"/><line x1="-6.9" y1="22.8" x2="25.9" y2="26.5" stroke="#be854b" stroke-width="0.9" stroke-opacity="0.51" stroke-linecap="round"/><line x1="-7.6" y1="16.6" x2="19.1" y2="18.7" stroke="#bd8650" stroke-width="0.6" stroke-opacity="0.90" stroke-linecap="round"/><line x1="55.7" y1="53.6" x2="74.8" y2="63.6" stroke="#cb9257" stroke-width="0.5" stroke-opacity="0.55" stroke-linecap="round"/><line x1="55.7" y1="50.1" x2="78.8" y2="54.7" stroke="#614024" stroke-width="1" stroke-opacity="0.53" stroke-linecap="round"/><line x1="17.3" y1="34.4" x2="44.3" y2="40.7" stroke="#442409" stroke-width="0.6" stroke-opacity="0.51" stroke-linecap="round"/><line x1="46.6" y1="41.7" x2="74.6" y2="20.2" stroke="#bb844d" stroke-width="0.6" stroke-opacity="0.84" stroke-linecap="round"/><line x1="-2" y1="41.5" x2="12.5" y2="61.3" stroke="#bf874b" stroke-width="0.8" stroke-opacity="0.76" stroke-linecap="round"/><line x1="50.7" y1="32.1" x2="58.2" y2="23" stroke="#b6804a" stroke-width="0.9" stroke-opacity="0.68" stroke-linecap="round"/><line x1="14.1" y1="-7.8" x2="14.4" y2="21.8" stroke="#c88d51" stroke-width="0.9" stroke-opacity="0.62" stroke-linecap="round"/><line x1="6.9" y1="26.7" x2="17.8" y2="56.1" stroke="#a36938" stroke-width="0.5" stroke-opacity="0.52" stroke-linecap="round"/><line x1="2.7" y1="10.2" x2="1.6" y2="29.7" stroke="#3c1a05" stroke-width="0.9" stroke-opacity="0.51" stroke-linecap="round"/><line x1="32.8" y1="-3.1" x2="38.5" y2="11.8" stroke="#331a07" stroke-width="0.8" stroke-opacity="0.83" stroke-linecap="round"/><line x1="49.5" y1="21.1" x2="64.7" y2="2" stroke="#c58c51" stroke-width="1" stroke-opacity="0.67" stroke-linecap="round"/><line x1="-6.4" y1="20.9" x2="8.6" y2="18.8" stroke="#955e31" stroke-width="0.9" stroke-opacity="0.59" stroke-linecap="round"/><line x1="21.5" y1="35.7" x2="33" y2="41.6" stroke="#3e2209" stroke-width="0.9" stroke-opacity="0.78" stroke-linecap="round"/><line x1="31.5" y1="64.3" x2="45.1" y2="57.2" stroke="#b7804b" stroke-width="0.7" stroke-opacity="0.71" stroke-linecap="round"/><line x1="5.6" y1="51.3" x2="12.9" y2="60.9" stroke="#976132" stroke-width="0.8" stroke-opacity="0.59" stroke-linecap="round"/><line x1="57.1" y1="0.3" x2="69.7" y2="13.5" stroke="#c78e54" stroke-width="0.9" stroke-opacity="0.85" stroke-linecap="round"/><line x1="-2.6" y1="34.4" x2="19.8" y2="31.3" stroke="#bd8142" stroke-width="0.7" stroke-opacity="0.71" stroke-linecap="round"/><line x1="14.6" y1="51.3" x2="30.1" y2="46.3" stroke="#bf864b" stroke-width="0.9" stroke-opacity="0.87" stroke-linecap="round"/><line x1="62" y1="22.3" x2="66.8" y2="33.1" stroke="#b77e47" stroke-width="0.6" stroke-opacity="0.85" stroke-linecap="round"/><line x1="51.7" y1="71.6" x2="72.3" y2="43.9" stroke="#c78d52" stroke-width="0.7" stroke-opacity="0.60" stroke-linecap="round"/><line x1="10.2" y1="6.3" x2="31.5" y2="15.8" stroke="#b67b3c" stroke-width="0.7" stroke-opacity="0.55" stroke-linecap="round"/><line x1="7.7" y1="14.5" x2="24.5" y2="11.1" stroke="#b87d3f" stroke-width="0.6" stroke-opacity="0.52" stroke-linecap="round"/><line x1="9" y1="13" x2="29.8" y2="10.5" stroke="#c89052" stroke-width="0.7" stroke-opacity="0.60" stroke-linecap="round"/><line x1="-7.9" y1="48.6" x2="14.9" y2="66.5" stroke="#b8824e" stroke-width="1" stroke-opacity="0.58" stroke-linecap="round"/><line x1="32.1" y1="37.5" x2="49.9" y2="47.8" stroke="#c2884d" stroke-width="1" stroke-opacity="0.63" stroke-linecap="round"/><line x1="33.9" y1="51.2" x2="42.2" y2="57.5" stroke="#b97f44" stroke-width="1" stroke-opacity="0.68" stroke-linecap="round"/><line x1="27.3" y1="64.1" x2="35.2" y2="57.8" stroke="#b37f4b" stroke-width="0.5" stroke-opacity="0.54" stroke-linecap="round"/><line x1="25.6" y1="18.1" x2="59.1" y2="8.8" stroke="#2c1508" stroke-width="0.9" stroke-opacity="0.68" stroke-linecap="round"/><line x1="19.9" y1="49.5" x2="30.7" y2="62.4" stroke="#b77e43" stroke-width="0.6" stroke-opacity="0.89" stroke-linecap="round"/><line x1="3.3" y1="46.9" x2="13.8" y2="59.1" stroke="#5a3510" stroke-width="0.7" stroke-opacity="0.87" stroke-linecap="round"/><line x1="55.2" y1="32.1" x2="63.6" y2="45.2" stroke="#be874c" stroke-width="0.7" stroke-opacity="0.53" stroke-linecap="round"/><line x1="63.2" y1="63.9" x2="72.7" y2="56.1" stroke="#693f1b" stroke-width="0.6" stroke-opacity="0.66" stroke-linecap="round"/><line x1="51.9" y1="18.7" x2="71.8" y2="25" stroke="#b27c46" stroke-width="0.8" stroke-opacity="0.69" stroke-linecap="round"/><line x1="57.3" y1="-0.9" x2="69.5" y2="7.7" stroke="#ca9257" stroke-width="0.6" stroke-opacity="0.62" stroke-linecap="round"/><line x1="-7.8" y1="47.2" x2="10.6" y2="23.5" stroke="#c08445" stroke-width="1" stroke-opacity="0.83" stroke-linecap="round"/><line x1="58.2" y1="15.4" x2="78" y2="38.5" stroke="#c0874f" stroke-width="0.7" stroke-opacity="0.61" stroke-linecap="round"/><line x1="28.8" y1="8.2" x2="38.4" y2="-2.9" stroke="#c68c4f" stroke-width="0.7" stroke-opacity="0.87" stroke-linecap="round"/><line x1="60.6" y1="29.4" x2="71.3" y2="25.8" stroke="#b98049" stroke-width="0.9" stroke-opacity="0.60" stroke-linecap="round"/><line x1="35.9" y1="45" x2="41.1" y2="74.1" stroke="#371e0b" stroke-width="0.8" stroke-opacity="0.65" stroke-linecap="round"/><line x1="22.7" y1="13.8" x2="30.9" y2="3.2" stroke="#331c08" stroke-width="0.7" stroke-opacity="0.58" stroke-linecap="round"/><line x1="9.3" y1="46" x2="8" y2="71.5" stroke="#b67f4d" stroke-width="1" stroke-opacity="0.72" stroke-linecap="round"/><line x1="61.4" y1="13.9" x2="73.6" y2="17.9" stroke="#462810" stroke-width="0.7" stroke-opacity="0.88" stroke-linecap="round"/><line x1="-0.6" y1="56.1" x2="12.9" y2="27.7" stroke="#603c1a" stroke-width="0.9" stroke-opacity="0.87" stroke-linecap="round"/><line x1="-7.5" y1="40.2" x2="15.4" y2="31.9" stroke="#c58a4d" stroke-width="0.9" stroke-opacity="0.78" stroke-linecap="round"/><line x1="2.7" y1="22.8" x2="33.3" y2="39.6" stroke="#a16b3b" stroke-width="1" stroke-opacity="0.65" stroke-linecap="round"/><line x1="55.2" y1="39.8" x2="65.7" y2="53.2" stroke="#a9703f" stroke-width="0.6" stroke-opacity="0.58" stroke-linecap="round"/><line x1="25.6" y1="69.1" x2="43.4" y2="43.7" stroke="#a46d3c" stroke-width="0.7" stroke-opacity="0.54" stroke-linecap="round"/><line x1="64.1" y1="22.3" x2="67.5" y2="42.8" stroke="#bb8143" stroke-width="0.5" stroke-opacity="0.73" stroke-linecap="round"/><line x1="41.8" y1="54.6" x2="71.3" y2="59" stroke="#b77b40" stroke-width="0.7" stroke-opacity="0.88" stroke-linecap="round"/><line x1="10.6" y1="28.6" x2="28.2" y2="5.6" stroke="#b07944" stroke-width="0.7" stroke-opacity="0.77" stroke-linecap="round"/><line x1="32.4" y1="21" x2="48.8" y2="14.8" stroke="#492b0c" stroke-width="0.5" stroke-opacity="0.81" stroke-linecap="round"/><line x1="52.6" y1="1.7" x2="82.6" y2="20.6" stroke="#41250f" stroke-width="0.7" stroke-opacity="0.58" stroke-linecap="round"/><line x1="3.9" y1="61.3" x2="19.8" y2="51.9" stroke="#371c08" stroke-width="0.8" stroke-opacity="0.68" stroke-linecap="round"/><line x1="3.3" y1="18.1" x2="12.9" y2="-5.6" stroke="#bd8348" stroke-width="0.6" stroke-opacity="0.86" stroke-linecap="round"/><line x1="8" y1="18.7" x2="29.1" y2="15.6" stroke="#aa7340" stroke-width="0.7" stroke-opacity="0.71" stroke-linecap="round"/><line x1="60.6" y1="18.9" x2="75.9" y2="-9.2" stroke="#c68e53" stroke-width="0.9" stroke-opacity="0.89" stroke-linecap="round"/><line x1="37.1" y1="49.6" x2="56.1" y2="68.5" stroke="#462d13" stroke-width="0.6" stroke-opacity="0.65" stroke-linecap="round"/><line x1="52.1" y1="69.8" x2="74.2" y2="51.9" stroke="#cc9257" stroke-width="0.9" stroke-opacity="0.81" stroke-linecap="round"/><line x1="-3" y1="9.1" x2="9.4" y2="-1.5" stroke="#c48b50" stroke-width="0.8" stroke-opacity="0.61" stroke-linecap="round"/><line x1="1.1" y1="7.8" x2="19.5" y2="8.2" stroke="#c58a4d" stroke-width="1" stroke-opacity="0.56" stroke-linecap="round"/><line x1="24.1" y1="51.2" x2="34.3" y2="49.7" stroke="#b37d48" stroke-width="0.7" stroke-opacity="0.54" stroke-linecap="round"/><line x1="63" y1="53.7" x2="73.5" y2="51.8" stroke="#ce935a" stroke-width="0.9" stroke-opacity="0.52" stroke-linecap="round"/><line x1="-3.2" y1="42" x2="18.5" y2="55" stroke="#5c3919" stroke-width="0.8" stroke-opacity="0.83" stroke-linecap="round"/><line x1="42.5" y1="10.3" x2="49.8" y2="-4.3" stroke="#301407" stroke-width="0.9" stroke-opacity="0.60" stroke-linecap="round"/><line x1="48.1" y1="19.7" x2="51.2" y2="54.1" stroke="#a46c38" stroke-width="0.5" stroke-opacity="0.78" stroke-linecap="round"/><line x1="0.8" y1="52.6" x2="13.9" y2="53.9" stroke="#b98145" stroke-width="0.5" stroke-opacity="0.64" stroke-linecap="round"/><line x1="46.8" y1="37.2" x2="59.1" y2="31.6" stroke="#472809" stroke-width="0.7" stroke-opacity="0.71" stroke-linecap="round"/><line x1="-4" y1="62.5" x2="7.4" y2="60.8" stroke="#8e5830" stroke-width="1" stroke-opacity="0.71" stroke-linecap="round"/><line x1="6.2" y1="20.5" x2="22.2" y2="21.4" stroke="#c58c4f" stroke-width="0.8" stroke-opacity="0.73" stroke-linecap="round"/><line x1="52.9" y1="17.6" x2="75.3" y2="39.5" stroke="#c58c53" stroke-width="0.6" stroke-opacity="0.54" stroke-linecap="round"/><line x1="-6.9" y1="62.3" x2="8.1" y2="49.4" stroke="#c0884c" stroke-width="1" stroke-opacity="0.84" stroke-linecap="round"/><line x1="50.6" y1="52.1" x2="63.5" y2="42.9" stroke="#a56d3d" stroke-width="0.7" stroke-opacity="0.72" stroke-linecap="round"/><line x1="6.8" y1="40.8" x2="29" y2="43.1" stroke="#331a08" stroke-width="0.8" stroke-opacity="0.72" stroke-linecap="round"/><line x1="-4.3" y1="63.4" x2="13" y2="46.5" stroke="#b77f43" stroke-width="0.8" stroke-opacity="0.72" stroke-linecap="round"/><line x1="50.8" y1="15.2" x2="61.1" y2="29.4" stroke="#c58c51" stroke-width="0.9" stroke-opacity="0.54" stroke-linecap="round"/><line x1="11.5" y1="39.4" x2="40.5" y2="50" stroke="#955f32" stroke-width="0.8" stroke-opacity="0.83" stroke-linecap="round"/><line x1="51.5" y1="13.5" x2="61.7" y2="-1.6" stroke="#cf965a" stroke-width="0.9" stroke-opacity="0.82" stroke-linecap="round"/><line x1="19.7" y1="57.9" x2="44.7" y2="54" stroke="#b07945" stroke-width="0.6" stroke-opacity="0.74" stroke-linecap="round"/><line x1="39.5" y1="21.7" x2="66.3" y2="32.5" stroke="#be8850" stroke-width="0.9" stroke-opacity="0.79" stroke-linecap="round"/><line x1="17.5" y1="16.7" x2="38.4" y2="7.7" stroke="#a7703b" stroke-width="0.8" stroke-opacity="0.74" stroke-linecap="round"/><line x1="-0.8" y1="70.1" x2="17.4" y2="44.6" stroke="#9c663b" stroke-width="0.8" stroke-opacity="0.68" stroke-linecap="round"/><line x1="59.2" y1="-3.9" x2="78.1" y2="18.3" stroke="#c0874d" stroke-width="0.8" stroke-opacity="0.65" stroke-linecap="round"/><line x1="38.1" y1="32.5" x2="63.8" y2="20.9" stroke="#aa7448" stroke-width="1" stroke-opacity="0.85" stroke-linecap="round"/><line x1="57.8" y1="29.5" x2="71.2" y2="26.6" stroke="#b47b44" stroke-width="0.7" stroke-opacity="0.81" stroke-linecap="round"/><line x1="63.4" y1="15" x2="75.7" y2="20.2" stroke="#b17a45" stroke-width="0.5" stroke-opacity="0.75" stroke-linecap="round"/><line x1="21.6" y1="28.2" x2="53.2" y2="30.9" stroke="#ba834d" stroke-width="0.6" stroke-opacity="0.64" stroke-linecap="round"/><line x1="-7.7" y1="12.4" x2="8.4" y2="27.8" stroke="#90592d" stroke-width="0.9" stroke-opacity="0.74" stroke-linecap="round"/><line x1="33.3" y1="46.1" x2="51.4" y2="73.1" stroke="#9c6535" stroke-width="0.8" stroke-opacity="0.69" stroke-linecap="round"/><line x1="4.1" y1="55.2" x2="25.8" y2="33.9" stroke="#421d05" stroke-width="1" stroke-opacity="0.80" stroke-linecap="round"/><line x1="24" y1="16.8" x2="51.5" y2="16.8" stroke="#b2783b" stroke-width="0.6" stroke-opacity="0.61" stroke-linecap="round"/><line x1="19.2" y1="34.3" x2="36.7" y2="31" stroke="#c0884f" stroke-width="0.9" stroke-opacity="0.86" stroke-linecap="round"/><line x1="47.4" y1="34.9" x2="79" y2="30.6" stroke="#c89053" stroke-width="0.6" stroke-opacity="0.56" stroke-linecap="round"/><line x1="50.6" y1="55" x2="58.7" y2="42.5" stroke="#b87c41" stroke-width="1" stroke-opacity="0.66" stroke-linecap="round"/><line x1="-3.6" y1="21.5" x2="19.9" y2="15.3" stroke="#b07946" stroke-width="1" stroke-opacity="0.87" stroke-linecap="round"/><line x1="21.9" y1="28.7" x2="57.6" y2="31.3" stroke="#b37c47" stroke-width="0.9" stroke-opacity="0.64" stroke-linecap="round"/><line x1="2.5" y1="8.6" x2="-1.2" y2="35.1" stroke="#a36b3c" stroke-width="0.7" stroke-opacity="0.87" stroke-linecap="round"/><line x1="43.1" y1="32.3" x2="65.1" y2="31.7" stroke="#ac7541" stroke-width="0.5" stroke-opacity="0.75" stroke-linecap="round"/><line x1="49.3" y1="12" x2="68.2" y2="30.2" stroke="#49290c" stroke-width="0.9" stroke-opacity="0.82" stroke-linecap="round"/><line x1="-10.4" y1="13.1" x2="10.8" y2="11.9" stroke="#bb8246" stroke-width="0.9" stroke-opacity="0.66" stroke-linecap="round"/><line x1="15.4" y1="57.2" x2="23.9" y2="42.8" stroke="#bf864b" stroke-width="1" stroke-opacity="0.85" stroke-linecap="round"/><line x1="44" y1="30.7" x2="60.8" y2="24.3" stroke="#925e3a" stroke-width="0.6" stroke-opacity="0.70" stroke-linecap="round"/><line x1="8.6" y1="62.3" x2="22.9" y2="60.9" stroke="#bb854e" stroke-width="0.7" stroke-opacity="0.83" stroke-linecap="round"/><line x1="68.1" y1="27.6" x2="72" y2="17.2" stroke="#a7703d" stroke-width="0.6" stroke-opacity="0.70" stroke-linecap="round"/><line x1="41.3" y1="34.6" x2="70.2" y2="22.9" stroke="#47250b" stroke-width="0.7" stroke-opacity="0.72" stroke-linecap="round"/><line x1="7.6" y1="58.4" x2="24.6" y2="43.4" stroke="#945e30" stroke-width="1" stroke-opacity="0.70" stroke-linecap="round"/><line x1="55.2" y1="38.4" x2="65.5" y2="43.4" stroke="#311807" stroke-width="0.9" stroke-opacity="0.77" stroke-linecap="round"/><line x1="22.6" y1="19.6" x2="48.2" y2="5.9" stroke="#955e36" stroke-width="0.8" stroke-opacity="0.80" stroke-linecap="round"/><line x1="33.5" y1="62.8" x2="59.7" y2="41.8" stroke="#cb9358" stroke-width="0.7" stroke-opacity="0.69" stroke-linecap="round"/><line x1="4.8" y1="9.9" x2="15.6" y2="26.1" stroke="#c88f52" stroke-width="0.9" stroke-opacity="0.63" stroke-linecap="round"/><line x1="20.6" y1="55.1" x2="42.2" y2="45.2" stroke="#ad7643" stroke-width="0.7" stroke-opacity="0.84" stroke-linecap="round"/><line x1="34.9" y1="1" x2="57.8" y2="3.9" stroke="#ab7345" stroke-width="0.9" stroke-opacity="0.87" stroke-linecap="round"/><line x1="-4.4" y1="4.3" x2="6.7" y2="-1.3" stroke="#a96d32" stroke-width="0.7" stroke-opacity="0.56" stroke-linecap="round"/><line x1="47" y1="4.4" x2="55.2" y2="15.2" stroke="#885a38" stroke-width="0.8" stroke-opacity="0.80" stroke-linecap="round"/><line x1="18.7" y1="60.4" x2="30.6" y2="52.7" stroke="#b47b40" stroke-width="0.7" stroke-opacity="0.81" stroke-linecap="round"/><line x1="42.9" y1="37.7" x2="59.4" y2="52.7" stroke="#b67b40" stroke-width="0.6" stroke-opacity="0.72" stroke-linecap="round"/><line x1="32.9" y1="43.5" x2="56.1" y2="32.8" stroke="#b9814a" stroke-width="0.7" stroke-opacity="0.77" stroke-linecap="round"/><line x1="9.6" y1="15.2" x2="20.2" y2="20.1" stroke="#c99154" stroke-width="0.9" stroke-opacity="0.89" stroke-linecap="round"/><line x1="26.1" y1="0.4" x2="41" y2="6.9" stroke="#5d3a18" stroke-width="0.7" stroke-opacity="0.65" stroke-linecap="round"/><line x1="13.3" y1="30" x2="42.5" y2="41.7" stroke="#b0773f" stroke-width="0.6" stroke-opacity="0.64" stroke-linecap="round"/><line x1="34.5" y1="7" x2="29.9" y2="29.8" stroke="#bc8651" stroke-width="0.9" stroke-opacity="0.86" stroke-linecap="round"/><line x1="3.8" y1="45.8" x2="22.5" y2="70.3" stroke="#b07a45" stroke-width="0.7" stroke-opacity="0.53" stroke-linecap="round"/><line x1="-1.6" y1="60.3" x2="12.2" y2="69.6" stroke="#945f35" stroke-width="0.5" stroke-opacity="0.83" stroke-linecap="round"/><line x1="19.6" y1="52" x2="35.5" y2="49.8" stroke="#9e6738" stroke-width="0.7" stroke-opacity="0.58" stroke-linecap="round"/><line x1="10.5" y1="17.6" x2="35.7" y2="2.1" stroke="#c2884a" stroke-width="0.7" stroke-opacity="0.58" stroke-linecap="round"/><line x1="48.2" y1="10.9" x2="60.8" y2="4.3" stroke="#cd9457" stroke-width="0.9" stroke-opacity="0.60" stroke-linecap="round"/><line x1="8.5" y1="34.8" x2="14.3" y2="24.7" stroke="#c0874d" stroke-width="0.6" stroke-opacity="0.74" stroke-linecap="round"/><line x1="55.5" y1="22.3" x2="78.7" y2="34.9" stroke="#3e240e" stroke-width="1" stroke-opacity="0.51" stroke-linecap="round"/><line x1="-4.7" y1="13.6" x2="14.5" y2="1.2" stroke="#b3793e" stroke-width="0.8" stroke-opacity="0.75" stroke-linecap="round"/><line x1="4.1" y1="34.8" x2="25.2" y2="28.7" stroke="#ad743b" stroke-width="0.7" stroke-opacity="0.58" stroke-linecap="round"/><line x1="38.1" y1="14.2" x2="46.5" y2="-5.3" stroke="#ae7440" stroke-width="0.6" stroke-opacity="0.65" stroke-linecap="round"/><line x1="23.3" y1="48.5" x2="46.1" y2="50" stroke="#3d1d07" stroke-width="0.9" stroke-opacity="0.61" stroke-linecap="round"/><line x1="-1.5" y1="36.4" x2="27.7" y2="50.1" stroke="#b77f49" stroke-width="0.7" stroke-opacity="0.62" stroke-linecap="round"/><line x1="55.5" y1="64.2" x2="69.8" y2="62.9" stroke="#cc9358" stroke-width="0.6" stroke-opacity="0.58" stroke-linecap="round"/><line x1="21.1" y1="37.8" x2="30" y2="49.2" stroke="#976133" stroke-width="0.5" stroke-opacity="0.87" stroke-linecap="round"/><line x1="25.8" y1="11.9" x2="32" y2="20.4" stroke="#a06934" stroke-width="0.9" stroke-opacity="0.51" stroke-linecap="round"/><line x1="46.6" y1="7.7" x2="52.3" y2="20.4" stroke="#7a4e31" stroke-width="0.6" stroke-opacity="0.69" stroke-linecap="round"/><line x1="7.1" y1="-1.9" x2="26.2" y2="24.3" stroke="#b07435" stroke-width="0.9" stroke-opacity="0.62" stroke-linecap="round"/><line x1="28" y1="40.5" x2="44.5" y2="28.4" stroke="#ad7237" stroke-width="0.6" stroke-opacity="0.54" stroke-linecap="round"/><line x1="46" y1="3.2" x2="55.5" y2="27.5" stroke="#75492e" stroke-width="0.7" stroke-opacity="0.62" stroke-linecap="round"/><line x1="5.5" y1="47.5" x2="19.2" y2="24.8" stroke="#bf854a" stroke-width="0.9" stroke-opacity="0.70" stroke-linecap="round"/><line x1="57.9" y1="5.4" x2="62.2" y2="16" stroke="#593513" stroke-width="0.7" stroke-opacity="0.70" stroke-linecap="round"/><line x1="56.1" y1="23.5" x2="72" y2="9.7" stroke="#b17b46" stroke-width="0.8" stroke-opacity="0.67" stroke-linecap="round"/><line x1="20.9" y1="52.6" x2="48.4" y2="74" stroke="#9a673a" stroke-width="0.9" stroke-opacity="0.57" stroke-linecap="round"/><line x1="31" y1="11.7" x2="57.5" y2="-6.9" stroke="#8c532f" stroke-width="0.9" stroke-opacity="0.70" stroke-linecap="round"/><line x1="-2.1" y1="10.5" x2="13.3" y2="7.2" stroke="#361e08" stroke-width="0.6" stroke-opacity="0.89" stroke-linecap="round"/><line x1="31.9" y1="19.5" x2="54" y2="39.1" stroke="#a56e3b" stroke-width="1" stroke-opacity="0.80" stroke-linecap="round"/><line x1="15.9" y1="52.5" x2="42.8" y2="56.3" stroke="#a56e3d" stroke-width="0.6" stroke-opacity="0.72" stroke-linecap="round"/><line x1="28.1" y1="17" x2="45.6" y2="30" stroke="#b87f42" stroke-width="0.7" stroke-opacity="0.60" stroke-linecap="round"/><line x1="-0.9" y1="29.6" x2="30.7" y2="25.2" stroke="#ad743b" stroke-width="0.9" stroke-opacity="0.77" stroke-linecap="round"/><line x1="54.4" y1="1.5" x2="68" y2="12.1" stroke="#d0975b" stroke-width="1" stroke-opacity="0.62" stroke-linecap="round"/><line x1="-3.7" y1="47.6" x2="20.3" y2="44.4" stroke="#c5894c" stroke-width="0.8" stroke-opacity="0.74" stroke-linecap="round"/><line x1="22.8" y1="0.3" x2="37" y2="11.5" stroke="#c99053" stroke-width="0.7" stroke-opacity="0.89" stroke-linecap="round"/><line x1="1.3" y1="27.6" x2="7.4" y2="44.1" stroke="#c78d4f" stroke-width="0.9" stroke-opacity="0.66" stroke-linecap="round"/><line x1="22.4" y1="38.1" x2="50.7" y2="33.3" stroke="#c38a4e" stroke-width="1" stroke-opacity="0.75" stroke-linecap="round"/><line x1="13.4" y1="64.1" x2="25" y2="59.3" stroke="#37210e" stroke-width="0.9" stroke-opacity="0.77" stroke-linecap="round"/><line x1="27.5" y1="57.3" x2="41.9" y2="26.7" stroke="#9e6839" stroke-width="0.8" stroke-opacity="0.69" stroke-linecap="round"/><line x1="27.2" y1="-8.2" x2="35.6" y2="12" stroke="#c18749" stroke-width="0.9" stroke-opacity="0.84" stroke-linecap="round"/><line x1="-8.1" y1="36.6" x2="13.9" y2="40.9" stroke="#c88e50" stroke-width="0.6" stroke-opacity="0.78" stroke-linecap="round"/><line x1="-2.5" y1="53.5" x2="27.8" y2="66.9" stroke="#ad7743" stroke-width="0.6" stroke-opacity="0.81" stroke-linecap="round"/><line x1="52" y1="31.3" x2="62" y2="27.1" stroke="#a8713e" stroke-width="0.6" stroke-opacity="0.80" stroke-linecap="round"/><line x1="29.4" y1="59.3" x2="48.5" y2="50.7" stroke="#c2894e" stroke-width="0.9" stroke-opacity="0.89" stroke-linecap="round"/><line x1="17.5" y1="23.6" x2="28.8" y2="37.2" stroke="#ae7945" stroke-width="0.7" stroke-opacity="0.53" stroke-linecap="round"/><line x1="33.7" y1="54.8" x2="58.4" y2="62.3" stroke="#452d13" stroke-width="0.9" stroke-opacity="0.71" stroke-linecap="round"/><line x1="57.6" y1="6.2" x2="71.6" y2="1.1" stroke="#c58c52" stroke-width="0.6" stroke-opacity="0.59" stroke-linecap="round"/><line x1="48.1" y1="13.9" x2="73.3" y2="8.8" stroke="#c78f53" stroke-width="0.8" stroke-opacity="0.63" stroke-linecap="round"/><line x1="5.4" y1="34.9" x2="23.4" y2="12.8" stroke="#b67c3d" stroke-width="0.6" stroke-opacity="0.65" stroke-linecap="round"/><line x1="-2.6" y1="56.8" x2="10.5" y2="62" stroke="#2b1608" stroke-width="0.7" stroke-opacity="0.50" stroke-linecap="round"/><line x1="60" y1="-11.7" x2="76.4" y2="17" stroke="#c58c52" stroke-width="0.8" stroke-opacity="0.85" stroke-linecap="round"/><line x1="57.6" y1="-1.7" x2="81.1" y2="18.7" stroke="#af7844" stroke-width="0.7" stroke-opacity="0.83" stroke-linecap="round"/><line x1="55.2" y1="55.7" x2="84.1" y2="51.3" stroke="#cc9058" stroke-width="0.5" stroke-opacity="0.73" stroke-linecap="round"/><line x1="-10.8" y1="3.7" x2="21.4" y2="16.7" stroke="#b1763b" stroke-width="0.7" stroke-opacity="0.85" stroke-linecap="round"/><line x1="0.9" y1="70.3" x2="18.4" y2="44.2" stroke="#b17b46" stroke-width="0.9" stroke-opacity="0.61" stroke-linecap="round"/><line x1="49.4" y1="4.9" x2="54.6" y2="16.7" stroke="#9c6c43" stroke-width="0.7" stroke-opacity="0.82" stroke-linecap="round"/><line x1="42.7" y1="67.7" x2="52.2" y2="54.3" stroke="#4b3015" stroke-width="0.5" stroke-opacity="0.73" stroke-linecap="round"/><line x1="45" y1="39.1" x2="60.4" y2="20.5" stroke="#98643d" stroke-width="0.7" stroke-opacity="0.85" stroke-linecap="round"/><line x1="27.4" y1="52.4" x2="58.9" y2="46.4" stroke="#bf864a" stroke-width="0.8" stroke-opacity="0.90" stroke-linecap="round"/><line x1="41.4" y1="53.2" x2="63.8" y2="25.1" stroke="#a66d3a" stroke-width="0.9" stroke-opacity="0.53" stroke-linecap="round"/><line x1="33.8" y1="68.1" x2="52.4" y2="60.3" stroke="#b37d48" stroke-width="0.9" stroke-opacity="0.73" stroke-linecap="round"/><line x1="-1.6" y1="39.8" x2="27.4" y2="34.4" stroke="#c48a4f" stroke-width="1" stroke-opacity="0.51" stroke-linecap="round"/><line x1="31.1" y1="42" x2="38.2" y2="76.6" stroke="#996639" stroke-width="0.8" stroke-opacity="0.82" stroke-linecap="round"/><line x1="50.9" y1="44.2" x2="59.7" y2="48.8" stroke="#bb834e" stroke-width="0.8" stroke-opacity="0.56" stroke-linecap="round"/><line x1="23.2" y1="52.7" x2="36.6" y2="51.1" stroke="#b57e49" stroke-width="0.5" stroke-opacity="0.69" stroke-linecap="round"/><line x1="-7" y1="43.6" x2="15.8" y2="29.5" stroke="#cc9255" stroke-width="0.6" stroke-opacity="0.58" stroke-linecap="round"/><line x1="6.3" y1="23.7" x2="21.3" y2="6.7" stroke="#b07435" stroke-width="0.7" stroke-opacity="0.63" stroke-linecap="round"/><line x1="58.5" y1="35.5" x2="68.1" y2="24.2" stroke="#b07641" stroke-width="0.5" stroke-opacity="0.77" stroke-linecap="round"/><line x1="25.2" y1="49.4" x2="43.1" y2="75.7" stroke="#311807" stroke-width="0.5" stroke-opacity="0.53" stroke-linecap="round"/><line x1="50.6" y1="28.8" x2="55.5" y2="17.6" stroke="#b1773d" stroke-width="0.9" stroke-opacity="0.72" stroke-linecap="round"/><line x1="58.1" y1="17.4" x2="73.4" y2="11.8" stroke="#b47d48" stroke-width="0.6" stroke-opacity="0.60" stroke-linecap="round"/><line x1="-1.8" y1="51.8" x2="28" y2="37.7" stroke="#be864f" stroke-width="1" stroke-opacity="0.83" stroke-linecap="round"/><line x1="9.1" y1="13.1" x2="23.7" y2="-4.6" stroke="#c4884c" stroke-width="0.7" stroke-opacity="0.59" stroke-linecap="round"/><line x1="8.6" y1="41.9" x2="19.2" y2="50.2" stroke="#b27944" stroke-width="0.8" stroke-opacity="0.74" stroke-linecap="round"/><line x1="48" y1="12.3" x2="59" y2="18.3" stroke="#503011" stroke-width="0.9" stroke-opacity="0.83" stroke-linecap="round"/><line x1="10.6" y1="32.8" x2="34.4" y2="39.4" stroke="#a87140" stroke-width="0.7" stroke-opacity="0.57" stroke-linecap="round"/><line x1="56.7" y1="34.2" x2="59" y2="50.6" stroke="#a06738" stroke-width="0.9" stroke-opacity="0.80" stroke-linecap="round"/><line x1="18.2" y1="52.5" x2="27.8" y2="59.2" stroke="#432910" stroke-width="1" stroke-opacity="0.58" stroke-linecap="round"/><line x1="45.8" y1="56.5" x2="66.8" y2="45.9" stroke="#b67a3e" stroke-width="0.6" stroke-opacity="0.55" stroke-linecap="round"/><line x1="22.6" y1="23.3" x2="48.6" y2="5.8" stroke="#351405" stroke-width="0.7" stroke-opacity="0.53" stroke-linecap="round"/><line x1="3.1" y1="28.1" x2="18.9" y2="3.8" stroke="#c48b4d" stroke-width="0.8" stroke-opacity="0.86" stroke-linecap="round"/><line x1="64.1" y1="62.3" x2="73.5" y2="44.8" stroke="#d1985e" stroke-width="0.7" stroke-opacity="0.72" stroke-linecap="round"/><line x1="21.7" y1="13.1" x2="39.3" y2="-10.4" stroke="#ca9153" stroke-width="0.5" stroke-opacity="0.55" stroke-linecap="round"/><line x1="-3.9" y1="49.6" x2="25" y2="42.2" stroke="#ae7441" stroke-width="0.5" stroke-opacity="0.85" stroke-linecap="round"/><line x1="27.8" y1="53" x2="38.7" y2="45" stroke="#a66f3e" stroke-width="1" stroke-opacity="0.65" stroke-linecap="round"/><line x1="-4.2" y1="5" x2="4.5" y2="18.7" stroke="#b2773c" stroke-width="0.7" stroke-opacity="0.56" stroke-linecap="round"/><line x1="23.9" y1="43" x2="36.2" y2="45.4" stroke="#b57e4a" stroke-width="0.8" stroke-opacity="0.66" stroke-linecap="round"/><line x1="-9.7" y1="20.3" x2="11.1" y2="48.5" stroke="#462b11" stroke-width="0.6" stroke-opacity="0.62" stroke-linecap="round"/><line x1="42" y1="70.2" x2="52.8" y2="59.3" stroke="#c18b4f" stroke-width="0.9" stroke-opacity="0.87" stroke-linecap="round"/><line x1="43.3" y1="46.8" x2="71.6" y2="51" stroke="#4d2c0d" stroke-width="1" stroke-opacity="0.74" stroke-linecap="round"/><line x1="1.3" y1="13.5" x2="5.3" y2="1.2" stroke="#b4793e" stroke-width="0.6" stroke-opacity="0.52" stroke-linecap="round"/><line x1="31" y1="31.2" x2="52" y2="34.7" stroke="#c68d52" stroke-width="0.9" stroke-opacity="0.76" stroke-linecap="round"/><line x1="12.7" y1="18.5" x2="31.8" y2="1" stroke="#ba7f41" stroke-width="0.9" stroke-opacity="0.52" stroke-linecap="round"/><line x1="30.4" y1="9.2" x2="45.7" y2="33.2" stroke="#b57b3e" stroke-width="0.9" stroke-opacity="0.87" stroke-linecap="round"/><line x1="51.1" y1="-0.3" x2="63.1" y2="5.8" stroke="#d29a5d" stroke-width="0.7" stroke-opacity="0.64" stroke-linecap="round"/><line x1="29.5" y1="16.2" x2="52.8" y2="11.7" stroke="#8e5631" stroke-width="0.7" stroke-opacity="0.90" stroke-linecap="round"/><line x1="28.3" y1="18" x2="46.4" y2="28.5" stroke="#b2783b" stroke-width="0.5" stroke-opacity="0.77" stroke-linecap="round"/><line x1="59.9" y1="19" x2="70.6" y2="38.6" stroke="#b57c45" stroke-width="0.6" stroke-opacity="0.75" stroke-linecap="round"/><line x1="-4" y1="42.6" x2="10.3" y2="21.3" stroke="#905934" stroke-width="0.9" stroke-opacity="0.62" stroke-linecap="round"/><line x1="38.2" y1="33.7" x2="50.4" y2="27.1" stroke="#af7a4c" stroke-width="0.6" stroke-opacity="0.75" stroke-linecap="round"/><line x1="26.4" y1="69.1" x2="45.4" y2="45.7" stroke="#a97340" stroke-width="0.7" stroke-opacity="0.76" stroke-linecap="round"/><line x1="40" y1="28.8" x2="72.9" y2="31.8" stroke="#a56e3b" stroke-width="0.6" stroke-opacity="0.70" stroke-linecap="round"/><line x1="46.1" y1="46.4" x2="54.8" y2="71.3" stroke="#3f2912" stroke-width="0.5" stroke-opacity="0.56" stroke-linecap="round"/><line x1="49.9" y1="24.6" x2="77.2" y2="13.9" stroke="#3e210b" stroke-width="0.6" stroke-opacity="0.76" stroke-linecap="round"/><line x1="50.4" y1="63.9" x2="70.2" y2="61.8" stroke="#c88f53" stroke-width="0.7" stroke-opacity="0.52" stroke-linecap="round"/><line x1="46.4" y1="57.6" x2="64.1" y2="59.9" stroke="#4c2b0d" stroke-width="0.7" stroke-opacity="0.77" stroke-linecap="round"/><line x1="43.4" y1="42.1" x2="54.8" y2="21.6" stroke="#865232" stroke-width="0.7" stroke-opacity="0.86" stroke-linecap="round"/><line x1="42.6" y1="37" x2="65.8" y2="34.9" stroke="#bb8449" stroke-width="0.7" stroke-opacity="0.53" stroke-linecap="round"/><line x1="56.3" y1="28.7" x2="80.7" y2="26.7" stroke="#b37a44" stroke-width="0.7" stroke-opacity="0.73" stroke-linecap="round"/><line x1="25.2" y1="43" x2="45.2" y2="41.6" stroke="#533215" stroke-width="0.5" stroke-opacity="0.76" stroke-linecap="round"/><line x1="21.5" y1="10.1" x2="53.8" y2="-3.5" stroke="#c08750" stroke-width="0.7" stroke-opacity="0.50" stroke-linecap="round"/><line x1="57.8" y1="6.3" x2="64.6" y2="14.1" stroke="#543212" stroke-width="0.8" stroke-opacity="0.63" stroke-linecap="round"/><line x1="32.8" y1="7.7" x2="36.1" y2="39.1" stroke="#c28c55" stroke-width="0.8" stroke-opacity="0.77" stroke-linecap="round"/><line x1="13.8" y1="53.8" x2="26.6" y2="59.9" stroke="#b67d42" stroke-width="0.7" stroke-opacity="0.79" stroke-linecap="round"/><line x1="36.6" y1="40.2" x2="68.5" y2="35.6" stroke="#c28a52" stroke-width="0.6" stroke-opacity="0.51" stroke-linecap="round"/><line x1="64.5" y1="11.5" x2="63.6" y2="22" stroke="#a9723f" stroke-width="0.5" stroke-opacity="0.51" stroke-linecap="round"/><line x1="12.7" y1="-0.7" x2="25.3" y2="15.2" stroke="#ba8041" stroke-width="0.9" stroke-opacity="0.75" stroke-linecap="round"/><line x1="24.6" y1="0.1" x2="37.1" y2="17.5" stroke="#3b1f07" stroke-width="0.6" stroke-opacity="0.66" stroke-linecap="round"/><line x1="38.6" y1="51" x2="46.4" y2="65.3" stroke="#aa7441" stroke-width="0.9" stroke-opacity="0.74" stroke-linecap="round"/><line x1="5.4" y1="62.4" x2="30" y2="40.1" stroke="#c1894d" stroke-width="0.9" stroke-opacity="0.84" stroke-linecap="round"/><line x1="15.1" y1="60" x2="30.1" y2="41.3" stroke="#c99156" stroke-width="0.8" stroke-opacity="0.57" stroke-linecap="round"/><line x1="48.8" y1="59.1" x2="72.9" y2="70.5" stroke="#c3894d" stroke-width="0.9" stroke-opacity="0.74" stroke-linecap="round"/><line x1="65.4" y1="50.3" x2="74.1" y2="61.4" stroke="#cd9159" stroke-width="1" stroke-opacity="0.54" stroke-linecap="round"/><line x1="47.3" y1="38.9" x2="50.4" y2="59.1" stroke="#c1874d" stroke-width="0.9" stroke-opacity="0.52" stroke-linecap="round"/><line x1="58.1" y1="9.8" x2="69.9" y2="18.3" stroke="#aa7340" stroke-width="1" stroke-opacity="0.57" stroke-linecap="round"/><line x1="21.6" y1="-0.6" x2="21.6" y2="16.5" stroke="#53310e" stroke-width="0.6" stroke-opacity="0.83" stroke-linecap="round"/><line x1="30.8" y1="46.1" x2="55.4" y2="61.2" stroke="#bb8146" stroke-width="0.7" stroke-opacity="0.77" stroke-linecap="round"/><line x1="35.5" y1="10.8" x2="58.8" y2="20.1" stroke="#9c6c43" stroke-width="0.7" stroke-opacity="0.82" stroke-linecap="round"/><line x1="15" y1="-7.7" x2="31.5" y2="13.7" stroke="#b97e3f" stroke-width="0.5" stroke-opacity="0.86" stroke-linecap="round"/><line x1="12.2" y1="24.5" x2="27.3" y2="23.7" stroke="#3d230e" stroke-width="0.9" stroke-opacity="0.67" stroke-linecap="round"/><line x1="51.1" y1="4.2" x2="78.5" y2="-3.5" stroke="#c58c52" stroke-width="0.6" stroke-opacity="0.52" stroke-linecap="round"/><line x1="52.2" y1="20.7" x2="76.7" y2="29.6" stroke="#be854d" stroke-width="0.8" stroke-opacity="0.77" stroke-linecap="round"/><line x1="35.7" y1="26.1" x2="48" y2="56.4" stroke="#5b3616" stroke-width="0.8" stroke-opacity="0.78" stroke-linecap="round"/><line x1="24.4" y1="14.3" x2="41.1" y2="18.8" stroke="#b8824e" stroke-width="0.9" stroke-opacity="0.72" stroke-linecap="round"/><line x1="-0.2" y1="30.7" x2="17.9" y2="6" stroke="#b97f41" stroke-width="0.9" stroke-opacity="0.80" stroke-linecap="round"/><line x1="9.7" y1="9.2" x2="26.3" y2="10" stroke="#b37839" stroke-width="0.6" stroke-opacity="0.64" stroke-linecap="round"/><line x1="32.3" y1="13.3" x2="50" y2="41.2" stroke="#3c1d05" stroke-width="0.8" stroke-opacity="0.69" stroke-linecap="round"/><line x1="4" y1="23" x2="25.8" y2="14" stroke="#b67c3e" stroke-width="0.7" stroke-opacity="0.51" stroke-linecap="round"/><line x1="35.3" y1="-5.5" x2="36.8" y2="24.8" stroke="#371305" stroke-width="0.8" stroke-opacity="0.81" stroke-linecap="round"/><line x1="3" y1="49.6" x2="25.2" y2="52.5" stroke="#a7703e" stroke-width="0.7" stroke-opacity="0.89" stroke-linecap="round"/><line x1="-11" y1="21.9" x2="20.8" y2="23.2" stroke="#331907" stroke-width="0.7" stroke-opacity="0.78" stroke-linecap="round"/><line x1="40.3" y1="54.3" x2="64.9" y2="45" stroke="#c48b51" stroke-width="0.7" stroke-opacity="0.84" stroke-linecap="round"/><line x1="23" y1="4" x2="12.3" y2="-1" stroke="#e8c890" stroke-width="0.8" stroke-opacity="0.5" stroke-linecap="round"/><line x1="23" y1="4" x2="16.5" y2="5.7" stroke="#e8c890" stroke-width="0.9" stroke-opacity="0.5" stroke-linecap="round"/><line x1="23" y1="4" x2="20.9" y2="-5.7" stroke="#e8c890" stroke-width="0.9" stroke-opacity="0.5" stroke-linecap="round"/><line x1="23" y1="4" x2="26.1" y2="-6.9" stroke="#e8c890" stroke-width="0.9" stroke-opacity="0.5" stroke-linecap="round"/><line x1="23" y1="4" x2="20.8" y2="8.8" stroke="#e8c890" stroke-width="0.7" stroke-opacity="0.5" stroke-linecap="round"/><line x1="23" y1="4" x2="29.7" y2="9.5" stroke="#e8c890" stroke-width="1.1" stroke-opacity="0.5" stroke-linecap="round"/><line x1="23" y1="4" x2="30.4" y2="-1.2" stroke="#e8c890" stroke-width="0.8" stroke-opacity="0.5" stroke-linecap="round"/><line x1="5" y1="11" x2="14" y2="4.1" stroke="#e8c890" stroke-width="0.8" stroke-opacity="0.5" stroke-linecap="round"/><line x1="5" y1="11" x2="-1.5" y2="10.9" stroke="#e8c890" stroke-width="0.9" stroke-opacity="0.5" stroke-linecap="round"/><line x1="5" y1="11" x2="13.5" y2="1.9" stroke="#e8c890" stroke-width="0.8" stroke-opacity="0.5" stroke-linecap="round"/><line x1="5" y1="11" x2="13.7" y2="1.7" stroke="#e8c890" stroke-width="1.2" stroke-opacity="0.5" stroke-linecap="round"/><line x1="5" y1="11" x2="-5.1" y2="7.3" stroke="#e8c890" stroke-width="1.2" stroke-opacity="0.5" stroke-linecap="round"/><line x1="5" y1="11" x2="10.7" y2="-0.6" stroke="#e8c890" stroke-width="1" stroke-opacity="0.5" stroke-linecap="round"/><line x1="5" y1="11" x2="1.1" y2="19" stroke="#e8c890" stroke-width="0.7" stroke-opacity="0.5" stroke-linecap="round"/><line x1="15" y1="18" x2="23.1" y2="16.3" stroke="#e8c890" stroke-width="0.8" stroke-opacity="0.5" stroke-linecap="round"/><line x1="15" y1="18" x2="26.6" y2="17.6" stroke="#e8c890" stroke-width="0.6" stroke-opacity="0.5" stroke-linecap="round"/><line x1="15" y1="18" x2="12.1" y2="27.7" stroke="#e8c890" stroke-width="0.8" stroke-opacity="0.5" stroke-linecap="round"/><line x1="15" y1="18" x2="17.2" y2="24" stroke="#e8c890" stroke-width="0.7" stroke-opacity="0.5" stroke-linecap="round"/><line x1="15" y1="18" x2="12.8" y2="8.6" stroke="#e8c890" stroke-width="1.1" stroke-opacity="0.5" stroke-linecap="round"/><line x1="15" y1="18" x2="20.3" y2="14.9" stroke="#e8c890" stroke-width="0.8" stroke-opacity="0.5" stroke-linecap="round"/><line x1="15" y1="18" x2="25.8" y2="16" stroke="#e8c890" stroke-width="0.9" stroke-opacity="0.5" stroke-linecap="round"/><line x1="33" y1="31" x2="26.9" y2="24.9" stroke="#e8c890" stroke-width="0.9" stroke-opacity="0.5" stroke-linecap="round"/><line x1="33" y1="31" x2="29.5" y2="35.9" stroke="#e8c890" stroke-width="1.1" stroke-opacity="0.5" stroke-linecap="round"/><line x1="33" y1="31" x2="42" y2="24" stroke="#e8c890" stroke-width="1" stroke-opacity="0.5" stroke-linecap="round"/><line x1="33" y1="31" x2="33.7" y2="25" stroke="#e8c890" stroke-width="0.9" stroke-opacity="0.5" stroke-linecap="round"/><line x1="33" y1="31" x2="27.5" y2="38" stroke="#e8c890" stroke-width="1" stroke-opacity="0.5" stroke-linecap="round"/><line x1="33" y1="31" x2="39.6" y2="28.3" stroke="#e8c890" stroke-width="1" stroke-opacity="0.5" stroke-linecap="round"/><line x1="33" y1="31" x2="31.9" y2="38.4" stroke="#e8c890" stroke-width="1" stroke-opacity="0.5" stroke-linecap="round"/><line x1="4" y1="35" x2="4.4" y2="29.8" stroke="#e8c890" stroke-width="1.1" stroke-opacity="0.5" stroke-linecap="round"/><line x1="4" y1="35" x2="3.3" y2="26" stroke="#e8c890" stroke-width="0.9" stroke-opacity="0.5" stroke-linecap="round"/><line x1="4" y1="35" x2="6.6" y2="42.9" stroke="#e8c890" stroke-width="1" stroke-opacity="0.5" stroke-linecap="round"/><line x1="4" y1="35" x2="-0.1" y2="38.9" stroke="#e8c890" stroke-width="0.8" stroke-opacity="0.5" stroke-linecap="round"/><line x1="4" y1="35" x2="-1.2" y2="41.1" stroke="#e8c890" stroke-width="0.7" stroke-opacity="0.5" stroke-linecap="round"/><line x1="4" y1="35" x2="-1" y2="26.5" stroke="#e8c890" stroke-width="1.1" stroke-opacity="0.5" stroke-linecap="round"/><line x1="4" y1="35" x2="9.6" y2="34.9" stroke="#e8c890" stroke-width="0.7" stroke-opacity="0.5" stroke-linecap="round"/><line x1="6" y1="46" x2="16.3" y2="51.4" stroke="#e8c890" stroke-width="0.9" stroke-opacity="0.5" stroke-linecap="round"/><line x1="6" y1="46" x2="-1.1" y2="47.2" stroke="#e8c890" stroke-width="1.1" stroke-opacity="0.5" stroke-linecap="round"/><line x1="6" y1="46" x2="-0.2" y2="38.8" stroke="#e8c890" stroke-width="0.6" stroke-opacity="0.5" stroke-linecap="round"/><line x1="6" y1="46" x2="12.5" y2="48.9" stroke="#e8c890" stroke-width="1" stroke-opacity="0.5" stroke-linecap="round"/><line x1="6" y1="46" x2="0.5" y2="54.2" stroke="#e8c890" stroke-width="1.1" stroke-opacity="0.5" stroke-linecap="round"/><line x1="6" y1="46" x2="2.1" y2="55.5" stroke="#e8c890" stroke-width="1" stroke-opacity="0.5" stroke-linecap="round"/><line x1="6" y1="46" x2="1.8" y2="41.4" stroke="#e8c890" stroke-width="0.8" stroke-opacity="0.5" stroke-linecap="round"/><line x1="25" y1="53" x2="17.2" y2="59.3" stroke="#e8c890" stroke-width="0.6" stroke-opacity="0.5" stroke-linecap="round"/><line x1="25" y1="53" x2="24.4" y2="43.1" stroke="#e8c890" stroke-width="0.7" stroke-opacity="0.5" stroke-linecap="round"/><line x1="25" y1="53" x2="27.8" y2="45.2" stroke="#e8c890" stroke-width="1" stroke-opacity="0.5" stroke-linecap="round"/><line x1="25" y1="53" x2="25.6" y2="48" stroke="#e8c890" stroke-width="0.9" stroke-opacity="0.5" stroke-linecap="round"/><line x1="25" y1="53" x2="24.3" y2="61.9" stroke="#e8c890" stroke-width="0.7" stroke-opacity="0.5" stroke-linecap="round"/><line x1="25" y1="53" x2="17.9" y2="59.6" stroke="#e8c890" stroke-width="1" stroke-opacity="0.5" stroke-linecap="round"/><line x1="25" y1="53" x2="20.1" y2="60" stroke="#e8c890" stroke-width="1.2" stroke-opacity="0.5" stroke-linecap="round"/><line x1="50" y1="16" x2="49.7" y2="9.7" stroke="#e8c890" stroke-width="1" stroke-opacity="0.5" stroke-linecap="round"/><line x1="50" y1="16" x2="49.3" y2="5.1" stroke="#e8c890" stroke-width="0.7" stroke-opacity="0.5" stroke-linecap="round"/><line x1="50" y1="16" x2="57.2" y2="10.5" stroke="#e8c890" stroke-width="1" stroke-opacity="0.5" stroke-linecap="round"/><line x1="50" y1="16" x2="47.8" y2="24.3" stroke="#e8c890" stroke-width="1" stroke-opacity="0.5" stroke-linecap="round"/><line x1="50" y1="16" x2="57" y2="24.4" stroke="#e8c890" stroke-width="1" stroke-opacity="0.5" stroke-linecap="round"/><line x1="50" y1="16" x2="53.9" y2="6" stroke="#e8c890" stroke-width="0.8" stroke-opacity="0.5" stroke-linecap="round"/><line x1="50" y1="16" x2="41.4" y2="18" stroke="#e8c890" stroke-width="0.8" stroke-opacity="0.5" stroke-linecap="round"/><line x1="52" y1="44" x2="54.8" y2="49.5" stroke="#e8c890" stroke-width="0.8" stroke-opacity="0.5" stroke-linecap="round"/><line x1="52" y1="44" x2="61.6" y2="46.6" stroke="#e8c890" stroke-width="1.1" stroke-opacity="0.5" stroke-linecap="round"/><line x1="52" y1="44" x2="57.5" y2="37.6" stroke="#e8c890" stroke-width="0.9" stroke-opacity="0.5" stroke-linecap="round"/><line x1="52" y1="44" x2="60.6" y2="48.7" stroke="#e8c890" stroke-width="1" stroke-opacity="0.5" stroke-linecap="round"/><line x1="52" y1="44" x2="43.5" y2="42.5" stroke="#e8c890" stroke-width="1.2" stroke-opacity="0.5" stroke-linecap="round"/><line x1="52" y1="44" x2="46.4" y2="35.9" stroke="#e8c890" stroke-width="1.1" stroke-opacity="0.5" stroke-linecap="round"/><line x1="52" y1="44" x2="56.3" y2="38.9" stroke="#e8c890" stroke-width="1.1" stroke-opacity="0.5" stroke-linecap="round"/><line x1="64" y1="36" x2="55.4" y2="41.1" stroke="#e8c890" stroke-width="0.7" stroke-opacity="0.5" stroke-linecap="round"/><line x1="64" y1="36" x2="55.7" y2="32.9" stroke="#e8c890" stroke-width="0.6" stroke-opacity="0.5" stroke-linecap="round"/><line x1="64" y1="36" x2="69.3" y2="46.9" stroke="#e8c890" stroke-width="1" stroke-opacity="0.5" stroke-linecap="round"/><line x1="64" y1="36" x2="70" y2="31.6" stroke="#e8c890" stroke-width="0.8" stroke-opacity="0.5" stroke-linecap="round"/><line x1="64" y1="36" x2="54" y2="37.5" stroke="#e8c890" stroke-width="0.6" stroke-opacity="0.5" stroke-linecap="round"/><line x1="64" y1="36" x2="67.8" y2="30.8" stroke="#e8c890" stroke-width="0.8" stroke-opacity="0.5" stroke-linecap="round"/><line x1="64" y1="36" x2="58.4" y2="29.7" stroke="#e8c890" stroke-width="0.8" stroke-opacity="0.5" stroke-linecap="round"/><line x1="63" y1="53" x2="69.5" y2="59.6" stroke="#e8c890" stroke-width="0.7" stroke-opacity="0.5" stroke-linecap="round"/><line x1="63" y1="53" x2="61.8" y2="43.2" stroke="#e8c890" stroke-width="0.8" stroke-opacity="0.5" stroke-linecap="round"/><line x1="63" y1="53" x2="67.3" y2="46.9" stroke="#e8c890" stroke-width="0.7" stroke-opacity="0.5" stroke-linecap="round"/><line x1="63" y1="53" x2="56.2" y2="61.6" stroke="#e8c890" stroke-width="1.2" stroke-opacity="0.5" stroke-linecap="round"/><line x1="63" y1="53" x2="64.1" y2="40.9" stroke="#e8c890" stroke-width="0.9" stroke-opacity="0.5" stroke-linecap="round"/><line x1="63" y1="53" x2="67.9" y2="47.4" stroke="#e8c890" stroke-width="1.1" stroke-opacity="0.5" stroke-linecap="round"/><line x1="63" y1="53" x2="71.3" y2="55.3" stroke="#e8c890" stroke-width="0.7" stroke-opacity="0.5" stroke-linecap="round"/><line x1="40" y1="8" x2="45.1" y2="3.7" stroke="#e8c890" stroke-width="0.9" stroke-opacity="0.5" stroke-linecap="round"/><line x1="40" y1="8" x2="32.1" y2="18.1" stroke="#e8c890" stroke-width="0.9" stroke-opacity="0.5" stroke-linecap="round"/><line x1="40" y1="8" x2="44" y2="0.9" stroke="#e8c890" stroke-width="0.9" stroke-opacity="0.5" stroke-linecap="round"/><line x1="40" y1="8" x2="39.2" y2="-4.5" stroke="#e8c890" stroke-width="0.7" stroke-opacity="0.5" stroke-linecap="round"/><line x1="40" y1="8" x2="37.3" y2="1.3" stroke="#e8c890" stroke-width="0.9" stroke-opacity="0.5" stroke-linecap="round"/><line x1="40" y1="8" x2="30.3" y2="11.8" stroke="#e8c890" stroke-width="1.2" stroke-opacity="0.5" stroke-linecap="round"/><line x1="40" y1="8" x2="44" y2="0.4" stroke="#e8c890" stroke-width="1.1" stroke-opacity="0.5" stroke-linecap="round"/><ellipse cx="23" cy="4" rx="6" ry="4" fill="url(#rgd)"/><ellipse cx="5" cy="11" rx="5" ry="5" fill="url(#rgd)"/><ellipse cx="15" cy="18" rx="5" ry="6" fill="url(#rgd)"/><ellipse cx="33" cy="31" rx="6" ry="5" fill="url(#rgd)"/><ellipse cx="4" cy="35" rx="5" ry="5" fill="url(#rgd)"/><ellipse cx="6" cy="46" rx="5" ry="5" fill="url(#rgd)"/><ellipse cx="25" cy="53" rx="5" ry="5" fill="url(#rgd)"/><ellipse cx="50" cy="16" rx="6" ry="4" fill="url(#rgd)"/><ellipse cx="52" cy="44" rx="5" ry="5" fill="url(#rgd)"/><ellipse cx="64" cy="36" rx="5" ry="5" fill="url(#rgd)"/><ellipse cx="63" cy="53" rx="5" ry="5" fill="url(#rgd)"/><ellipse cx="40" cy="8" rx="4" ry="4" fill="url(#rgd)"/></g></g></g>
<line x1="394.8" y1="461.3" x2="666.2" y2="271" stroke="#000" stroke-width="1.8" stroke-dasharray="11.8 9.6" stroke-dashoffset="2.2"/>
<rect x="554.7" y="274.6" width="105.9" height="39.3" fill="#fff"/>
<line x1="505.4" y1="431.4" x2="649.7" y2="410.3" stroke="#666" stroke-width="1"/>
<circle cx="504.8" cy="434.2" r="2.45" fill="#000"/>
<circle cx="535.5" cy="420.9" r="2.45" fill="#000"/>
<circle cx="541.7" cy="421.9" r="2.45" fill="#000"/>
<circle cx="535.5" cy="432.9" r="2.45" fill="#000"/>
<circle cx="539.1" cy="437.2" r="2.45" fill="#000"/>
<circle cx="551.7" cy="432.6" r="2.45" fill="#000"/>
<circle cx="553.4" cy="420.9" r="2.45" fill="#000"/>
<circle cx="555.5" cy="417.9" r="2.45" fill="#000"/>
<circle cx="558.1" cy="418.1" r="2.45" fill="#000"/>
<circle cx="561.7" cy="420.9" r="2.45" fill="#000"/>
<circle cx="560.7" cy="432" r="2.45" fill="#000"/>
<circle cx="570.9" cy="423.3" r="2.45" fill="#000"/>
<circle cx="579.7" cy="423.3" r="2.45" fill="#000"/>
<circle cx="579.7" cy="413.7" r="2.45" fill="#000"/>
<circle cx="581.9" cy="413.1" r="2.45" fill="#000"/>
<circle cx="582.7" cy="405.9" r="2.45" fill="#000"/>
<circle cx="597" cy="411.8" r="2.45" fill="#000"/>
<circle cx="599.8" cy="406" r="2.45" fill="#000"/>
<circle cx="601.5" cy="418.2" r="2.45" fill="#000"/>
<circle cx="599.8" cy="432" r="2.45" fill="#000"/>
<circle cx="610.6" cy="404.6" r="2.45" fill="#000"/>
<circle cx="613.3" cy="395.5" r="2.45" fill="#000"/>
<circle cx="606.9" cy="439.2" r="2.45" fill="#000"/>
<circle cx="649.6" cy="425.9" r="2.45" fill="#000"/>
<rect x="556.7" y="277.9" width="101.9" height="34.1" fill="#fff" stroke="#555" stroke-width="1"/>
<line x1="561.9" y1="290.1" x2="581.9" y2="290.1" stroke="#888" stroke-width="1"/>
<text x="587.2" y="295.4" font-size="8.8" fill="#222">R<tspan font-size="8.36" dy="-3.6">2</tspan><tspan dy="3.6"> = 0.17</tspan></text>
<text x="587.2" y="305.2" font-size="8.8" fill="#222">p-value = 0.0425</text>
<rect x="394.8" y="271" width="271.4" height="190.3" fill="none" stroke="#0a0a0a" stroke-width="1.5"/>
<line x1="394.8" y1="461.3" x2="394.8" y2="464.3" stroke="#1a1a1a" stroke-width="1"/>
<text x="394.8" y="476.8" font-size="9.2" fill="#222" text-anchor="middle">0</text>
<line x1="440.03" y1="461.3" x2="440.03" y2="464.3" stroke="#1a1a1a" stroke-width="1"/>
<text x="440.03" y="476.8" font-size="9.2" fill="#222" text-anchor="middle">50</text>
<line x1="485.27" y1="461.3" x2="485.27" y2="464.3" stroke="#1a1a1a" stroke-width="1"/>
<text x="485.27" y="476.8" font-size="9.2" fill="#222" text-anchor="middle">100</text>
<line x1="530.5" y1="461.3" x2="530.5" y2="464.3" stroke="#1a1a1a" stroke-width="1"/>
<text x="530.5" y="476.8" font-size="9.2" fill="#222" text-anchor="middle">150</text>
<line x1="575.73" y1="461.3" x2="575.73" y2="464.3" stroke="#1a1a1a" stroke-width="1"/>
<text x="575.73" y="476.8" font-size="9.2" fill="#222" text-anchor="middle">200</text>
<line x1="620.97" y1="461.3" x2="620.97" y2="464.3" stroke="#1a1a1a" stroke-width="1"/>
<text x="620.97" y="476.8" font-size="9.2" fill="#222" text-anchor="middle">250</text>
<line x1="666.2" y1="461.3" x2="666.2" y2="464.3" stroke="#1a1a1a" stroke-width="1"/>
<text x="666.2" y="476.8" font-size="9.2" fill="#222" text-anchor="middle">300</text>
<line x1="391.5" y1="461.3" x2="394.8" y2="461.3" stroke="#1a1a1a" stroke-width="1"/>
<text x="386.8" y="465.2" font-size="9.2" fill="#222" text-anchor="end">0</text>
<line x1="391.5" y1="429.58" x2="394.8" y2="429.58" stroke="#1a1a1a" stroke-width="1"/>
<text x="386.8" y="433.48" font-size="9.2" fill="#222" text-anchor="end">50</text>
<line x1="391.5" y1="397.87" x2="394.8" y2="397.87" stroke="#1a1a1a" stroke-width="1"/>
<text x="386.8" y="401.77" font-size="9.2" fill="#222" text-anchor="end">100</text>
<line x1="391.5" y1="366.15" x2="394.8" y2="366.15" stroke="#1a1a1a" stroke-width="1"/>
<text x="386.8" y="370.05" font-size="9.2" fill="#222" text-anchor="end">150</text>
<line x1="391.5" y1="334.43" x2="394.8" y2="334.43" stroke="#1a1a1a" stroke-width="1"/>
<text x="386.8" y="338.33" font-size="9.2" fill="#222" text-anchor="end">200</text>
<line x1="391.5" y1="302.72" x2="394.8" y2="302.72" stroke="#1a1a1a" stroke-width="1"/>
<text x="386.8" y="306.62" font-size="9.2" fill="#222" text-anchor="end">250</text>
<line x1="391.5" y1="271" x2="394.8" y2="271" stroke="#1a1a1a" stroke-width="1"/>
<text x="386.8" y="274.9" font-size="9.2" fill="#222" text-anchor="end">300</text>
<text x="530.5" y="494.1" font-size="8.8" fill="#222" text-anchor="middle">Manual counting</text>
<text transform="translate(363.6,366.15) rotate(-90)" font-size="8.8" fill="#222" text-anchor="middle">Algorithm counting</text>
<text x="358.8" y="273.8" font-size="14" font-weight="bold" fill="#000">d</text>
</svg></body></html>
